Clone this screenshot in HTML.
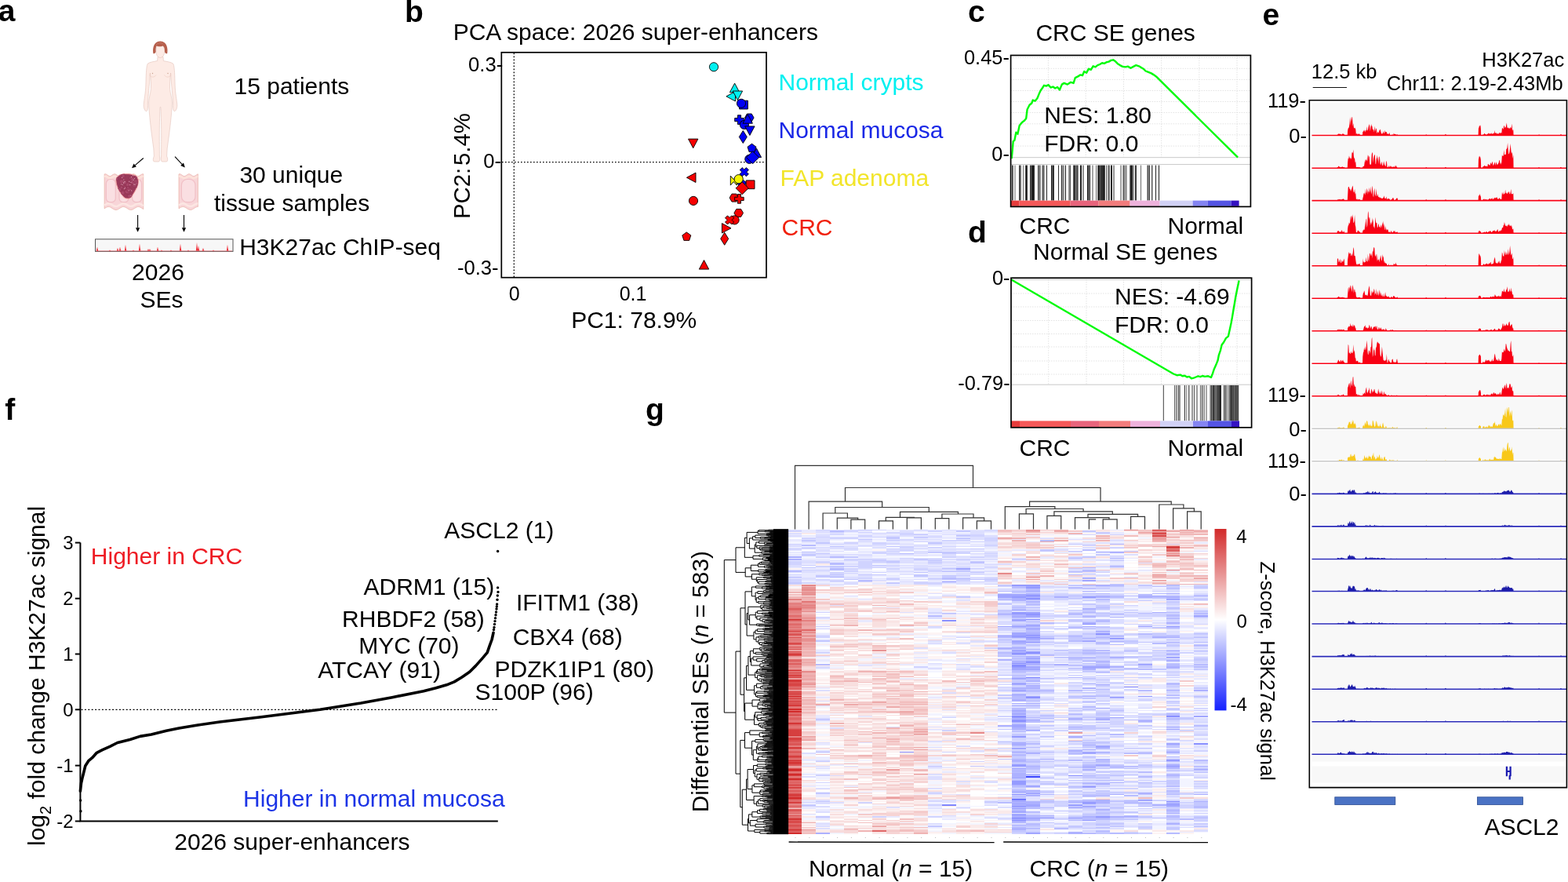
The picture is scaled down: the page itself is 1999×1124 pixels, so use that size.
<!DOCTYPE html>
<html><head><meta charset="utf-8"><title>Figure</title>
<style>html,body{margin:0;padding:0;background:#fff;overflow:hidden}svg{display:block}</style></head>
<body>
<svg width="1999" height="1124" viewBox="0 0 1999 1124" font-family="'Liberation Sans', Arial, Helvetica, sans-serif" font-size="30">
<text x="-2.3" y="27.2" font-size="39" font-weight="bold">a</text>
<path d="M201,72.5 L200.6,77.6 C196,78.6 190.5,79 188,81.5 C186.3,86 186.2,98 185.9,108 C185.6,119 183.6,127 183.2,133.5 C182.9,137.5 184.8,141.8 186.6,141.8 C188.3,141.5 188.8,137 188.4,133 C188.6,122 190.6,110 191.4,93 C192.2,100 192.8,108 192.4,113.5 C191.8,120 189.6,125 189.7,131 C190,146 192.5,165 195.8,189 L196.4,199 C195.2,201.5 194.6,205.2 196.4,206 L202.6,206 C204.2,205 203.8,201.5 203.4,199 C203.4,187 202.8,162 204.1,136.5 L204.9,136.5 C206.2,162 205.6,187 205.6,199 C205.2,201.5 204.8,205 206.4,206 L212.6,206 C214.4,205.2 213.8,201.5 212.6,199 L213.2,189 C216.5,165 219,146 219.3,131 C219.4,125 217.2,120 216.6,113.5 C216.2,108 216.8,100 217.6,93 C218.4,110 220.4,122 220.6,133 C220.2,137 220.7,141.5 222.4,141.8 C224.2,141.8 226.1,137.5 225.8,133.5 C225.4,127 223.4,119 223.1,108 C222.8,98 222.7,86 221,81.5 C218.5,79 213,78.6 208.4,77.6 L208,72.5 Z" fill="#fdebe5" stroke="#e3c3bb" stroke-width="0.6"/>
<ellipse cx="204.3" cy="65" rx="5.6" ry="8.6" fill="#fdebe5" stroke="#e3c3bb" stroke-width="0.6"/>
<path d="M195.4,68.2 C194.4,62 195.4,52.8 204.3,52.4 C213.2,52.8 214.2,62 213.2,68.2 C211.8,68.8 210.4,67.6 210,66 C210.2,61.5 209.2,59.4 207.6,58.4 C205.2,59.6 201.2,59.6 199.6,58.6 C198.6,60.2 198.4,63.2 198.6,66 C198,67.6 196.6,68.8 195.4,68.2 Z" fill="#b65f4c"/>
<path d="M199,57 C201,54.5 205,54 207.5,55.5" stroke="#c98270" stroke-width="0.8" fill="none"/>
<circle cx="194.5" cy="93.5" r="0.7" fill="#c9a08c"/><circle cx="214" cy="93.5" r="0.7" fill="#c9a08c"/>
<path d="M190.5,95.5 C192.5,99 197,99 199,95.5 M209.5,95.5 C211.5,99 216,99 218,95.5" fill="none" stroke="#ecc9be" stroke-width="0.6"/>
<line x1="182.8" y1="201.5" x2="172.2" y2="210.6" stroke="#000" stroke-width="1.1"/><polygon points="168,214.2 170.5,208.6 173.9,212.6" fill="#000"/>
<line x1="223" y1="199.6" x2="232.1" y2="209.4" stroke="#000" stroke-width="1.1"/><polygon points="235.8,213.4 230.2,211.1 234,207.6" fill="#000"/>
<polygon points="133.1,221.9 134.3,221.7 135.6,222.1 136.8,222.9 138.1,223.8 139.3,224.4 140.6,224.5 141.8,224 143,223.1 144.3,222.3 145.5,221.8 146.8,221.8 148,222.3 149.3,223.2 150.5,224 151.7,224.5 153,224.4 154.2,223.7 155.5,222.8 156.7,222.1 157.9,221.7 159.2,221.9 160.4,222.6 161.7,223.5 162.9,224.2 164.2,224.5 165.4,224.2 166.6,223.4 167.9,222.5 169.1,221.9 170.4,221.7 171.6,222.1 172.9,222.9 174.1,223.8 175.3,224.4 176.6,224.5 177.8,224 179.1,223.1 180.3,222.3 181.6,221.8 182.8,221.8 182.8,266.6 181.6,265.8 180.3,265 179.1,264.3 177.8,263.7 176.6,263.5 175.3,263.6 174.1,264 172.9,264.7 171.6,265.5 170.4,266.3 169.1,267 167.9,267.4 166.6,267.5 165.4,267.3 164.2,266.8 162.9,266 161.7,265.2 160.4,264.5 159.2,263.9 157.9,263.5 156.7,263.5 155.5,263.9 154.2,264.5 153,265.2 151.7,266.1 150.5,266.8 149.3,267.3 148,267.5 146.8,267.4 145.5,266.9 144.3,266.3 143,265.5 141.8,264.7 140.6,264 139.3,263.6 138.1,263.5 136.8,263.7 135.6,264.3 134.3,265 133.1,265.8" fill="#f8d5d8" stroke="#e6a898" stroke-width="0.6"/>
<polyline points="133.1,224.9 134.3,224.7 135.6,225 136.8,225.7 138.1,226.5 139.3,227 140.6,227.1 141.8,226.7 143,225.9 144.3,225.2 145.5,224.8 146.8,224.8 148,225.3 149.3,226 150.5,226.7 151.7,227.1 153,227 154.2,226.4 155.5,225.7 156.7,225 157.9,224.7 159.2,224.9 160.4,225.5 161.7,226.3 162.9,226.9 164.2,227.1 165.4,226.8 166.6,226.2 167.9,225.4 169.1,224.9 170.4,224.7 171.6,225.1 172.9,225.7 174.1,226.5 175.3,227 176.6,227.1 177.8,226.6 179.1,225.9 180.3,225.2 181.6,224.7 182.8,224.8" fill="none" stroke="#fde3da" stroke-width="2.4"/>
<polyline points="182.8,262.2 181.6,261.5 180.3,260.7 179.1,260.1 177.8,259.6 176.6,259.4 175.3,259.5 174.1,259.9 172.9,260.5 171.6,261.2 170.4,261.9 169.1,262.5 167.9,262.9 166.6,263 165.4,262.8 164.2,262.3 162.9,261.7 161.7,260.9 160.4,260.3 159.2,259.7 157.9,259.4 156.7,259.4 155.5,259.7 154.2,260.3 153,261 151.7,261.7 150.5,262.4 149.3,262.8 148,263 146.8,262.9 145.5,262.5 144.3,261.9 143,261.2 141.8,260.4 140.6,259.9 139.3,259.5 138.1,259.4 136.8,259.6 135.6,260.1 134.3,260.8 133.1,261.5" fill="none" stroke="#fce6e2" stroke-width="2.6"/>
<rect x="135.4" y="228.5" width="11.9" height="29.2" rx="5" fill="#fadfe2" stroke="#f1c0c6" stroke-width="1.2"/>
<rect x="152" y="228.5" width="11.9" height="29.2" rx="5" fill="#fadfe2" stroke="#f1c0c6" stroke-width="1.2"/>
<rect x="168.6" y="228.5" width="11.9" height="29.2" rx="5" fill="#fadfe2" stroke="#f1c0c6" stroke-width="1.2"/>
<clipPath id="tum"><path d="M148,232 C147.2,224.5 152,221.6 161,221.6 C170,221.6 176.6,224 176.4,231 C176.2,238 171,246 167,251.5 C164,254 159.5,253.4 157,250.5 C153,245.5 148.6,238 148,232 Z"/></clipPath>
<path d="M148,232 C147.2,224.5 152,221.6 161,221.6 C170,221.6 176.6,224 176.4,231 C176.2,238 171,246 167,251.5 C164,254 159.5,253.4 157,250.5 C153,245.5 148.6,238 148,232 Z" fill="#9a3a5a" stroke="#f4a0a0" stroke-width="1"/>
<g clip-path="url(#tum)"><circle cx="154.9" cy="238.9" r="1.9" fill="#a9486a" stroke="#8a2f4f" stroke-width="0.4"/><circle cx="165.5" cy="241.4" r="1.6" fill="#a9486a" stroke="#8a2f4f" stroke-width="0.4"/><circle cx="148.4" cy="248" r="1.8" fill="#a9486a" stroke="#8a2f4f" stroke-width="0.4"/><circle cx="154.8" cy="252.9" r="2" fill="#a9486a" stroke="#8a2f4f" stroke-width="0.4"/><circle cx="172.3" cy="236.8" r="2.2" fill="#a9486a" stroke="#8a2f4f" stroke-width="0.4"/><circle cx="152.4" cy="241.7" r="2.5" fill="#a9486a" stroke="#8a2f4f" stroke-width="0.4"/><circle cx="163.2" cy="245" r="2.2" fill="#a9486a" stroke="#8a2f4f" stroke-width="0.4"/><circle cx="149.9" cy="245.5" r="2.2" fill="#a9486a" stroke="#8a2f4f" stroke-width="0.4"/><circle cx="156.7" cy="223" r="2.5" fill="#a9486a" stroke="#8a2f4f" stroke-width="0.4"/><circle cx="161.7" cy="244.3" r="2.5" fill="#a9486a" stroke="#8a2f4f" stroke-width="0.4"/><circle cx="168.7" cy="250.6" r="1.9" fill="#a9486a" stroke="#8a2f4f" stroke-width="0.4"/><circle cx="171.2" cy="235.8" r="2.5" fill="#a9486a" stroke="#8a2f4f" stroke-width="0.4"/><circle cx="173.5" cy="225" r="1.6" fill="#a9486a" stroke="#8a2f4f" stroke-width="0.4"/><circle cx="154.3" cy="251.9" r="2" fill="#a9486a" stroke="#8a2f4f" stroke-width="0.4"/><circle cx="166.2" cy="231.3" r="2.1" fill="#a9486a" stroke="#8a2f4f" stroke-width="0.4"/><circle cx="159.2" cy="232.9" r="2.1" fill="#a9486a" stroke="#8a2f4f" stroke-width="0.4"/><circle cx="164.9" cy="250" r="2.3" fill="#a9486a" stroke="#8a2f4f" stroke-width="0.4"/><circle cx="174.9" cy="248.5" r="2.6" fill="#a9486a" stroke="#8a2f4f" stroke-width="0.4"/><circle cx="167.5" cy="227.1" r="2.4" fill="#a9486a" stroke="#8a2f4f" stroke-width="0.4"/><circle cx="176" cy="250" r="2.1" fill="#a9486a" stroke="#8a2f4f" stroke-width="0.4"/><circle cx="168.7" cy="228.5" r="2.4" fill="#a9486a" stroke="#8a2f4f" stroke-width="0.4"/><circle cx="164.6" cy="230.8" r="1.6" fill="#a9486a" stroke="#8a2f4f" stroke-width="0.4"/><circle cx="172.8" cy="252.7" r="1.6" fill="#a9486a" stroke="#8a2f4f" stroke-width="0.4"/><circle cx="171.2" cy="234.7" r="1.7" fill="#a9486a" stroke="#8a2f4f" stroke-width="0.4"/><circle cx="156.5" cy="245.8" r="2.5" fill="#a9486a" stroke="#8a2f4f" stroke-width="0.4"/><circle cx="149.3" cy="241.1" r="1.5" fill="#a9486a" stroke="#8a2f4f" stroke-width="0.4"/><circle cx="168.8" cy="232.3" r="2.5" fill="#a9486a" stroke="#8a2f4f" stroke-width="0.4"/><circle cx="176.4" cy="237.7" r="2.6" fill="#a9486a" stroke="#8a2f4f" stroke-width="0.4"/><circle cx="157" cy="224.4" r="2.2" fill="#a9486a" stroke="#8a2f4f" stroke-width="0.4"/><circle cx="148.9" cy="228.1" r="1.9" fill="#a9486a" stroke="#8a2f4f" stroke-width="0.4"/><circle cx="165.7" cy="226.8" r="1.5" fill="#a9486a" stroke="#8a2f4f" stroke-width="0.4"/><circle cx="173.2" cy="231.7" r="2.6" fill="#a9486a" stroke="#8a2f4f" stroke-width="0.4"/><circle cx="174" cy="233.7" r="2" fill="#a9486a" stroke="#8a2f4f" stroke-width="0.4"/><circle cx="163.1" cy="242" r="2.2" fill="#a9486a" stroke="#8a2f4f" stroke-width="0.4"/><circle cx="164.2" cy="241.2" r="2.5" fill="#a9486a" stroke="#8a2f4f" stroke-width="0.4"/><circle cx="162.7" cy="235.4" r="2.3" fill="#a9486a" stroke="#8a2f4f" stroke-width="0.4"/><circle cx="154.9" cy="231.3" r="2.6" fill="#a9486a" stroke="#8a2f4f" stroke-width="0.4"/><circle cx="163.1" cy="239" r="1.5" fill="#a9486a" stroke="#8a2f4f" stroke-width="0.4"/><circle cx="160" cy="240" r="1.5" fill="#a9486a" stroke="#8a2f4f" stroke-width="0.4"/><circle cx="165.9" cy="241.6" r="1.6" fill="#a9486a" stroke="#8a2f4f" stroke-width="0.4"/><circle cx="165.7" cy="235.6" r="0.6" fill="#e0a8bc"/><circle cx="167" cy="232.5" r="0.6" fill="#e0a8bc"/><circle cx="167.7" cy="242.9" r="0.6" fill="#e0a8bc"/><circle cx="150.6" cy="224.6" r="0.6" fill="#e0a8bc"/><circle cx="166.9" cy="249" r="0.6" fill="#e0a8bc"/><circle cx="156.3" cy="235.3" r="0.6" fill="#e0a8bc"/><circle cx="164.8" cy="231.6" r="0.6" fill="#e0a8bc"/><circle cx="159.1" cy="231.4" r="0.6" fill="#e0a8bc"/><circle cx="159.2" cy="239.1" r="0.6" fill="#e0a8bc"/><circle cx="157.5" cy="233.2" r="0.6" fill="#e0a8bc"/><circle cx="169.3" cy="223.7" r="0.6" fill="#e0a8bc"/><circle cx="164.2" cy="242.8" r="0.6" fill="#e0a8bc"/><circle cx="157.8" cy="229" r="0.6" fill="#e0a8bc"/><circle cx="170.1" cy="229.4" r="0.6" fill="#e0a8bc"/><circle cx="154.7" cy="234.8" r="0.6" fill="#e0a8bc"/><circle cx="167.5" cy="225.7" r="0.6" fill="#e0a8bc"/><circle cx="158" cy="232" r="0.6" fill="#e0a8bc"/><circle cx="170.8" cy="234.8" r="0.6" fill="#e0a8bc"/><circle cx="171.4" cy="227.6" r="0.6" fill="#e0a8bc"/><circle cx="158.4" cy="240.6" r="0.6" fill="#e0a8bc"/><circle cx="172.1" cy="235.2" r="0.6" fill="#e0a8bc"/><circle cx="155.6" cy="226.3" r="0.6" fill="#e0a8bc"/></g>
<polygon points="228,221.9 228.6,221.7 229.2,221.7 229.8,221.8 230.4,222.1 231.1,222.4 231.7,222.9 232.3,223.3 232.9,223.7 233.5,224.1 234.1,224.3 234.7,224.5 235.3,224.5 235.9,224.3 236.5,224.1 237.2,223.7 237.8,223.3 238.4,222.8 239,222.4 239.6,222.1 240.2,221.8 240.8,221.7 241.4,221.7 242,221.9 242.6,222.2 243.2,222.6 243.9,223 244.5,223.4 245.1,223.9 245.7,224.2 246.3,224.4 246.9,224.5 247.5,224.4 248.1,224.3 248.7,224 249.3,223.6 250,223.1 250.6,222.7 251.2,222.3 251.8,222 252.4,221.8 252.4,263.5 251.8,263.5 251.2,263.6 250.6,263.8 250,264 249.3,264.4 248.7,264.7 248.1,265.1 247.5,265.5 246.9,265.9 246.3,266.3 245.7,266.6 245.1,266.9 244.5,267.2 243.9,267.4 243.2,267.5 242.6,267.5 242,267.4 241.4,267.3 240.8,267.1 240.2,266.8 239.6,266.5 239,266.1 238.4,265.7 237.8,265.3 237.2,264.9 236.5,264.6 235.9,264.2 235.3,264 234.7,263.7 234.1,263.6 233.5,263.5 232.9,263.5 232.3,263.6 231.7,263.8 231.1,264 230.4,264.3 229.8,264.6 229.2,265 228.6,265.4 228,265.8" fill="#f8d5d8" stroke="#e6a898" stroke-width="0.6"/>
<polyline points="228,224.9 228.6,224.7 229.2,224.7 229.8,224.8 230.4,225 231.1,225.3 231.7,225.7 232.3,226.1 232.9,226.4 233.5,226.7 234.1,227 234.7,227.1 235.3,227.1 235.9,227 236.5,226.7 237.2,226.4 237.8,226.1 238.4,225.7 239,225.3 239.6,225 240.2,224.8 240.8,224.7 241.4,224.7 242,224.9 242.6,225.1 243.2,225.4 243.9,225.8 244.5,226.2 245.1,226.5 245.7,226.8 246.3,227 246.9,227.1 247.5,227.1 248.1,226.9 248.7,226.6 249.3,226.3 250,225.9 250.6,225.5 251.2,225.2 251.8,224.9 252.4,224.8" fill="none" stroke="#fde3da" stroke-width="2.4"/>
<polyline points="252.4,259.4 251.8,259.4 251.2,259.5 250.6,259.7 250,259.9 249.3,260.2 248.7,260.5 248.1,260.8 247.5,261.2 246.9,261.5 246.3,261.9 245.7,262.2 245.1,262.5 244.5,262.7 243.9,262.9 243.2,263 242.6,263 242,262.9 241.4,262.8 240.8,262.6 240.2,262.4 239.6,262.1 239,261.8 238.4,261.4 237.8,261.1 237.2,260.7 236.5,260.4 235.9,260.1 235.3,259.8 234.7,259.6 234.1,259.5 233.5,259.4 232.9,259.4 232.3,259.5 231.7,259.6 231.1,259.9 230.4,260.1 229.8,260.4 229.2,260.8 228.6,261.1 228,261.5" fill="none" stroke="#fce6e2" stroke-width="2.6"/>
<rect x="231.4" y="228.5" width="17.6" height="29.2" rx="7.3" fill="#fadfe2" stroke="#f1c0c6" stroke-width="1.2"/>
<line x1="175.6" y1="274" x2="175.6" y2="290.3" stroke="#000" stroke-width="1.1"/><polygon points="175.6,295.8 173,290.3 178.2,290.3" fill="#000"/>
<line x1="234.5" y1="274" x2="234.5" y2="290.3" stroke="#000" stroke-width="1.1"/><polygon points="234.5,295.8 231.9,290.3 237.1,290.3" fill="#000"/>
<rect x="121.5" y="304.8" width="175.5" height="15.6" fill="#f7f7f7" stroke="#555" stroke-width="1"/>
<polygon points="122.5,319.8 122.8,319.8 124,314.4 124.6,317.4 125.4,319.8 138.8,319.8 140,318.4 140.6,319.2 141.4,319.8 148.8,319.8 150,315.8 150.6,318 151.4,319.8 151.8,319.8 153,314.4 153.6,317.4 154.4,319.8 158.8,319.8 160,311.7 160.6,316.2 161.4,319.8 168.8,319.8 170,318.4 170.6,319.2 171.4,319.8 176.8,319.8 178,310.4 178.6,315.6 179.4,319.8 187.8,319.8 189,317.1 189.6,318.6 190.4,319.8 189.8,319.8 191,317.1 191.6,318.6 192.4,319.8 199.8,319.8 201,314.4 201.6,317.4 202.4,319.8 204.8,319.8 206,318.4 206.6,319.2 207.4,319.8 216.8,319.8 218,318.4 218.6,319.2 219.4,319.8 228.8,319.8 230,310.4 230.6,315.6 231.4,319.8 238.8,319.8 240,318.4 240.6,319.2 241.4,319.8 249.8,319.8 251,309 251.6,315 252.4,319.8 251.8,319.8 253,313.1 253.6,316.8 254.4,319.8 257.8,319.8 259,315.8 259.6,318 260.4,319.8 270.8,319.8 272,318.4 272.6,319.2 273.4,319.8 288.8,319.8 290,311.7 290.6,316.2 291.4,319.8 296,319.8" fill="#f0303a"/>
<line x1="122.5" y1="319.8" x2="296" y2="319.8" stroke="#f0606a" stroke-width="0.6"/>
<text x="298.5" y="119.6">15 patients</text>
<text x="305.4" y="233">30 unique</text>
<text x="272.9" y="268.5">tissue samples</text>
<text x="305.2" y="324.5">H3K27ac ChIP-seq</text>
<text x="168.1" y="356.9">2026</text>
<text x="178.6" y="392.4">SEs</text>
<text x="516.1" y="27.6" font-size="39" font-weight="bold">b</text>
<text x="577.7" y="51.3">PCA space: 2026 super-enhancers</text>
<rect x="639.3" y="66.8" width="337.7" height="286.9" fill="none" stroke="#000" stroke-width="1.7"/>
<line x1="655.3" y1="67.6" x2="655.3" y2="353" stroke="#000" stroke-width="1.3" stroke-dasharray="1.6,2.4"/>
<line x1="640" y1="206.6" x2="976.2" y2="206.6" stroke="#000" stroke-width="1.3" stroke-dasharray="1.6,2.4"/>
<text x="597.1" y="90.7" font-size="25.6">0.3-</text>
<text x="616.3" y="214.1" font-size="25.6">0-</text>
<text x="583" y="349.8" font-size="25.6">-0.3-</text>
<text x="648.7" y="382.5" font-size="25">0</text>
<text x="789.7" y="382.5" font-size="25">0.1</text>
<text x="728.2" y="418">PC1: 78.9%</text>
<text transform="translate(598.8,276.7) rotate(-90)" x="-2.4" font-size="29.4">PC2:<tspan dx="-5.5"> 5.4%</tspan></text>
<text x="992.5" y="115" fill="#00f0f0">Normal crypts</text>
<text x="992.5" y="175.6" fill="#1a28e6">Normal mucosa</text>
<text x="994.5" y="237.3" fill="#f2e52a">FAP adenoma</text>
<text x="996.5" y="299.6" fill="#f0200a">CRC</text>
<polygon points="883.7,188.7 889.9,177.1 877.5,177.1" fill="#f50000" stroke="#000" stroke-width="0.9" stroke-linejoin="miter"/>
<polygon points="875.4,226.3 887,220.1 887,232.5" fill="#f50000" stroke="#000" stroke-width="0.9" stroke-linejoin="miter"/>
<circle cx="884" cy="255.9" r="5.6" fill="#f50000" stroke="#000" stroke-width="0.9" stroke-linejoin="miter"/>
<polygon points="875.3,295.9 880.8,299.9 878.7,306.4 871.9,306.4 869.8,299.9" fill="#f50000" stroke="#000" stroke-width="0.9" stroke-linejoin="miter"/>
<polygon points="897.5,331.5 903.7,343.1 891.3,343.1" fill="#f50000" stroke="#000" stroke-width="0.9" stroke-linejoin="miter"/>
<circle cx="910" cy="85.3" r="5.6" fill="#00f0f0" stroke="#000" stroke-width="0.9" stroke-linejoin="miter"/>
<polygon points="936.6,106.1 942.8,117.7 930.4,117.7" fill="#00f0f0" stroke="#000" stroke-width="0.9" stroke-linejoin="miter"/>
<polygon points="925.9,122.8 937.5,116.6 937.5,129" fill="#00f0f0" stroke="#000" stroke-width="0.9" stroke-linejoin="miter"/>
<polygon points="940.4,127.6 946.6,116 934.2,116" fill="#00f0f0" stroke="#000" stroke-width="0.9" stroke-linejoin="miter"/>
<polygon points="942.6,128.2 953.4,128.2 953.4,139 942.6,139" fill="#0000f5" stroke="#000" stroke-width="0.9" stroke-linejoin="miter"/>
<circle cx="945" cy="131.8" r="5.6" fill="#0000f5" stroke="#000" stroke-width="0.9" stroke-linejoin="miter"/>
<polygon points="961.1,150 958.2,155 952.4,155 949.5,150 952.4,145 958.2,145" fill="#0000f5" stroke="#000" stroke-width="0.9" stroke-linejoin="miter"/>
<polygon points="940.4,146.8 944.6,146.8 944.6,150.5 948.3,150.5 948.3,154.7 944.6,154.7 944.6,158.4 940.4,158.4 940.4,154.7 936.7,154.7 936.7,150.5 940.4,150.5" fill="#0000f5" stroke="#000" stroke-width="0.9" stroke-linejoin="miter"/>
<circle cx="948.9" cy="159" r="5.6" fill="#0000f5" stroke="#000" stroke-width="0.9" stroke-linejoin="miter"/>
<polygon points="953.2,145.6 959.4,157.2 947,157.2" fill="#0000f5" stroke="#000" stroke-width="0.9" stroke-linejoin="miter"/>
<polygon points="955.9,172.5 962.1,160.9 949.7,160.9" fill="#0000f5" stroke="#000" stroke-width="0.9" stroke-linejoin="miter"/>
<polygon points="947.3,166.5 952.3,174.5 947.3,182.5 942.3,174.5" fill="#0000f5" stroke="#000" stroke-width="0.9" stroke-linejoin="miter"/>
<polygon points="958.5,183.2 964,187.2 961.9,193.7 955.1,193.7 953,187.2" fill="#0000f5" stroke="#000" stroke-width="0.9" stroke-linejoin="miter"/>
<polygon points="964.4,188.9 970.6,200.5 958.2,200.5" fill="#0000f5" stroke="#000" stroke-width="0.9" stroke-linejoin="miter"/>
<circle cx="955.3" cy="202.8" r="5.6" fill="#0000f5" stroke="#000" stroke-width="0.9" stroke-linejoin="miter"/>
<polygon points="959.6,192.7 967.6,200.7 959.6,208.7 951.6,200.7" fill="#0000f5" stroke="#000" stroke-width="0.9" stroke-linejoin="miter"/>
<polygon points="951.4,213.6 954.4,216.6 951.8,219.2 954.4,221.8 951.4,224.8 948.8,222.2 946.2,224.8 943.2,221.8 945.8,219.2 943.2,216.6 946.2,213.6 948.8,216.2" fill="#0000f5" stroke="#000" stroke-width="0.9" stroke-linejoin="miter"/>
<polygon points="945.6,228.2 951.1,232.2 949,238.7 942.2,238.7 940.1,232.2" fill="#0000f5" stroke="#000" stroke-width="0.9" stroke-linejoin="miter"/>
<polygon points="931.3,224.1 935.3,228.6 939.3,224.1 939.3,236.1 935.3,231.6 931.3,236.1" fill="#f5f500" stroke="#000" stroke-width="0.9" stroke-linejoin="miter"/>
<circle cx="941.7" cy="228.2" r="5.6" fill="#f5f500" stroke="#000" stroke-width="0.9" stroke-linejoin="miter"/>
<polygon points="951.2,229.9 962,229.9 962,240.7 951.2,240.7" fill="#f50000" stroke="#000" stroke-width="0.9" stroke-linejoin="miter"/>
<polygon points="946.2,231.8 954.2,239.8 946.2,247.8 938.2,239.8" fill="#f50000" stroke="#000" stroke-width="0.9" stroke-linejoin="miter"/>
<polygon points="941.7,252.1 938.8,257.1 933,257.1 930.1,252.1 933,247.1 938.8,247.1" fill="#f50000" stroke="#000" stroke-width="0.9" stroke-linejoin="miter"/>
<polygon points="940.3,247.6 944.5,247.6 944.5,251.3 948.2,251.3 948.2,255.5 944.5,255.5 944.5,259.2 940.3,259.2 940.3,255.5 936.6,255.5 936.6,251.3 940.3,251.3" fill="#f50000" stroke="#000" stroke-width="0.9" stroke-linejoin="miter"/>
<polygon points="947.5,271.4 944.6,276.4 938.8,276.4 935.9,271.4 938.8,266.4 944.6,266.4" fill="#f50000" stroke="#000" stroke-width="0.9" stroke-linejoin="miter"/>
<circle cx="936.6" cy="280.4" r="5.6" fill="#f50000" stroke="#000" stroke-width="0.9" stroke-linejoin="miter"/>
<polygon points="932.7,274.8 935.7,277.8 933.1,280.4 935.7,283 932.7,286 930.1,283.4 927.5,286 924.5,283 927.1,280.4 924.5,277.8 927.5,274.8 930.1,277.4" fill="#f50000" stroke="#000" stroke-width="0.9" stroke-linejoin="miter"/>
<polygon points="932,290.8 920.4,284.6 920.4,297" fill="#f50000" stroke="#000" stroke-width="0.9" stroke-linejoin="miter"/>
<polygon points="923.7,296.3 928.7,304.3 923.7,312.3 918.7,304.3" fill="#f50000" stroke="#000" stroke-width="0.9" stroke-linejoin="miter"/>
<text x="1234.1" y="27.6" font-size="39" font-weight="bold">c</text>
<text x="1320.4" y="52.1">CRC SE genes</text>
<line x1="1336.4" y1="70.5" x2="1336.4" y2="200" stroke="#dcdcdc" stroke-width="0.8" stroke-dasharray="1.5,1.5"/><line x1="1384.2" y1="70.5" x2="1384.2" y2="200" stroke="#dcdcdc" stroke-width="0.8" stroke-dasharray="1.5,1.5"/><line x1="1432.5" y1="70.5" x2="1432.5" y2="200" stroke="#dcdcdc" stroke-width="0.8" stroke-dasharray="1.5,1.5"/><line x1="1480.6" y1="70.5" x2="1480.6" y2="200" stroke="#dcdcdc" stroke-width="0.8" stroke-dasharray="1.5,1.5"/><line x1="1528.8" y1="70.5" x2="1528.8" y2="200" stroke="#dcdcdc" stroke-width="0.8" stroke-dasharray="1.5,1.5"/><line x1="1577" y1="70.5" x2="1577" y2="200" stroke="#dcdcdc" stroke-width="0.8" stroke-dasharray="1.5,1.5"/><line x1="1288.6" y1="73.3" x2="1594.4" y2="73.3" stroke="#dcdcdc" stroke-width="0.8" stroke-dasharray="1.5,1.5"/><line x1="1288.6" y1="87.3" x2="1594.4" y2="87.3" stroke="#dcdcdc" stroke-width="0.8" stroke-dasharray="1.5,1.5"/><line x1="1288.6" y1="101.4" x2="1594.4" y2="101.4" stroke="#dcdcdc" stroke-width="0.8" stroke-dasharray="1.5,1.5"/><line x1="1288.6" y1="115.5" x2="1594.4" y2="115.5" stroke="#dcdcdc" stroke-width="0.8" stroke-dasharray="1.5,1.5"/><line x1="1288.6" y1="129.5" x2="1594.4" y2="129.5" stroke="#dcdcdc" stroke-width="0.8" stroke-dasharray="1.5,1.5"/><line x1="1288.6" y1="143.5" x2="1594.4" y2="143.5" stroke="#dcdcdc" stroke-width="0.8" stroke-dasharray="1.5,1.5"/><line x1="1288.6" y1="157.8" x2="1594.4" y2="157.8" stroke="#dcdcdc" stroke-width="0.8" stroke-dasharray="1.5,1.5"/><line x1="1288.6" y1="171.8" x2="1594.4" y2="171.8" stroke="#dcdcdc" stroke-width="0.8" stroke-dasharray="1.5,1.5"/><line x1="1288.6" y1="186.1" x2="1594.4" y2="186.1" stroke="#dcdcdc" stroke-width="0.8" stroke-dasharray="1.5,1.5"/>
<line x1="1288.6" y1="200.7" x2="1594.4" y2="200.7" stroke="#c8c8c8" stroke-width="1"/>
<line x1="1288.6" y1="209.6" x2="1594.4" y2="209.6" stroke="#c8c8c8" stroke-width="1"/>
<line x1="1290.5" y1="210.6" x2="1290.5" y2="255.6" stroke="rgb(60,60,60)" stroke-width="0.9"/><line x1="1291.2" y1="210.6" x2="1291.2" y2="255.6" stroke="rgb(25,25,25)" stroke-width="0.9"/><line x1="1294" y1="210.6" x2="1294" y2="255.6" stroke="rgb(90,90,90)" stroke-width="0.9"/><line x1="1299.5" y1="210.6" x2="1299.5" y2="255.6" stroke="rgb(25,25,25)" stroke-width="0.9"/><line x1="1300.5" y1="210.6" x2="1300.5" y2="255.6" stroke="rgb(90,90,90)" stroke-width="0.9"/><line x1="1301.5" y1="210.6" x2="1301.5" y2="255.6" stroke="rgb(90,90,90)" stroke-width="0.9"/><line x1="1304.5" y1="210.6" x2="1304.5" y2="255.6" stroke="rgb(90,90,90)" stroke-width="0.9"/><line x1="1307.5" y1="210.6" x2="1307.5" y2="255.6" stroke="rgb(60,60,60)" stroke-width="0.9"/><line x1="1308.5" y1="210.6" x2="1308.5" y2="255.6" stroke="rgb(0,0,0)" stroke-width="0.9"/><line x1="1309.5" y1="210.6" x2="1309.5" y2="255.6" stroke="rgb(40,40,40)" stroke-width="0.9"/><line x1="1313.5" y1="210.6" x2="1313.5" y2="255.6" stroke="rgb(10,10,10)" stroke-width="0.9"/><line x1="1314.5" y1="210.6" x2="1314.5" y2="255.6" stroke="rgb(90,90,90)" stroke-width="0.9"/><line x1="1315.5" y1="210.6" x2="1315.5" y2="255.6" stroke="rgb(0,0,0)" stroke-width="0.9"/><line x1="1316.5" y1="210.6" x2="1316.5" y2="255.6" stroke="rgb(10,10,10)" stroke-width="0.9"/><line x1="1317.5" y1="210.6" x2="1317.5" y2="255.6" stroke="rgb(0,0,0)" stroke-width="0.9"/><line x1="1318.5" y1="210.6" x2="1318.5" y2="255.6" stroke="rgb(25,25,25)" stroke-width="0.9"/><line x1="1323.5" y1="210.6" x2="1323.5" y2="255.6" stroke="rgb(40,40,40)" stroke-width="0.9"/><line x1="1325" y1="210.6" x2="1325" y2="255.6" stroke="rgb(10,10,10)" stroke-width="0.9"/><line x1="1326" y1="210.6" x2="1326" y2="255.6" stroke="rgb(40,40,40)" stroke-width="0.9"/><line x1="1329" y1="210.6" x2="1329" y2="255.6" stroke="rgb(60,60,60)" stroke-width="0.9"/><line x1="1330" y1="210.6" x2="1330" y2="255.6" stroke="rgb(0,0,0)" stroke-width="0.9"/><line x1="1331" y1="210.6" x2="1331" y2="255.6" stroke="rgb(60,60,60)" stroke-width="0.9"/><line x1="1334.5" y1="210.6" x2="1334.5" y2="255.6" stroke="rgb(10,10,10)" stroke-width="0.9"/><line x1="1340.5" y1="210.6" x2="1340.5" y2="255.6" stroke="rgb(0,0,0)" stroke-width="0.9"/><line x1="1341.5" y1="210.6" x2="1341.5" y2="255.6" stroke="rgb(90,90,90)" stroke-width="0.9"/><line x1="1342.5" y1="210.6" x2="1342.5" y2="255.6" stroke="rgb(10,10,10)" stroke-width="0.9"/><line x1="1343.5" y1="210.6" x2="1343.5" y2="255.6" stroke="rgb(40,40,40)" stroke-width="0.9"/><line x1="1349.5" y1="210.6" x2="1349.5" y2="255.6" stroke="rgb(25,25,25)" stroke-width="0.9"/><line x1="1353.5" y1="210.6" x2="1353.5" y2="255.6" stroke="rgb(10,10,10)" stroke-width="0.9"/><line x1="1354" y1="210.6" x2="1354" y2="255.6" stroke="rgb(40,40,40)" stroke-width="0.9"/><line x1="1356" y1="210.6" x2="1356" y2="255.6" stroke="rgb(10,10,10)" stroke-width="0.9"/><line x1="1358.5" y1="210.6" x2="1358.5" y2="255.6" stroke="rgb(0,0,0)" stroke-width="0.9"/><line x1="1363" y1="210.6" x2="1363" y2="255.6" stroke="rgb(10,10,10)" stroke-width="0.9"/><line x1="1364.5" y1="210.6" x2="1364.5" y2="255.6" stroke="rgb(60,60,60)" stroke-width="0.9"/><line x1="1368.5" y1="210.6" x2="1368.5" y2="255.6" stroke="rgb(60,60,60)" stroke-width="0.9"/><line x1="1369.5" y1="210.6" x2="1369.5" y2="255.6" stroke="rgb(40,40,40)" stroke-width="0.9"/><line x1="1370.5" y1="210.6" x2="1370.5" y2="255.6" stroke="rgb(10,10,10)" stroke-width="0.9"/><line x1="1372" y1="210.6" x2="1372" y2="255.6" stroke="rgb(10,10,10)" stroke-width="0.9"/><line x1="1373" y1="210.6" x2="1373" y2="255.6" stroke="rgb(0,0,0)" stroke-width="0.9"/><line x1="1374" y1="210.6" x2="1374" y2="255.6" stroke="rgb(0,0,0)" stroke-width="0.9"/><line x1="1377.5" y1="210.6" x2="1377.5" y2="255.6" stroke="rgb(10,10,10)" stroke-width="0.9"/><line x1="1378.5" y1="210.6" x2="1378.5" y2="255.6" stroke="rgb(10,10,10)" stroke-width="0.9"/><line x1="1381" y1="210.6" x2="1381" y2="255.6" stroke="rgb(10,10,10)" stroke-width="0.9"/><line x1="1386.5" y1="210.6" x2="1386.5" y2="255.6" stroke="rgb(10,10,10)" stroke-width="0.9"/><line x1="1387.5" y1="210.6" x2="1387.5" y2="255.6" stroke="rgb(25,25,25)" stroke-width="0.9"/><line x1="1389" y1="210.6" x2="1389" y2="255.6" stroke="rgb(25,25,25)" stroke-width="0.9"/><line x1="1389.5" y1="210.6" x2="1389.5" y2="255.6" stroke="rgb(10,10,10)" stroke-width="0.9"/><line x1="1393" y1="210.6" x2="1393" y2="255.6" stroke="rgb(60,60,60)" stroke-width="0.9"/><line x1="1397.5" y1="210.6" x2="1397.5" y2="255.6" stroke="rgb(90,90,90)" stroke-width="0.9"/><line x1="1399.5" y1="210.6" x2="1399.5" y2="255.6" stroke="rgb(90,90,90)" stroke-width="0.9"/><line x1="1400.5" y1="210.6" x2="1400.5" y2="255.6" stroke="rgb(10,10,10)" stroke-width="0.9"/><line x1="1401.5" y1="210.6" x2="1401.5" y2="255.6" stroke="rgb(10,10,10)" stroke-width="0.9"/><line x1="1402.5" y1="210.6" x2="1402.5" y2="255.6" stroke="rgb(90,90,90)" stroke-width="0.9"/><line x1="1403.5" y1="210.6" x2="1403.5" y2="255.6" stroke="rgb(10,10,10)" stroke-width="0.9"/><line x1="1404.5" y1="210.6" x2="1404.5" y2="255.6" stroke="rgb(40,40,40)" stroke-width="0.9"/><line x1="1405.5" y1="210.6" x2="1405.5" y2="255.6" stroke="rgb(25,25,25)" stroke-width="0.9"/><line x1="1406.5" y1="210.6" x2="1406.5" y2="255.6" stroke="rgb(0,0,0)" stroke-width="0.9"/><line x1="1407.5" y1="210.6" x2="1407.5" y2="255.6" stroke="rgb(25,25,25)" stroke-width="0.9"/><line x1="1408.5" y1="210.6" x2="1408.5" y2="255.6" stroke="rgb(40,40,40)" stroke-width="0.9"/><line x1="1411" y1="210.6" x2="1411" y2="255.6" stroke="rgb(10,10,10)" stroke-width="0.9"/><line x1="1413.5" y1="210.6" x2="1413.5" y2="255.6" stroke="rgb(10,10,10)" stroke-width="0.9"/><line x1="1414" y1="210.6" x2="1414" y2="255.6" stroke="rgb(25,25,25)" stroke-width="0.9"/><line x1="1416.5" y1="210.6" x2="1416.5" y2="255.6" stroke="rgb(0,0,0)" stroke-width="0.9"/><line x1="1417.5" y1="210.6" x2="1417.5" y2="255.6" stroke="rgb(25,25,25)" stroke-width="0.9"/><line x1="1420" y1="210.6" x2="1420" y2="255.6" stroke="rgb(25,25,25)" stroke-width="0.9"/><line x1="1429" y1="210.6" x2="1429" y2="255.6" stroke="rgb(60,60,60)" stroke-width="0.9"/><line x1="1432" y1="210.6" x2="1432" y2="255.6" stroke="rgb(60,60,60)" stroke-width="0.9"/><line x1="1433" y1="210.6" x2="1433" y2="255.6" stroke="rgb(0,0,0)" stroke-width="0.9"/><line x1="1435" y1="210.6" x2="1435" y2="255.6" stroke="rgb(60,60,60)" stroke-width="0.9"/><line x1="1436" y1="210.6" x2="1436" y2="255.6" stroke="rgb(90,90,90)" stroke-width="0.9"/><line x1="1440.5" y1="210.6" x2="1440.5" y2="255.6" stroke="rgb(90,90,90)" stroke-width="0.9"/><line x1="1441.5" y1="210.6" x2="1441.5" y2="255.6" stroke="rgb(25,25,25)" stroke-width="0.9"/><line x1="1442.5" y1="210.6" x2="1442.5" y2="255.6" stroke="rgb(0,0,0)" stroke-width="0.9"/><line x1="1443.5" y1="210.6" x2="1443.5" y2="255.6" stroke="rgb(25,25,25)" stroke-width="0.9"/><line x1="1445" y1="210.6" x2="1445" y2="255.6" stroke="rgb(25,25,25)" stroke-width="0.9"/><line x1="1447.5" y1="210.6" x2="1447.5" y2="255.6" stroke="rgb(25,25,25)" stroke-width="0.9"/><line x1="1448.5" y1="210.6" x2="1448.5" y2="255.6" stroke="rgb(40,40,40)" stroke-width="0.9"/><line x1="1454.5" y1="210.6" x2="1454.5" y2="255.6" stroke="rgb(90,90,90)" stroke-width="0.9"/><line x1="1463" y1="210.6" x2="1463" y2="255.6" stroke="rgb(25,25,25)" stroke-width="0.9"/><line x1="1464" y1="210.6" x2="1464" y2="255.6" stroke="rgb(10,10,10)" stroke-width="0.9"/><line x1="1465.5" y1="210.6" x2="1465.5" y2="255.6" stroke="rgb(40,40,40)" stroke-width="0.9"/><line x1="1468.5" y1="210.6" x2="1468.5" y2="255.6" stroke="rgb(40,40,40)" stroke-width="0.9"/><line x1="1469" y1="210.6" x2="1469" y2="255.6" stroke="rgb(90,90,90)" stroke-width="0.9"/><line x1="1473.5" y1="210.6" x2="1473.5" y2="255.6" stroke="rgb(10,10,10)" stroke-width="0.9"/><line x1="1477.5" y1="210.6" x2="1477.5" y2="255.6" stroke="rgb(0,0,0)" stroke-width="0.9"/>
<rect x="1288.6" y="255.6" width="11" height="7.2" fill="#e63c3c"/><rect x="1299.6" y="255.6" width="65" height="7.2" fill="#f55858"/><rect x="1364.6" y="255.6" width="36" height="7.2" fill="#e8647c"/><rect x="1400.6" y="255.6" width="40" height="7.2" fill="#f27c7c"/><rect x="1440.6" y="255.6" width="38" height="7.2" fill="#eeb2dc"/><rect x="1478.6" y="255.6" width="42" height="7.2" fill="#d2d2f6"/><rect x="1520.6" y="255.6" width="19" height="7.2" fill="#8484f2"/><rect x="1539.6" y="255.6" width="30" height="7.2" fill="#5454e4"/><rect x="1569.6" y="255.6" width="10" height="7.2" fill="#3412c2"/>
<polyline points="1289.7,202.2 1290.5,193.6 1291.7,180 1293.4,178.8 1295.4,168.6 1297.4,170.8 1299.7,160 1301.9,157.2 1303.9,155.2 1305.9,153.8 1308.2,150.9 1309.6,139.5 1312.5,133.8 1315.3,131.5 1316.7,127.6 1319.6,128.7 1322.4,125.3 1324.7,119.6 1326.7,115.3 1328.7,112.5 1331,108.8 1333.8,109.6 1336.7,108.2 1339.5,111.6 1342.4,110.5 1345.2,112.5 1348.1,111 1350.9,114.5 1353.8,107.6 1356.6,105.9 1360.9,107.6 1365.1,104.8 1368.6,105.9 1370.8,99.1 1374.3,97.4 1377.1,95.4 1380,96.2 1382.2,91.1 1385.1,92.8 1387.9,87.7 1390.8,88.8 1393.6,84.3 1396.5,85.4 1399.3,83.1 1402.2,82 1405,80.3 1407.9,80.9 1410.7,79.2 1413.6,78.6 1416.4,76.9 1419.2,76.3 1422.1,78.3 1424.9,81.2 1427.8,83.1 1431.2,84.9 1434.9,85.4 1437.8,84.6 1441.5,86.8 1444.9,84.9 1448.3,83.1 1452,84.3 1454.8,86 1457.7,87.7 1460.5,90.5 1463.4,91.7 1467.7,93.4 1470.5,95.1 1473.9,97.4 1578.1,200.7" fill="none" stroke="#00fa0a" stroke-width="2.4" stroke-linejoin="round"/>
<rect x="1288.6" y="70.5" width="305.8" height="192.9" fill="none" stroke="#000" stroke-width="1.7"/>
<text x="1229" y="81.6" font-size="25.4">0.45-</text>
<text x="1264.3" y="205" font-size="25.4">0-</text>
<text x="1331.3" y="156.6">NES: 1.80</text>
<text x="1331.3" y="193">FDR: 0.0</text>
<text x="1299.5" y="297.5">CRC</text>
<text x="1488.5" y="297.5">Normal</text>
<text x="1234" y="308.6" font-size="39" font-weight="bold">d</text>
<text x="1317.1" y="330.7">Normal SE genes</text>
<line x1="1336.7" y1="356" x2="1336.7" y2="490" stroke="#dcdcdc" stroke-width="0.8" stroke-dasharray="1.5,1.5"/><line x1="1385" y1="356" x2="1385" y2="490" stroke="#dcdcdc" stroke-width="0.8" stroke-dasharray="1.5,1.5"/><line x1="1432.5" y1="356" x2="1432.5" y2="490" stroke="#dcdcdc" stroke-width="0.8" stroke-dasharray="1.5,1.5"/><line x1="1480.5" y1="356" x2="1480.5" y2="490" stroke="#dcdcdc" stroke-width="0.8" stroke-dasharray="1.5,1.5"/><line x1="1529" y1="356" x2="1529" y2="490" stroke="#dcdcdc" stroke-width="0.8" stroke-dasharray="1.5,1.5"/><line x1="1577" y1="356" x2="1577" y2="490" stroke="#dcdcdc" stroke-width="0.8" stroke-dasharray="1.5,1.5"/><line x1="1289" y1="374" x2="1595.6" y2="374" stroke="#dcdcdc" stroke-width="0.8" stroke-dasharray="1.5,1.5"/><line x1="1289" y1="391" x2="1595.6" y2="391" stroke="#dcdcdc" stroke-width="0.8" stroke-dasharray="1.5,1.5"/><line x1="1289" y1="408.5" x2="1595.6" y2="408.5" stroke="#dcdcdc" stroke-width="0.8" stroke-dasharray="1.5,1.5"/><line x1="1289" y1="425.5" x2="1595.6" y2="425.5" stroke="#dcdcdc" stroke-width="0.8" stroke-dasharray="1.5,1.5"/><line x1="1289" y1="442" x2="1595.6" y2="442" stroke="#dcdcdc" stroke-width="0.8" stroke-dasharray="1.5,1.5"/><line x1="1289" y1="460" x2="1595.6" y2="460" stroke="#dcdcdc" stroke-width="0.8" stroke-dasharray="1.5,1.5"/><line x1="1289" y1="477" x2="1595.6" y2="477" stroke="#dcdcdc" stroke-width="0.8" stroke-dasharray="1.5,1.5"/>
<line x1="1289" y1="356.3" x2="1595.6" y2="356.3" stroke="#c8c8c8" stroke-width="1"/>
<line x1="1289" y1="490.2" x2="1595.6" y2="490.2" stroke="#c8c8c8" stroke-width="1"/>
<line x1="1483.3" y1="491" x2="1483.3" y2="536.4" stroke="rgb(40,40,40)" stroke-width="0.9"/><line x1="1497.6" y1="491" x2="1497.6" y2="536.4" stroke="rgb(60,60,60)" stroke-width="0.9"/><line x1="1499.8" y1="491" x2="1499.8" y2="536.4" stroke="rgb(25,25,25)" stroke-width="0.9"/><line x1="1502.2" y1="491" x2="1502.2" y2="536.4" stroke="rgb(25,25,25)" stroke-width="0.9"/><line x1="1504" y1="491" x2="1504" y2="536.4" stroke="rgb(10,10,10)" stroke-width="0.9"/><line x1="1510.4" y1="491" x2="1510.4" y2="536.4" stroke="rgb(10,10,10)" stroke-width="0.9"/><line x1="1512.8" y1="491" x2="1512.8" y2="536.4" stroke="rgb(90,90,90)" stroke-width="0.9"/><line x1="1515.8" y1="491" x2="1515.8" y2="536.4" stroke="rgb(0,0,0)" stroke-width="0.9"/><line x1="1520" y1="491" x2="1520" y2="536.4" stroke="rgb(25,25,25)" stroke-width="0.9"/><line x1="1522.5" y1="491" x2="1522.5" y2="536.4" stroke="rgb(60,60,60)" stroke-width="0.9"/><line x1="1526" y1="491" x2="1526" y2="536.4" stroke="rgb(40,40,40)" stroke-width="0.9"/><line x1="1530.4" y1="491" x2="1530.4" y2="536.4" stroke="rgb(60,60,60)" stroke-width="0.9"/><line x1="1532.6" y1="491" x2="1532.6" y2="536.4" stroke="rgb(0,0,0)" stroke-width="0.9"/><line x1="1535" y1="491" x2="1535" y2="536.4" stroke="rgb(25,25,25)" stroke-width="0.9"/><line x1="1538" y1="491" x2="1538" y2="536.4" stroke="rgb(60,60,60)" stroke-width="0.9"/><line x1="1543" y1="491" x2="1543" y2="536.4" stroke="rgb(60,60,60)" stroke-width="0.9"/><line x1="1543.9" y1="491" x2="1543.9" y2="536.4" stroke="rgb(90,90,90)" stroke-width="0.9"/><line x1="1544.8" y1="491" x2="1544.8" y2="536.4" stroke="rgb(0,0,0)" stroke-width="0.9"/><line x1="1545.7" y1="491" x2="1545.7" y2="536.4" stroke="rgb(90,90,90)" stroke-width="0.9"/><line x1="1546.6" y1="491" x2="1546.6" y2="536.4" stroke="rgb(40,40,40)" stroke-width="0.9"/><line x1="1547.5" y1="491" x2="1547.5" y2="536.4" stroke="rgb(10,10,10)" stroke-width="0.9"/><line x1="1548.4" y1="491" x2="1548.4" y2="536.4" stroke="rgb(90,90,90)" stroke-width="0.9"/><line x1="1549.3" y1="491" x2="1549.3" y2="536.4" stroke="rgb(40,40,40)" stroke-width="0.9"/><line x1="1550.2" y1="491" x2="1550.2" y2="536.4" stroke="rgb(90,90,90)" stroke-width="0.9"/><line x1="1551.1" y1="491" x2="1551.1" y2="536.4" stroke="rgb(40,40,40)" stroke-width="0.9"/><line x1="1552" y1="491" x2="1552" y2="536.4" stroke="rgb(10,10,10)" stroke-width="0.9"/><line x1="1552.9" y1="491" x2="1552.9" y2="536.4" stroke="rgb(10,10,10)" stroke-width="0.9"/><line x1="1553.8" y1="491" x2="1553.8" y2="536.4" stroke="rgb(10,10,10)" stroke-width="0.9"/><line x1="1554.7" y1="491" x2="1554.7" y2="536.4" stroke="rgb(0,0,0)" stroke-width="0.9"/><line x1="1555.6" y1="491" x2="1555.6" y2="536.4" stroke="rgb(0,0,0)" stroke-width="0.9"/><line x1="1556.5" y1="491" x2="1556.5" y2="536.4" stroke="rgb(10,10,10)" stroke-width="0.9"/><line x1="1560" y1="491" x2="1560" y2="536.4" stroke="rgb(60,60,60)" stroke-width="0.9"/><line x1="1561.5" y1="491" x2="1561.5" y2="536.4" stroke="rgb(60,60,60)" stroke-width="0.9"/><line x1="1563" y1="491" x2="1563" y2="536.4" stroke="rgb(0,0,0)" stroke-width="0.9"/><line x1="1565" y1="491" x2="1565" y2="536.4" stroke="rgb(90,90,90)" stroke-width="0.9"/><line x1="1567" y1="491" x2="1567" y2="536.4" stroke="rgb(40,40,40)" stroke-width="0.9"/><line x1="1567.9" y1="491" x2="1567.9" y2="536.4" stroke="rgb(90,90,90)" stroke-width="0.9"/><line x1="1568.8" y1="491" x2="1568.8" y2="536.4" stroke="rgb(0,0,0)" stroke-width="0.9"/><line x1="1569.7" y1="491" x2="1569.7" y2="536.4" stroke="rgb(25,25,25)" stroke-width="0.9"/><line x1="1570.6" y1="491" x2="1570.6" y2="536.4" stroke="rgb(10,10,10)" stroke-width="0.9"/><line x1="1571.5" y1="491" x2="1571.5" y2="536.4" stroke="rgb(90,90,90)" stroke-width="0.9"/><line x1="1572.4" y1="491" x2="1572.4" y2="536.4" stroke="rgb(10,10,10)" stroke-width="0.9"/><line x1="1573.3" y1="491" x2="1573.3" y2="536.4" stroke="rgb(90,90,90)" stroke-width="0.9"/><line x1="1574.2" y1="491" x2="1574.2" y2="536.4" stroke="rgb(40,40,40)" stroke-width="0.9"/><line x1="1575.1" y1="491" x2="1575.1" y2="536.4" stroke="rgb(0,0,0)" stroke-width="0.9"/><line x1="1576" y1="491" x2="1576" y2="536.4" stroke="rgb(25,25,25)" stroke-width="0.9"/><line x1="1576.9" y1="491" x2="1576.9" y2="536.4" stroke="rgb(10,10,10)" stroke-width="0.9"/><line x1="1577.8" y1="491" x2="1577.8" y2="536.4" stroke="rgb(40,40,40)" stroke-width="0.9"/><line x1="1578.7" y1="491" x2="1578.7" y2="536.4" stroke="rgb(25,25,25)" stroke-width="0.9"/>
<rect x="1289" y="536.4" width="11" height="7.8" fill="#e63c3c"/><rect x="1300" y="536.4" width="65" height="7.8" fill="#f55858"/><rect x="1365" y="536.4" width="36" height="7.8" fill="#e8647c"/><rect x="1401" y="536.4" width="40" height="7.8" fill="#f27c7c"/><rect x="1441" y="536.4" width="38" height="7.8" fill="#eeb2dc"/><rect x="1479" y="536.4" width="42" height="7.8" fill="#d2d2f6"/><rect x="1521" y="536.4" width="19" height="7.8" fill="#8484f2"/><rect x="1540" y="536.4" width="30" height="7.8" fill="#5454e4"/><rect x="1570" y="536.4" width="10" height="7.8" fill="#3412c2"/>
<polyline points="1289.1,356.3 1496.1,476.5 1500.4,478.2 1504.7,477.6 1507.5,479.3 1510.4,478.7 1513.2,480.5 1516.1,479.9 1518.9,482.2 1521.8,481.6 1524.6,480.5 1527.4,479.3 1530.3,480.2 1533.1,479 1536,479.9 1540.3,479.3 1544,481 1546,475.9 1547.9,470.2 1550.2,465.1 1552.5,459.4 1553.9,452.3 1555.9,446.6 1557.6,439.5 1560.2,436 1563,430.9 1565.9,428.6 1567.9,419.5 1569.6,411.5 1571,403.9 1572.4,395.3 1573.9,386.8 1575.3,378.2 1577.3,368.3 1579.6,357.4" fill="none" stroke="#00fa0a" stroke-width="2.4" stroke-linejoin="round"/>
<rect x="1289" y="354.2" width="306.6" height="190.6" fill="none" stroke="#000" stroke-width="1.7"/>
<text x="1265" y="363.3" font-size="25.4">0-</text>
<text x="1221.3" y="496.5" font-size="25.4">-0.79-</text>
<text x="1421" y="388.2">NES: -4.69</text>
<text x="1421" y="423.8">FDR: 0.0</text>
<text x="1299.5" y="581">CRC</text>
<text x="1488.5" y="581">Normal</text>
<text x="1609.5" y="32.2" font-size="39" font-weight="bold">e</text>
<text x="1889.3" y="84.7" font-size="25.5">H3K27ac</text>
<text x="1767.8" y="114.6" font-size="25.5">Chr11: 2.19-2.43Mb</text>
<text x="1671.8" y="99.6" font-size="25.5">12.5 kb</text>
<line x1="1673.7" y1="111.5" x2="1717" y2="111.5" stroke="#111" stroke-width="1.1"/>
<rect x="1670" y="128.5" width="327" height="874.5" fill="#fff"/>
<rect x="1672.3" y="131.5" width="323.4" height="839" fill="#f8f8f8"/>
<rect x="1672.3" y="976.5" width="323.4" height="21" fill="#f8f8f8"/>
<line x1="1672.5" y1="172.5" x2="1997" y2="172.5" stroke="#ffffff" stroke-width="3.8"/><polygon points="1704.6,172.5 1704.9,171.6 1705.5,171.4 1706.1,170.6 1706.7,170.6 1707.3,170.5 1707.9,171.1 1708.5,170.5 1709.1,170.9 1709.7,171.6 1710.3,171.3 1710.9,171.6 1711.5,170.4 1712.1,169.8 1712.7,171.1 1713.3,171.4 1713.9,170.7 1714.2,172.5" fill="#f80014"/><polygon points="1717.8,172.5 1718.1,166.8 1718.7,163.4 1719.3,163.2 1719.9,161.8 1720.5,157.6 1721.1,148.7 1721.7,160.1 1722.3,149.6 1722.9,155 1723.5,149 1724.1,149.5 1724.7,161 1725.3,157.1 1725.9,162.5 1726.5,163.7 1727.1,162.5 1727.7,163.4 1728.3,164.7 1728.9,171.6 1729.5,170.3 1730.1,169.5 1730.7,171.4 1731.3,171.3 1731.9,170.8 1732.5,169.7 1733.1,171.6 1733.7,171.1 1734,172.5" fill="#f80014"/><polygon points="1737,172.5 1737.3,167.4 1737.9,168.1 1738.5,166.8 1739.1,165.2 1739.7,166.9 1740.3,168.6 1740.9,166.1 1741.5,165.5 1742.1,167.2 1742.7,161.1 1743.3,166.3 1743.9,166 1744.5,162.2 1745.1,160.1 1745.7,158.1 1746.3,161.9 1746.9,167.5 1747.5,161.4 1748.1,158 1748.7,160.8 1749.3,160.6 1749.9,164.4 1750.5,165.5 1751.1,164.6 1751.7,168.6 1752.3,164.9 1752.9,160.7 1753.5,168.3 1754.1,164 1754.7,163.4 1755.3,169 1755.9,169.9 1756.5,167.2 1757.1,169.1 1757.7,169.1 1758.3,166.8 1758.9,165.8 1759.5,164.6 1760.1,166.4 1760.7,168.8 1761.3,170.4 1761.9,170.4 1762.5,170.3 1763.1,168.9 1763.7,166.9 1764.3,169.9 1764.9,169.7 1765.5,165.8 1766.1,169 1766.7,167.7 1767.3,168.2 1767.9,168.2 1768.5,170.9 1769.1,170.8 1769.7,170.1 1770.3,171.8 1770.9,170 1771.5,168.9 1772.1,171.9 1772.7,172 1773.3,171.9 1773.9,172 1774.5,172 1775.1,170.9 1775.7,171.9 1776.3,172 1776.9,169.6 1777.5,171 1778.1,170.8 1778.7,171 1779.3,171.5 1779.9,171.3 1780.5,171.9 1781.1,171 1781.7,171.7 1782,172.5" fill="#f80014"/><polygon points="1817.4,172.5 1817.7,171.4 1818.3,171.4 1818.9,171.4 1819.2,172.5" fill="#f80014"/><polygon points="1842,172.5 1842.3,171.1 1842.9,171.2 1843.5,171 1843.8,172.5" fill="#f80014"/><polygon points="1884.6,172.5 1884.9,163.7 1885.5,162.2 1886.1,159.4 1886.7,161.1 1887.3,159.3 1887.9,163.8 1888.2,172.5" fill="#f80014"/><polygon points="1890,172.5 1890.3,171.6 1890.9,171.6 1891.5,171.5 1892.1,170.4 1892.7,169.8 1893.3,170.7 1893.9,171.3 1894.5,171.6 1895.1,171.5 1895.7,171.4 1896.3,170.7 1896.9,170.5 1897.5,169.7 1898.1,169.5 1898.7,170.7 1899.3,170.2 1899.9,170.6 1900.5,169.9 1901.1,171 1901.7,169 1902.3,171.1 1902.9,170.2 1903.5,170.6 1904.1,169.3 1904.7,170.4 1905.3,166.1 1905.9,170 1906.5,169.6 1907.1,169.1 1907.7,169.7 1908.3,170.6 1908.9,170.4 1909.5,170.1 1910.1,170.5 1910.7,170.7 1911.3,168.7 1911.9,169.2 1912.5,170.2 1913.1,169.2 1913.7,168.8 1914.3,170.3 1914.9,163.6 1915.5,162.7 1916.1,164.7 1916.7,164.1 1917.3,159.7 1917.9,160.7 1918.5,163.1 1919.1,162.5 1919.7,161.8 1920.3,159.3 1920.9,156.6 1921.5,162.8 1922.1,163.4 1922.7,162.1 1923.3,163.4 1923.9,163.4 1924.5,163.5 1925.1,163.7 1925.7,161.4 1926.3,163.7 1926.9,162 1927.5,157.6 1928.1,167 1928.7,165 1929.3,165.4 1929.6,172.5" fill="#f80014"/><polygon points="1961.4,172.5 1961.7,171.4 1962.3,171.1 1962.6,172.5" fill="#f80014"/><polygon points="1989,172.5 1989.3,171.2 1989.9,171.3 1990.5,171.1 1990.8,172.5" fill="#f80014"/><line x1="1672.5" y1="172.5" x2="1997" y2="172.5" stroke="#f80014" stroke-width="1.6"/>
<line x1="1672.5" y1="214.2" x2="1997" y2="214.2" stroke="#ffffff" stroke-width="3.8"/><polygon points="1704.6,214.2 1704.9,212.9 1705.5,213.2 1706.1,211.9 1706.7,211.6 1707.3,212.6 1707.9,212.4 1708.5,213.1 1709.1,213.2 1709.7,213.2 1710.3,212.6 1710.9,213.1 1711.5,211.9 1712.1,213.2 1712.7,213.3 1713.3,213.3 1713.9,212.5 1714.2,214.2" fill="#f80014"/><polygon points="1717.8,214.2 1718.1,207.2 1718.7,201.5 1719.3,202.6 1719.9,198.4 1720.5,200.4 1721.1,202.7 1721.7,200.8 1722.3,201.6 1722.9,203.2 1723.5,194.6 1724.1,194.3 1724.7,194.9 1725.3,190.4 1725.9,199.6 1726.5,201.8 1727.1,202.1 1727.7,207.4 1728.3,205.7 1728.9,213.5 1729.5,213 1730.1,212.7 1730.7,213 1731.3,213.5 1731.9,212.5 1732.5,213.5 1733.1,212.8 1733.7,213.4 1734,214.2" fill="#f80014"/><polygon points="1737,214.2 1737.3,212.6 1737.9,212.1 1738.5,211.9 1739.1,211.4 1739.7,206.7 1740.3,203 1740.9,206.9 1741.5,202.8 1742.1,204.5 1742.7,204.6 1743.3,196.8 1743.9,206 1744.5,197.5 1745.1,199.2 1745.7,199.7 1746.3,209.3 1746.9,209.8 1747.5,210 1748.1,208.4 1748.7,196.9 1749.3,194.3 1749.9,194.7 1750.5,208.1 1751.1,202.1 1751.7,198.7 1752.3,197.2 1752.9,197.5 1753.5,208.5 1754.1,209.6 1754.7,202.5 1755.3,201 1755.9,197.5 1756.5,205.4 1757.1,199.6 1757.7,209.3 1758.3,200.6 1758.9,199.1 1759.5,207.7 1760.1,210.8 1760.7,208.3 1761.3,205.7 1761.9,209 1762.5,211.3 1763.1,210.9 1763.7,205.8 1764.3,211.1 1764.9,205 1765.5,210.3 1766.1,211.4 1766.7,211.9 1767.3,206.1 1767.9,204.9 1768.5,212.9 1769.1,213.7 1769.7,212.5 1770.3,210.8 1770.9,213.7 1771.5,212.5 1772.1,211 1772.7,212.5 1773.3,212.4 1773.9,211.2 1774.5,213.2 1775.1,213.5 1775.7,212.3 1776.3,212.4 1776.9,212.5 1777.5,213.2 1778.1,210.8 1778.7,213 1779.3,212.1 1779.9,210.6 1780.5,212.6 1781.1,213.7 1781.7,213.7 1782,214.2" fill="#f80014"/><polygon points="1817.4,214.2 1817.7,213.2 1818.3,213.2 1818.9,213.2 1819.2,214.2" fill="#f80014"/><polygon points="1842,214.2 1842.3,213.1 1842.9,213.1 1843.5,213.1 1843.8,214.2" fill="#f80014"/><polygon points="1884.6,214.2 1884.9,203.5 1885.5,200.2 1886.1,198.4 1886.7,200.1 1887.3,200.6 1887.9,203.7 1888.2,214.2" fill="#f80014"/><polygon points="1890,214.2 1890.3,212.6 1890.9,211.9 1891.5,212.2 1892.1,211.2 1892.7,210.5 1893.3,212 1893.9,211.7 1894.5,211.5 1895.1,211.8 1895.7,212.3 1896.3,212.2 1896.9,209.1 1897.5,209.1 1898.1,210.6 1898.7,209.7 1899.3,211.2 1899.9,209.6 1900.5,207.2 1901.1,207.8 1901.7,209.8 1902.3,206.6 1902.9,206 1903.5,211.1 1904.1,210.5 1904.7,209.1 1905.3,207.8 1905.9,206.2 1906.5,210.9 1907.1,208.3 1907.7,206.1 1908.3,210.7 1908.9,208.3 1909.5,210.1 1910.1,208.3 1910.7,207.2 1911.3,203.7 1911.9,204.7 1912.5,208.9 1913.1,206.6 1913.7,210 1914.3,207.1 1914.9,197.6 1915.5,198.8 1916.1,198.8 1916.7,198.5 1917.3,190.9 1917.9,197.4 1918.5,197 1919.1,196.9 1919.7,196.8 1920.3,189.9 1920.9,189.7 1921.5,188 1922.1,181.9 1922.7,190.4 1923.3,196.2 1923.9,196.2 1924.5,193.2 1925.1,188.7 1925.7,182.9 1926.3,190.8 1926.9,196.3 1927.5,193.5 1928.1,196.5 1928.7,202.2 1929.3,196.9 1929.6,214.2" fill="#f80014"/><polygon points="1961.4,214.2 1961.7,212.8 1962.3,212.9 1962.6,214.2" fill="#f80014"/><polygon points="1989,214.2 1989.3,213 1989.9,213.1 1990.5,213.2 1990.8,214.2" fill="#f80014"/><line x1="1672.5" y1="214.2" x2="1997" y2="214.2" stroke="#f80014" stroke-width="1.6"/>
<line x1="1672.5" y1="255.6" x2="1997" y2="255.6" stroke="#ffffff" stroke-width="3.8"/><polygon points="1704.6,255.6 1704.9,254.7 1705.5,254.2 1706.1,254.6 1706.7,253.9 1707.3,253.9 1707.9,254.3 1708.5,254 1709.1,254 1709.7,254.7 1710.3,254.3 1710.9,254 1711.5,254.1 1712.1,253.3 1712.7,253.5 1713.3,254.3 1713.9,254.6 1714.2,255.6" fill="#f80014"/><polygon points="1717.8,255.6 1718.1,250.3 1718.7,239.1 1719.3,237.7 1719.9,238.4 1720.5,241 1721.1,240.4 1721.7,243.6 1722.3,240.6 1722.9,244.1 1723.5,239.4 1724.1,237.7 1724.7,236.6 1725.3,243.3 1725.9,245.5 1726.5,244.8 1727.1,240.4 1727.7,247.6 1728.3,245.9 1728.9,254.1 1729.5,254.3 1730.1,252.8 1730.7,254.6 1731.3,254.7 1731.9,254.1 1732.5,253.7 1733.1,254.2 1733.7,254 1734,255.6" fill="#f80014"/><polygon points="1737,255.6 1737.3,252.8 1737.9,250.8 1738.5,246.9 1739.1,245.5 1739.7,246.9 1740.3,248.7 1740.9,240.8 1741.5,246.8 1742.1,245.1 1742.7,239.8 1743.3,242.4 1743.9,247.8 1744.5,243.4 1745.1,244.8 1745.7,238.7 1746.3,243.3 1746.9,245.9 1747.5,237.6 1748.1,244.9 1748.7,248.1 1749.3,239.4 1749.9,236.6 1750.5,249.6 1751.1,251.6 1751.7,243.5 1752.3,239.6 1752.9,247.8 1753.5,250.5 1754.1,246.4 1754.7,240.3 1755.3,250.2 1755.9,249.6 1756.5,247 1757.1,251.2 1757.7,250.5 1758.3,252.2 1758.9,250.5 1759.5,251.9 1760.1,252.8 1760.7,251.7 1761.3,252.7 1761.9,253 1762.5,253.1 1763.1,252 1763.7,252.3 1764.3,249.3 1764.9,251.3 1765.5,252.8 1766.1,253.3 1766.7,253.1 1767.3,250.4 1767.9,253.1 1768.5,254.6 1769.1,253.2 1769.7,252.6 1770.3,254.1 1770.9,252.8 1771.5,253.4 1772.1,254.8 1772.7,255.1 1773.3,255.1 1773.9,253.6 1774.5,254.5 1775.1,253 1775.7,252 1776.3,252 1776.9,253.9 1777.5,255.1 1778.1,255.1 1778.7,255.1 1779.3,254.1 1779.9,253.5 1780.5,252.2 1781.1,253 1781.7,252 1782,255.6" fill="#f80014"/><polygon points="1817.4,255.6 1817.7,254.3 1818.3,254.4 1818.9,254.3 1819.2,255.6" fill="#f80014"/><polygon points="1842,255.6 1842.3,254.5 1842.9,254.3 1843.5,254.3 1843.8,255.6" fill="#f80014"/><polygon points="1884.6,255.6 1884.9,249.3 1885.5,249.5 1886.1,248.9 1886.7,247.1 1887.3,249.5 1887.9,250.6 1888.2,255.6" fill="#f80014"/><polygon points="1890,255.6 1890.3,254.4 1890.9,254.5 1891.5,253.7 1892.1,253.2 1892.7,254.4 1893.3,254.7 1893.9,253.6 1894.5,254.1 1895.1,254.5 1895.7,254.6 1896.3,254.7 1896.9,254.2 1897.5,254.4 1898.1,254 1898.7,252.8 1899.3,253.7 1899.9,252.4 1900.5,254.3 1901.1,253.3 1901.7,252.9 1902.3,251.9 1902.9,254.2 1903.5,253.7 1904.1,253.4 1904.7,252.6 1905.3,251.6 1905.9,252.9 1906.5,252.2 1907.1,251.6 1907.7,252.2 1908.3,251.1 1908.9,252.6 1909.5,253.9 1910.1,252.8 1910.7,253.9 1911.3,252.5 1911.9,252.3 1912.5,253.6 1913.1,253.8 1913.7,253.9 1914.3,253.8 1914.9,244.9 1915.5,248.1 1916.1,244.3 1916.7,248 1917.3,247.5 1917.9,246.5 1918.5,246.7 1919.1,241.6 1919.7,246.3 1920.3,245.6 1920.9,246.8 1921.5,247.2 1922.1,244.4 1922.7,245.9 1923.3,245.3 1923.9,243.5 1924.5,247.1 1925.1,247.6 1925.7,245 1926.3,240.7 1926.9,247.6 1927.5,246.9 1928.1,247.2 1928.7,247.3 1929.3,246.1 1929.6,255.6" fill="#f80014"/><polygon points="1961.4,255.6 1961.7,254.3 1962.3,254.1 1962.6,255.6" fill="#f80014"/><polygon points="1989,255.6 1989.3,254.5 1989.9,254.5 1990.5,254.3 1990.8,255.6" fill="#f80014"/><line x1="1672.5" y1="255.6" x2="1997" y2="255.6" stroke="#f80014" stroke-width="1.6"/>
<line x1="1672.5" y1="297.3" x2="1997" y2="297.3" stroke="#ffffff" stroke-width="3.8"/><polygon points="1704.6,297.3 1704.9,293.9 1705.5,294.8 1706.1,294.2 1706.7,293.9 1707.3,295.5 1707.9,295.8 1708.5,295 1709.1,295.7 1709.7,295.5 1710.3,293.7 1710.9,293.2 1711.5,295.6 1712.1,295.8 1712.7,295.7 1713.3,294.2 1713.9,295.8 1714.2,297.3" fill="#f80014"/><polygon points="1717.8,297.3 1718.1,291.3 1718.7,287.4 1719.3,287 1719.9,283.2 1720.5,285.4 1721.1,283.4 1721.7,276.9 1722.3,274.8 1722.9,280.6 1723.5,274.5 1724.1,277.8 1724.7,273 1725.3,283.5 1725.9,284 1726.5,281.6 1727.1,273.7 1727.7,286.6 1728.3,289.1 1728.9,296.2 1729.5,296.3 1730.1,296.4 1730.7,294.2 1731.3,293.8 1731.9,293.7 1732.5,295.2 1733.1,294.8 1733.7,296 1734,297.3" fill="#f80014"/><polygon points="1737,297.3 1737.3,293.2 1737.9,294.3 1738.5,292.4 1739.1,292.6 1739.7,293.1 1740.3,281.5 1740.9,291 1741.5,280.1 1742.1,278.5 1742.7,290.3 1743.3,286.9 1743.9,271.6 1744.5,269.1 1745.1,279.7 1745.7,276.4 1746.3,277.5 1746.9,287.5 1747.5,284.6 1748.1,282.7 1748.7,286.5 1749.3,277.3 1749.9,284.5 1750.5,278.6 1751.1,290.6 1751.7,287.9 1752.3,291.7 1752.9,285.2 1753.5,276.5 1754.1,283.3 1754.7,284.4 1755.3,283.7 1755.9,290.3 1756.5,289.7 1757.1,286.7 1757.7,284.7 1758.3,289.1 1758.9,288.7 1759.5,290.7 1760.1,288.4 1760.7,285.9 1761.3,290.7 1761.9,287 1762.5,282.9 1763.1,287.9 1763.7,281.2 1764.3,291 1764.9,284.4 1765.5,292.8 1766.1,292.7 1766.7,287.9 1767.3,294.2 1767.9,291.6 1768.5,293.2 1769.1,292.1 1769.7,293.6 1770.3,295.7 1770.9,296.1 1771.5,295 1772.1,296.6 1772.7,296.6 1773.3,294.1 1773.9,294.4 1774.5,296.4 1775.1,296 1775.7,296.3 1776.3,293.7 1776.9,296 1777.5,294.4 1778.1,293.8 1778.7,295.8 1779.3,296.4 1779.9,295.6 1780.5,295.9 1781.1,295.1 1781.7,296 1782,297.3" fill="#f80014"/><polygon points="1817.4,297.3 1817.7,296 1818.3,296.1 1818.9,296.2 1819.2,297.3" fill="#f80014"/><polygon points="1842,297.3 1842.3,296 1842.9,295.9 1843.5,296 1843.8,297.3" fill="#f80014"/><polygon points="1884.6,297.3 1884.9,295.2 1885.5,294.3 1886.1,293.7 1886.7,294.7 1887.3,294.8 1887.9,295.5 1888.2,297.3" fill="#f80014"/><polygon points="1890,297.3 1890.3,296.5 1890.9,296.5 1891.5,296.2 1892.1,295.8 1892.7,295.2 1893.3,296.2 1893.9,296.4 1894.5,295 1895.1,295 1895.7,295.5 1896.3,296.2 1896.9,296.3 1897.5,294.9 1898.1,295.4 1898.7,294.5 1899.3,294.4 1899.9,294.5 1900.5,294.3 1901.1,295.7 1901.7,295.9 1902.3,295.6 1902.9,294.6 1903.5,294.1 1904.1,294 1904.7,293.9 1905.3,293.1 1905.9,294.7 1906.5,294.7 1907.1,294.4 1907.7,294.7 1908.3,294 1908.9,292.5 1909.5,292.3 1910.1,295.3 1910.7,295.4 1911.3,294.5 1911.9,293.8 1912.5,295 1913.1,292.8 1913.7,294.2 1914.3,293.2 1914.9,290.6 1915.5,290.1 1916.1,290.3 1916.7,286.8 1917.3,287.2 1917.9,283 1918.5,285.2 1919.1,287.7 1919.7,287.8 1920.3,287.6 1920.9,288.4 1921.5,288.7 1922.1,286 1922.7,287.5 1923.3,287 1923.9,284.7 1924.5,287.7 1925.1,287.3 1925.7,288.1 1926.3,288.4 1926.9,286.4 1927.5,289.3 1928.1,291.9 1928.7,292.5 1929.3,291 1929.6,297.3" fill="#f80014"/><polygon points="1961.4,297.3 1961.7,296.2 1962.3,295.9 1962.6,297.3" fill="#f80014"/><polygon points="1989,297.3 1989.3,296.1 1989.9,296 1990.5,296.1 1990.8,297.3" fill="#f80014"/><line x1="1672.5" y1="297.3" x2="1997" y2="297.3" stroke="#f80014" stroke-width="1.6"/>
<line x1="1672.5" y1="338.7" x2="1997" y2="338.7" stroke="#ffffff" stroke-width="3.8"/><polygon points="1704.6,338.7 1704.9,330.6 1705.5,329 1706.1,330.1 1706.7,334.2 1707.3,334.3 1707.9,331.8 1708.5,330.1 1709.1,335 1709.7,335.1 1710.3,330.7 1710.9,334.7 1711.5,332.5 1712.1,334 1712.7,332.3 1713.3,329.6 1713.9,331.7 1714.2,338.7" fill="#f80014"/><polygon points="1717.8,338.7 1718.1,331.1 1718.7,326.9 1719.3,322.8 1719.9,320.9 1720.5,323.8 1721.1,323.3 1721.7,321.9 1722.3,325.4 1722.9,326.6 1723.5,322.5 1724.1,327 1724.7,322.6 1725.3,316.9 1725.9,315.1 1726.5,325.8 1727.1,326.1 1727.7,326.3 1728.3,331.3 1728.9,335.3 1729.5,337.5 1730.1,336.1 1730.7,337.8 1731.3,336.9 1731.9,336 1732.5,336.7 1733.1,336.6 1733.7,335.4 1734,338.7" fill="#f80014"/><polygon points="1737,338.7 1737.3,329.3 1737.9,334.9 1738.5,332.8 1739.1,335.3 1739.7,333.4 1740.3,334.1 1740.9,333.8 1741.5,327.6 1742.1,332.8 1742.7,333.1 1743.3,333.7 1743.9,323.8 1744.5,330.8 1745.1,333.3 1745.7,327.3 1746.3,322.5 1746.9,323.3 1747.5,325.4 1748.1,326.2 1748.7,322 1749.3,329.6 1749.9,320 1750.5,321.1 1751.1,316.6 1751.7,314.7 1752.3,316.2 1752.9,325.3 1753.5,327.2 1754.1,323.4 1754.7,326 1755.3,333.8 1755.9,323 1756.5,332.3 1757.1,330.6 1757.7,330.7 1758.3,334.3 1758.9,330.6 1759.5,329.2 1760.1,325 1760.7,327.9 1761.3,332.8 1761.9,331 1762.5,323.9 1763.1,328.2 1763.7,326 1764.3,335.2 1764.9,331.4 1765.5,334.8 1766.1,335.7 1766.7,335.1 1767.3,335.8 1767.9,336.3 1768.5,338.1 1769.1,338.1 1769.7,338 1770.3,336 1770.9,338.1 1771.5,338.1 1772.1,338.1 1772.7,337.5 1773.3,337.9 1773.9,337.2 1774.5,337.9 1775.1,338.1 1775.7,337.4 1776.3,338.1 1776.9,335.7 1777.5,336.4 1778.1,337.3 1778.7,336.9 1779.3,334.5 1779.9,336.5 1780.5,337.3 1781.1,337.9 1781.7,337.7 1782,338.7" fill="#f80014"/><polygon points="1817.4,338.7 1817.7,337.4 1818.3,337.5 1818.9,337.6 1819.2,338.7" fill="#f80014"/><polygon points="1842,338.7 1842.3,337.4 1842.9,337.6 1843.5,337.6 1843.8,338.7" fill="#f80014"/><polygon points="1884.6,338.7 1884.9,327.6 1885.5,323 1886.1,323.9 1886.7,325.8 1887.3,326.1 1887.9,328.8 1888.2,338.7" fill="#f80014"/><polygon points="1890,338.7 1890.3,337.6 1890.9,337.3 1891.5,335.8 1892.1,337.3 1892.7,337.3 1893.3,337.3 1893.9,335.9 1894.5,336.7 1895.1,335.8 1895.7,335.5 1896.3,337.1 1896.9,336.6 1897.5,337 1898.1,335.2 1898.7,335.8 1899.3,336.2 1899.9,334.5 1900.5,333.8 1901.1,336.5 1901.7,336.7 1902.3,336.4 1902.9,336.2 1903.5,335.8 1904.1,335.6 1904.7,331.1 1905.3,329.3 1905.9,327.5 1906.5,333.6 1907.1,335.7 1907.7,334.7 1908.3,336 1908.9,334.7 1909.5,335.9 1910.1,332.4 1910.7,335 1911.3,331.9 1911.9,335.2 1912.5,335.6 1913.1,335.6 1913.7,332.5 1914.3,331.2 1914.9,321.2 1915.5,322.9 1916.1,326.6 1916.7,326.3 1917.3,326.7 1917.9,318.7 1918.5,324.9 1919.1,320.1 1919.7,325.2 1920.3,324.4 1920.9,320.9 1921.5,324 1922.1,324.9 1922.7,316.9 1923.3,322.6 1923.9,325 1924.5,320.3 1925.1,313 1925.7,319.4 1926.3,325.4 1926.9,324.3 1927.5,322.2 1928.1,330.3 1928.7,329.8 1929.3,327.3 1929.6,338.7" fill="#f80014"/><polygon points="1961.4,338.7 1961.7,337.4 1962.3,337.3 1962.6,338.7" fill="#f80014"/><polygon points="1989,338.7 1989.3,337.2 1989.9,337.5 1990.5,337.2 1990.8,338.7" fill="#f80014"/><line x1="1672.5" y1="338.7" x2="1997" y2="338.7" stroke="#f80014" stroke-width="1.6"/>
<line x1="1672.5" y1="380.2" x2="1997" y2="380.2" stroke="#ffffff" stroke-width="3.8"/><polygon points="1704.6,380.2 1704.9,378.4 1705.5,378.9 1706.1,378.2 1706.7,377.6 1707.3,378.9 1707.9,378.3 1708.5,379 1709.1,379.2 1709.7,379.1 1710.3,378.4 1710.9,379.2 1711.5,378.6 1712.1,379 1712.7,379.2 1713.3,379 1713.9,379 1714.2,380.2" fill="#f80014"/><polygon points="1717.8,380.2 1718.1,375.8 1718.7,368 1719.3,365.4 1719.9,372.4 1720.5,365.3 1721.1,368.2 1721.7,363.6 1722.3,364.6 1722.9,369 1723.5,372.3 1724.1,365.8 1724.7,362.9 1725.3,367.8 1725.9,373.4 1726.5,369 1727.1,368.4 1727.7,372.4 1728.3,371.9 1728.9,378.1 1729.5,378.5 1730.1,379.3 1730.7,379.2 1731.3,379.2 1731.9,378.8 1732.5,378.9 1733.1,378.5 1733.7,379.1 1734,380.2" fill="#f80014"/><polygon points="1737,380.2 1737.3,377.1 1737.9,373.4 1738.5,373 1739.1,370.3 1739.7,371.7 1740.3,376.8 1740.9,375.5 1741.5,375.8 1742.1,375.9 1742.7,376.7 1743.3,376.9 1743.9,374.7 1744.5,369.6 1745.1,366.3 1745.7,364.1 1746.3,370 1746.9,376.6 1747.5,376.6 1748.1,377 1748.7,369.9 1749.3,374.5 1749.9,370.5 1750.5,373.1 1751.1,372.1 1751.7,367.7 1752.3,370 1752.9,376.5 1753.5,373.2 1754.1,375.1 1754.7,367.7 1755.3,375.2 1755.9,376.5 1756.5,370 1757.1,374.5 1757.7,377.3 1758.3,372.8 1758.9,369.3 1759.5,374 1760.1,377.2 1760.7,372.4 1761.3,376.1 1761.9,377.3 1762.5,378.2 1763.1,373.7 1763.7,377.2 1764.3,378.2 1764.9,377.6 1765.5,375.5 1766.1,372 1766.7,377.5 1767.3,376.4 1767.9,378 1768.5,377.7 1769.1,378.7 1769.7,378.1 1770.3,377.3 1770.9,378.4 1771.5,378.9 1772.1,379.7 1772.7,379.7 1773.3,378.6 1773.9,377.8 1774.5,378.4 1775.1,379.7 1775.7,378.4 1776.3,377.3 1776.9,377 1777.5,377.4 1778.1,377.9 1778.7,379.1 1779.3,379.3 1779.9,379.7 1780.5,378.7 1781.1,379.3 1781.7,377.8 1782,380.2" fill="#f80014"/><polygon points="1817.4,380.2 1817.7,379.1 1818.3,379.1 1818.9,379.2 1819.2,380.2" fill="#f80014"/><polygon points="1842,380.2 1842.3,379.1 1842.9,378.9 1843.5,378.8 1843.8,380.2" fill="#f80014"/><polygon points="1884.6,380.2 1884.9,377.3 1885.5,377.5 1886.1,376.8 1886.7,376.8 1887.3,377.4 1887.9,377.5 1888.2,380.2" fill="#f80014"/><polygon points="1890,380.2 1890.3,378.8 1890.9,379.3 1891.5,378.6 1892.1,379 1892.7,379.1 1893.3,379 1893.9,379 1894.5,379.4 1895.1,378.5 1895.7,379 1896.3,378.9 1896.9,379.2 1897.5,378.7 1898.1,379.2 1898.7,379.2 1899.3,379.2 1899.9,377.9 1900.5,377.9 1901.1,377.7 1901.7,379 1902.3,378.6 1902.9,377.8 1903.5,377.5 1904.1,378.2 1904.7,378.6 1905.3,377.3 1905.9,374.9 1906.5,376.4 1907.1,377.3 1907.7,378.2 1908.3,377.8 1908.9,377.7 1909.5,377.9 1910.1,376.6 1910.7,377.3 1911.3,378.6 1911.9,377.3 1912.5,376.9 1913.1,378.4 1913.7,377.8 1914.3,375.6 1914.9,371 1915.5,370.8 1916.1,371.8 1916.7,372.1 1917.3,367.6 1917.9,371.8 1918.5,371.4 1919.1,372.7 1919.7,371.2 1920.3,369.4 1920.9,368.5 1921.5,365.1 1922.1,370.9 1922.7,371.9 1923.3,371.6 1923.9,371.6 1924.5,367.3 1925.1,371.7 1925.7,371.2 1926.3,366.6 1926.9,370.9 1927.5,371.6 1928.1,375 1928.7,375.4 1929.3,375.5 1929.6,380.2" fill="#f80014"/><polygon points="1961.4,380.2 1961.7,378.9 1962.3,379.1 1962.6,380.2" fill="#f80014"/><polygon points="1989,380.2 1989.3,379.2 1989.9,379 1990.5,378.9 1990.8,380.2" fill="#f80014"/><line x1="1672.5" y1="380.2" x2="1997" y2="380.2" stroke="#f80014" stroke-width="1.6"/>
<line x1="1672.5" y1="421.8" x2="1997" y2="421.8" stroke="#ffffff" stroke-width="3.8"/><polygon points="1704.6,421.8 1704.9,420.3 1705.5,419.5 1706.1,420.9 1706.7,419.6 1707.3,419.5 1707.9,420.8 1708.5,419.9 1709.1,419.6 1709.7,420.7 1710.3,419.5 1710.9,420.4 1711.5,420.5 1712.1,420.1 1712.7,419.9 1713.3,419.8 1713.9,420.6 1714.2,421.8" fill="#f80014"/><polygon points="1717.8,421.8 1718.1,418.2 1718.7,417 1719.3,416.6 1719.9,415.2 1720.5,416.6 1721.1,415.8 1721.7,411.7 1722.3,415.6 1722.9,414.9 1723.5,416.5 1724.1,413.1 1724.7,416.3 1725.3,416.5 1725.9,413.4 1726.5,415 1727.1,414.7 1727.7,417.4 1728.3,418 1728.9,421.1 1729.5,421.4 1730.1,421.4 1730.7,421.4 1731.3,421.4 1731.9,421.3 1732.5,420.5 1733.1,421.3 1733.7,421.4 1734,421.8" fill="#f80014"/><polygon points="1737,421.8 1737.3,420.9 1737.9,420.8 1738.5,418.5 1739.1,416 1739.7,416.2 1740.3,414.1 1740.9,416.7 1741.5,417.7 1742.1,418.3 1742.7,416.5 1743.3,418.9 1743.9,417.7 1744.5,418.3 1745.1,416.4 1745.7,413.7 1746.3,415.3 1746.9,419.2 1747.5,417.4 1748.1,415.5 1748.7,416.8 1749.3,419.6 1749.9,419.8 1750.5,418.1 1751.1,415.9 1751.7,417.3 1752.3,415.7 1752.9,417 1753.5,414.9 1754.1,419 1754.7,415.8 1755.3,415.6 1755.9,419.6 1756.5,419.8 1757.1,419.7 1757.7,417 1758.3,417.3 1758.9,420.1 1759.5,417.9 1760.1,419.5 1760.7,416.8 1761.3,419.5 1761.9,420.4 1762.5,420.1 1763.1,419.6 1763.7,419.7 1764.3,419.3 1764.9,420.5 1765.5,420.5 1766.1,420.8 1766.7,418.1 1767.3,419.5 1767.9,420.4 1768.5,421.5 1769.1,421 1769.7,421.5 1770.3,421.5 1770.9,420.9 1771.5,421 1772.1,420.6 1772.7,420.1 1773.3,421.2 1773.9,420.5 1774.5,420.2 1775.1,420.1 1775.7,420.8 1776.3,420.4 1776.9,421.5 1777.5,421.5 1778.1,421.1 1778.7,420.9 1779.3,420.8 1779.9,421.1 1780.5,421.5 1781.1,421.5 1781.7,421.5 1782,421.8" fill="#f80014"/><polygon points="1817.4,421.8 1817.7,420.6 1818.3,420.7 1818.9,420.5 1819.2,421.8" fill="#f80014"/><polygon points="1842,421.8 1842.3,420.6 1842.9,420.7 1843.5,420.6 1843.8,421.8" fill="#f80014"/><polygon points="1884.6,421.8 1884.9,419 1885.5,418.9 1886.1,418.8 1886.7,418.2 1887.3,419 1887.9,419.1 1888.2,421.8" fill="#f80014"/><polygon points="1890,421.8 1890.3,420.9 1890.9,421 1891.5,420.5 1892.1,421.2 1892.7,420.5 1893.3,421 1893.9,420.5 1894.5,419.9 1895.1,419.9 1895.7,420.8 1896.3,419.9 1896.9,420.4 1897.5,420.8 1898.1,420.8 1898.7,421 1899.3,420.5 1899.9,420.6 1900.5,420.4 1901.1,419.6 1901.7,420.3 1902.3,420.9 1902.9,420.4 1903.5,420.8 1904.1,420.3 1904.7,419.8 1905.3,419 1905.9,418.7 1906.5,420.7 1907.1,420.5 1907.7,420.6 1908.3,420.6 1908.9,420.7 1909.5,420.6 1910.1,419.3 1910.7,418.2 1911.3,419.2 1911.9,418.9 1912.5,420.5 1913.1,420.3 1913.7,419.4 1914.3,418.3 1914.9,416.9 1915.5,413.3 1916.1,411.7 1916.7,416.2 1917.3,415.6 1917.9,412.4 1918.5,414.9 1919.1,415.7 1919.7,414.3 1920.3,413.4 1920.9,412.1 1921.5,415 1922.1,414.2 1922.7,415.3 1923.3,411.5 1923.9,410.3 1924.5,409.7 1925.1,415.2 1925.7,415.8 1926.3,413.2 1926.9,414.5 1927.5,412.6 1928.1,416.7 1928.7,418.4 1929.3,418.4 1929.6,421.8" fill="#f80014"/><polygon points="1961.4,421.8 1961.7,420.6 1962.3,420.7 1962.6,421.8" fill="#f80014"/><polygon points="1989,421.8 1989.3,420.7 1989.9,420.6 1990.5,420.7 1990.8,421.8" fill="#f80014"/><line x1="1672.5" y1="421.8" x2="1997" y2="421.8" stroke="#f80014" stroke-width="1.6"/>
<line x1="1672.5" y1="463.3" x2="1997" y2="463.3" stroke="#ffffff" stroke-width="3.8"/><polygon points="1704.6,463.3 1704.9,461.5 1705.5,460.6 1706.1,458.3 1706.7,459.3 1707.3,460.3 1707.9,461 1708.5,461.4 1709.1,458.7 1709.7,459 1710.3,461 1710.9,460.3 1711.5,459.6 1712.1,458.4 1712.7,460.8 1713.3,461.1 1713.9,461.4 1714.2,463.3" fill="#f80014"/><polygon points="1717.8,463.3 1718.1,454.4 1718.7,439 1719.3,440.1 1719.9,450.3 1720.5,449 1721.1,451.1 1721.7,450.8 1722.3,447.2 1722.9,450.1 1723.5,449.7 1724.1,449.9 1724.7,448.2 1725.3,439.1 1725.9,449.2 1726.5,445.9 1727.1,448.9 1727.7,456.1 1728.3,456.6 1728.9,460.8 1729.5,460 1730.1,460.3 1730.7,459.6 1731.3,460.2 1731.9,461.9 1732.5,462.2 1733.1,461.6 1733.7,461.2 1734,463.3" fill="#f80014"/><polygon points="1737,463.3 1737.3,454.5 1737.9,449.4 1738.5,448.2 1739.1,442.7 1739.7,446.1 1740.3,445.7 1740.9,440.5 1741.5,447.1 1742.1,438.8 1742.7,433.5 1743.3,445.2 1743.9,451.5 1744.5,452 1745.1,446.7 1745.7,446.4 1746.3,448.2 1746.9,451.1 1747.5,442.6 1748.1,441.7 1748.7,431.8 1749.3,430 1749.9,454.9 1750.5,452.6 1751.1,443.1 1751.7,446.8 1752.3,445.6 1752.9,453.6 1753.5,453.1 1754.1,441.3 1754.7,443.9 1755.3,438.1 1755.9,435.5 1756.5,435.8 1757.1,437.7 1757.7,437.1 1758.3,438 1758.9,438.4 1759.5,451.6 1760.1,454.2 1760.7,454.4 1761.3,448.6 1761.9,441.7 1762.5,448.2 1763.1,454.3 1763.7,458.9 1764.3,459.3 1764.9,459.7 1765.5,459.6 1766.1,460 1766.7,458.6 1767.3,458.8 1767.9,451.1 1768.5,462.1 1769.1,462.5 1769.7,459.2 1770.3,457.4 1770.9,460.2 1771.5,460.6 1772.1,461.7 1772.7,461.7 1773.3,462.1 1773.9,462.5 1774.5,458.5 1775.1,457.7 1775.7,457.5 1776.3,462.1 1776.9,460.6 1777.5,462.5 1778.1,460.4 1778.7,462.5 1779.3,461 1779.9,462.4 1780.5,458.3 1781.1,457.2 1781.7,460.7 1782,463.3" fill="#f80014"/><polygon points="1817.4,463.3 1817.7,461.9 1818.3,461.9 1818.9,462.2 1819.2,463.3" fill="#f80014"/><polygon points="1842,463.3 1842.3,462 1842.9,461.9 1843.5,462.2 1843.8,463.3" fill="#f80014"/><polygon points="1884.6,463.3 1884.9,454.1 1885.5,452.8 1886.1,452.3 1886.7,451.6 1887.3,453.3 1887.9,453.8 1888.2,463.3" fill="#f80014"/><polygon points="1890,463.3 1890.3,460.5 1890.9,461.6 1891.5,461.4 1892.1,461.8 1892.7,461.5 1893.3,460.7 1893.9,459.4 1894.5,458.1 1895.1,459.5 1895.7,460.5 1896.3,458.7 1896.9,459.6 1897.5,458.6 1898.1,460.4 1898.7,458.2 1899.3,460.7 1899.9,460.5 1900.5,460.8 1901.1,460.5 1901.7,459.4 1902.3,456.9 1902.9,460.7 1903.5,459.5 1904.1,460.4 1904.7,456.5 1905.3,452.3 1905.9,450.4 1906.5,455 1907.1,457 1907.7,459.7 1908.3,457.7 1908.9,458.7 1909.5,459.7 1910.1,460.3 1910.7,456.5 1911.3,458.3 1911.9,459.9 1912.5,459.9 1913.1,460 1913.7,460.1 1914.3,457.2 1914.9,448.1 1915.5,449.2 1916.1,448.9 1916.7,448.8 1917.3,446.2 1917.9,444.3 1918.5,448.3 1919.1,446.3 1919.7,438.1 1920.3,438.5 1920.9,442 1921.5,444.2 1922.1,445.4 1922.7,447 1923.3,446.4 1923.9,447.4 1924.5,448 1925.1,448 1925.7,437.8 1926.3,434.1 1926.9,447.9 1927.5,447.7 1928.1,454.5 1928.7,453.8 1929.3,451.8 1929.6,463.3" fill="#f80014"/><polygon points="1961.4,463.3 1961.7,462.2 1962.3,462.2 1962.6,463.3" fill="#f80014"/><polygon points="1989,463.3 1989.3,462.2 1989.9,462.2 1990.5,462.2 1990.8,463.3" fill="#f80014"/><line x1="1672.5" y1="463.3" x2="1997" y2="463.3" stroke="#f80014" stroke-width="1.6"/>
<line x1="1672.5" y1="504.8" x2="1997" y2="504.8" stroke="#ffffff" stroke-width="3.8"/><polygon points="1704.6,504.8 1704.9,503.9 1705.5,503 1706.1,502.4 1706.7,503.4 1707.3,503.7 1707.9,503.8 1708.5,503.9 1709.1,503.9 1709.7,503.9 1710.3,502.9 1710.9,503.7 1711.5,503.8 1712.1,502.7 1712.7,502.2 1713.3,503.8 1713.9,503.7 1714.2,504.8" fill="#f80014"/><polygon points="1717.8,504.8 1718.1,493.9 1718.7,492.8 1719.3,490.5 1719.9,488.4 1720.5,488.2 1721.1,495 1721.7,488.9 1722.3,484.5 1722.9,490.1 1723.5,492.6 1724.1,487.8 1724.7,480.5 1725.3,480.2 1725.9,493.6 1726.5,488.9 1727.1,492.1 1727.7,493 1728.3,492.7 1728.9,503.1 1729.5,502.1 1730.1,501.9 1730.7,503.9 1731.3,503.8 1731.9,502.2 1732.5,503.8 1733.1,503.7 1733.7,503.2 1734,504.8" fill="#f80014"/><polygon points="1737,504.8 1737.3,503.1 1737.9,500.9 1738.5,502.8 1739.1,501 1739.7,500.3 1740.3,502.6 1740.9,498 1741.5,495.3 1742.1,493.3 1742.7,500.7 1743.3,499.2 1743.9,501.5 1744.5,497.4 1745.1,497.3 1745.7,493.4 1746.3,501 1746.9,501.3 1747.5,502.1 1748.1,495.4 1748.7,496.5 1749.3,501.3 1749.9,497.2 1750.5,499.1 1751.1,499.9 1751.7,496.2 1752.3,495.8 1752.9,498.8 1753.5,500.9 1754.1,500.8 1754.7,500.8 1755.3,502 1755.9,502.3 1756.5,500.4 1757.1,495.2 1757.7,498.5 1758.3,500.7 1758.9,502.7 1759.5,498 1760.1,501.4 1760.7,502.1 1761.3,499.7 1761.9,497.5 1762.5,502.5 1763.1,503.1 1763.7,503 1764.3,498.6 1764.9,500.9 1765.5,503.1 1766.1,501.5 1766.7,501.9 1767.3,503.3 1767.9,503.6 1768.5,504.4 1769.1,503.1 1769.7,504 1770.3,502.8 1770.9,504 1771.5,504.3 1772.1,504.5 1772.7,504 1773.3,504.5 1773.9,503.2 1774.5,503.6 1775.1,504.5 1775.7,504 1776.3,504.1 1776.9,503.7 1777.5,503.8 1778.1,504.5 1778.7,504.2 1779.3,503.8 1779.9,504.5 1780.5,503.4 1781.1,503.4 1781.7,504.4 1782,504.8" fill="#f80014"/><polygon points="1817.4,504.8 1817.7,503.8 1818.3,503.7 1818.9,503.6 1819.2,504.8" fill="#f80014"/><polygon points="1842,504.8 1842.3,503.6 1842.9,503.7 1843.5,503.6 1843.8,504.8" fill="#f80014"/><polygon points="1884.6,504.8 1884.9,499.5 1885.5,498.7 1886.1,497.6 1886.7,497.1 1887.3,497.5 1887.9,500 1888.2,504.8" fill="#f80014"/><polygon points="1890,504.8 1890.3,504.1 1890.9,503.5 1891.5,502.5 1892.1,503.2 1892.7,502.6 1893.3,503.5 1893.9,503.8 1894.5,503.2 1895.1,503.6 1895.7,502.6 1896.3,502.5 1896.9,503.7 1897.5,503.6 1898.1,502.6 1898.7,503.6 1899.3,503.6 1899.9,503.7 1900.5,502.8 1901.1,501.4 1901.7,501.9 1902.3,501.2 1902.9,503.1 1903.5,501.9 1904.1,500.6 1904.7,500 1905.3,501.4 1905.9,502 1906.5,501.1 1907.1,501.4 1907.7,502.4 1908.3,502.9 1908.9,503.3 1909.5,501.8 1910.1,501.8 1910.7,503 1911.3,503.1 1911.9,500.5 1912.5,499.7 1913.1,502.9 1913.7,502.9 1914.3,500.8 1914.9,496.4 1915.5,493.3 1916.1,495.3 1916.7,496.1 1917.3,491.3 1917.9,495.4 1918.5,490.6 1919.1,490.8 1919.7,495.8 1920.3,490.6 1920.9,488.1 1921.5,495.4 1922.1,494 1922.7,493.9 1923.3,495.4 1923.9,492.4 1924.5,489.2 1925.1,489 1925.7,490.1 1926.3,494.3 1926.9,493.5 1927.5,491.5 1928.1,499 1928.7,497.6 1929.3,498.8 1929.6,504.8" fill="#f80014"/><polygon points="1961.4,504.8 1961.7,503.4 1962.3,503.6 1962.6,504.8" fill="#f80014"/><polygon points="1989,504.8 1989.3,503.6 1989.9,503.6 1990.5,503.7 1990.8,504.8" fill="#f80014"/><line x1="1672.5" y1="504.8" x2="1997" y2="504.8" stroke="#f80014" stroke-width="1.6"/>
<line x1="1672.5" y1="546.2" x2="1997" y2="546.2" stroke="#ffffff" stroke-width="3.8"/><polygon points="1704.6,546.2 1704.9,545.4 1705.5,545.3 1706.1,544.6 1706.7,545.2 1707.3,544.2 1707.9,545 1708.5,545.3 1709.1,545.1 1709.7,545.3 1710.3,545.4 1710.9,545.2 1711.5,545 1712.1,545.2 1712.7,544.2 1713.3,545 1713.9,544.5 1714.2,546.2" fill="#f8c81a"/><polygon points="1717.8,546.2 1718.1,542.6 1718.7,541.3 1719.3,540.1 1719.9,537.5 1720.5,538.3 1721.1,537 1721.7,540.2 1722.3,540.5 1722.9,540.6 1723.5,539 1724.1,534.8 1724.7,538.5 1725.3,535.4 1725.9,540.5 1726.5,540.8 1727.1,538.6 1727.7,540.6 1728.3,540.5 1728.9,545.7 1729.5,545.4 1730.1,545.7 1730.7,545.1 1731.3,545.2 1731.9,545.1 1732.5,544.8 1733.1,544.4 1733.7,545.3 1734,546.2" fill="#f8c81a"/><polygon points="1737,546.2 1737.3,541.7 1737.9,544 1738.5,540.9 1739.1,544.1 1739.7,541.3 1740.3,537.6 1740.9,539.9 1741.5,541.7 1742.1,537.2 1742.7,535.9 1743.3,537 1743.9,541.3 1744.5,540.7 1745.1,543.6 1745.7,541.5 1746.3,542.3 1746.9,539.4 1747.5,543.4 1748.1,542 1748.7,543.4 1749.3,542.6 1749.9,535.5 1750.5,536.3 1751.1,538 1751.7,541.4 1752.3,543.5 1752.9,543.9 1753.5,541.9 1754.1,535.9 1754.7,537.6 1755.3,542.8 1755.9,537.1 1756.5,542.8 1757.1,544.1 1757.7,542.6 1758.3,542.5 1758.9,544.2 1759.5,539.6 1760.1,543.1 1760.7,543.2 1761.3,544.4 1761.9,544.6 1762.5,540.6 1763.1,538.5 1763.7,541.2 1764.3,544.5 1764.9,544.7 1765.5,544.8 1766.1,544.9 1766.7,542.7 1767.3,543.6 1767.9,545 1768.5,545.8 1769.1,545.4 1769.7,545.1 1770.3,545 1770.9,545.8 1771.5,544.4 1772.1,545.8 1772.7,545.4 1773.3,544.5 1773.9,545.7 1774.5,545.8 1775.1,543.9 1775.7,544.1 1776.3,545.6 1776.9,544.8 1777.5,545.8 1778.1,544.3 1778.7,545.8 1779.3,545.8 1779.9,545.8 1780.5,545 1781.1,543.8 1781.7,545.4 1782,546.2" fill="#f8c81a"/><polygon points="1817.4,546.2 1817.7,544.9 1818.3,545 1818.9,545 1819.2,546.2" fill="#f8c81a"/><polygon points="1842,546.2 1842.3,545 1842.9,545.1 1843.5,545 1843.8,546.2" fill="#f8c81a"/><polygon points="1884.6,546.2 1884.9,543.4 1885.5,542.9 1886.1,542 1886.7,542 1887.3,542.9 1887.9,542.9 1888.2,546.2" fill="#f8c81a"/><polygon points="1890,546.2 1890.3,543.3 1890.9,544.1 1891.5,543.2 1892.1,543 1892.7,544.7 1893.3,544.8 1893.9,544.2 1894.5,544.1 1895.1,543.2 1895.7,544.4 1896.3,544.5 1896.9,544.1 1897.5,541.5 1898.1,544.3 1898.7,541.6 1899.3,542.4 1899.9,543.5 1900.5,544.2 1901.1,543.5 1901.7,543.3 1902.3,544.1 1902.9,543.5 1903.5,540.7 1904.1,539.2 1904.7,539.2 1905.3,539.5 1905.9,536.7 1906.5,543.6 1907.1,541.6 1907.7,540.8 1908.3,543.2 1908.9,542.9 1909.5,542.6 1910.1,540.2 1910.7,540.9 1911.3,542.7 1911.9,539.9 1912.5,541.3 1913.1,539.4 1913.7,541.8 1914.3,542.3 1914.9,534 1915.5,534.5 1916.1,529 1916.7,528 1917.3,530.6 1917.9,528.4 1918.5,526.2 1919.1,520 1919.7,530.8 1920.3,532 1920.9,523.8 1921.5,518.7 1922.1,522 1922.7,525.9 1923.3,519.1 1923.9,518.9 1924.5,530.9 1925.1,526.6 1925.7,523.3 1926.3,530.4 1926.9,525.4 1927.5,522.2 1928.1,535.1 1928.7,536.4 1929.3,535.5 1929.6,546.2" fill="#f8c81a"/><polygon points="1961.4,546.2 1961.7,544.9 1962.3,544.9 1962.6,546.2" fill="#f8c81a"/><polygon points="1989,546.2 1989.3,544.7 1989.9,545 1990.5,545.1 1990.8,546.2" fill="#f8c81a"/><line x1="1672.5" y1="546.2" x2="1997" y2="546.2" stroke="#c8c8c8" stroke-width="1.6"/>
<line x1="1672.5" y1="587.8" x2="1997" y2="587.8" stroke="#ffffff" stroke-width="3.8"/><polygon points="1704.6,587.8 1704.9,587 1705.5,586.8 1706.1,586.9 1706.7,586.8 1707.3,586.1 1707.9,585.9 1708.5,586.3 1709.1,585.9 1709.7,586.4 1710.3,585.6 1710.9,586 1711.5,586.8 1712.1,586.4 1712.7,586.4 1713.3,586.3 1713.9,586.8 1714.2,587.8" fill="#f8c81a"/><polygon points="1717.8,587.8 1718.1,583.6 1718.7,582.8 1719.3,582.6 1719.9,582.6 1720.5,582.4 1721.1,582.6 1721.7,579.1 1722.3,578.5 1722.9,582.5 1723.5,580.5 1724.1,582.6 1724.7,580.2 1725.3,581.2 1725.9,580.7 1726.5,578.9 1727.1,578.5 1727.7,582.9 1728.3,584.7 1728.9,587.4 1729.5,587.1 1730.1,587 1730.7,586.4 1731.3,586.3 1731.9,587.3 1732.5,587.2 1733.1,586.8 1733.7,587.1 1734,587.8" fill="#f8c81a"/><polygon points="1737,587.8 1737.3,584.1 1737.9,586.6 1738.5,585.8 1739.1,582.8 1739.7,579.9 1740.3,582.8 1740.9,584.7 1741.5,582.7 1742.1,584 1742.7,581.3 1743.3,583.7 1743.9,584.9 1744.5,582.7 1745.1,579.9 1745.7,582.2 1746.3,581.8 1746.9,581.9 1747.5,582.3 1748.1,585.4 1748.7,584.5 1749.3,579.5 1749.9,581.9 1750.5,579.5 1751.1,576.4 1751.7,584.9 1752.3,581.6 1752.9,582.8 1753.5,585.6 1754.1,585.4 1754.7,584.1 1755.3,583.9 1755.9,580.3 1756.5,584 1757.1,581.5 1757.7,584 1758.3,580.1 1758.9,579.2 1759.5,585.2 1760.1,582.3 1760.7,585.8 1761.3,585.6 1761.9,582.3 1762.5,584.5 1763.1,586.3 1763.7,586.5 1764.3,582.9 1764.9,582.2 1765.5,581.7 1766.1,585.3 1766.7,586 1767.3,584.8 1767.9,586.6 1768.5,586.9 1769.1,587.4 1769.7,587.5 1770.3,586.5 1770.9,587.3 1771.5,585.6 1772.1,586.1 1772.7,586.4 1773.3,586.4 1773.9,587.3 1774.5,585.7 1775.1,587.4 1775.7,586 1776.3,586.6 1776.9,586.5 1777.5,586.7 1778.1,587 1778.7,587.4 1779.3,587.3 1779.9,586.7 1780.5,587.2 1781.1,586.2 1781.7,586.2 1782,587.8" fill="#f8c81a"/><polygon points="1817.4,587.8 1817.7,586.7 1818.3,586.8 1818.9,586.5 1819.2,587.8" fill="#f8c81a"/><polygon points="1842,587.8 1842.3,586.6 1842.9,586.7 1843.5,586.7 1843.8,587.8" fill="#f8c81a"/><polygon points="1884.6,587.8 1884.9,584.9 1885.5,583.8 1886.1,583.6 1886.7,582.9 1887.3,584.5 1887.9,584.5 1888.2,587.8" fill="#f8c81a"/><polygon points="1890,587.8 1890.3,585.5 1890.9,586.2 1891.5,586.7 1892.1,586.7 1892.7,585.7 1893.3,585.4 1893.9,585.6 1894.5,586.4 1895.1,586.5 1895.7,586 1896.3,586.4 1896.9,586.2 1897.5,586.4 1898.1,586.2 1898.7,585.5 1899.3,584.2 1899.9,586.1 1900.5,585.9 1901.1,585.7 1901.7,585.9 1902.3,585.5 1902.9,586 1903.5,585.9 1904.1,585.7 1904.7,582.4 1905.3,582.8 1905.9,581.5 1906.5,583 1907.1,583.1 1907.7,584.4 1908.3,585 1908.9,584.3 1909.5,584.8 1910.1,585 1910.7,584.8 1911.3,585.4 1911.9,584 1912.5,584.3 1913.1,585.3 1913.7,584.8 1914.3,585.3 1914.9,576.9 1915.5,575.3 1916.1,569.2 1916.7,576.3 1917.3,573.9 1917.9,570.1 1918.5,574.9 1919.1,573.9 1919.7,572.1 1920.3,575.4 1920.9,573.8 1921.5,567.1 1922.1,564.6 1922.7,563.9 1923.3,575 1923.9,571.4 1924.5,569.1 1925.1,573.8 1925.7,575.3 1926.3,572 1926.9,574.7 1927.5,569.1 1928.1,579.7 1928.7,576.6 1929.3,577.1 1929.6,587.8" fill="#f8c81a"/><polygon points="1961.4,587.8 1961.7,586.6 1962.3,586.5 1962.6,587.8" fill="#f8c81a"/><polygon points="1989,587.8 1989.3,586.4 1989.9,586.5 1990.5,586.7 1990.8,587.8" fill="#f8c81a"/><line x1="1672.5" y1="587.8" x2="1997" y2="587.8" stroke="#c8c8c8" stroke-width="1.6"/>
<line x1="1672.5" y1="629.4" x2="1997" y2="629.4" stroke="#ffffff" stroke-width="3.8"/><polygon points="1704.6,629.4 1704.9,628.1 1705.5,628.2 1706.1,628.5 1706.7,628.4 1707.3,627.5 1707.9,628 1708.5,627.9 1709.1,628.4 1709.7,628.2 1710.3,628.2 1710.9,628.5 1711.5,628.4 1712.1,628.5 1712.7,627.5 1713.3,627.9 1713.9,627.9 1714.2,629.4" fill="#1c1ca8"/><polygon points="1717.8,629.4 1718.1,626.9 1718.7,625.2 1719.3,626.5 1719.9,624.4 1720.5,625.2 1721.1,623.2 1721.7,626 1722.3,626.2 1722.9,626.8 1723.5,624.8 1724.1,624.9 1724.7,624.1 1725.3,625.9 1725.9,624 1726.5,624.5 1727.1,624.4 1727.7,628 1728.3,627.1 1728.9,628.6 1729.5,628.8 1730.1,629 1730.7,629 1731.3,629.1 1731.6,629.4" fill="#1c1ca8"/><polygon points="1732.2,629.4 1732.5,628.8 1733.1,628.9 1733.7,628.7 1734,629.4" fill="#1c1ca8"/><polygon points="1737,629.4 1737.3,628.9 1737.9,628.8 1738.5,627.9 1739.1,628.7 1739.7,628.3 1740.3,628.1 1740.9,628.4 1741.5,627.1 1742.1,626.9 1742.7,627.8 1743.3,626.7 1743.9,625.4 1744.5,628.3 1745.1,625.9 1745.7,628 1746.3,627.9 1746.9,628.4 1747.5,628.6 1748.1,627.8 1748.7,628.5 1749.3,627.6 1749.9,625.9 1750.5,626 1751.1,628.2 1751.7,628.4 1752.3,626.8 1752.9,627.5 1753.5,625.8 1754.1,627.8 1754.7,627.6 1755.3,628.1 1755.9,628.6 1756.5,628.2 1757.1,628 1757.7,628.3 1758.3,626.6 1758.9,627.2 1759.5,628.5 1760.1,628.8 1760.7,628.8 1761.3,628.8 1761.9,628.9 1762.5,628.9 1763.1,628 1763.7,628.6 1764.3,628.7 1764.9,628.6 1765.5,628.6 1766.1,628.7 1766.7,628.6 1767.3,628.5 1767.9,628.8 1768.5,629 1768.8,629.4" fill="#1c1ca8"/><polygon points="1770.6,629.4 1770.9,629.1 1771.2,629.4" fill="#1c1ca8"/><polygon points="1771.8,629.4 1772.1,629 1772.7,628.7 1773.3,628.8 1773.6,629.4" fill="#1c1ca8"/><polygon points="1776,629.4 1776.3,628.7 1776.9,628.4 1777.5,629.1 1778.1,628.6 1778.7,628.3 1779.3,628.6 1779.9,628.8 1780.5,629.1 1781.1,628.8 1781.7,629.1 1782,629.4" fill="#1c1ca8"/><polygon points="1817.4,629.4 1817.7,628.3 1818.3,628.2 1818.9,628.3 1819.2,629.4" fill="#1c1ca8"/><polygon points="1842,629.4 1842.3,628 1842.9,628.3 1843.5,628.3 1843.8,629.4" fill="#1c1ca8"/><polygon points="1884.6,629.4 1884.9,628.9 1885.5,628.8 1886.1,628.8 1886.7,628.7 1887.3,628.9 1887.9,629 1888.2,629.4" fill="#1c1ca8"/><polygon points="1890,629.4 1890.3,629 1890.9,628.8 1891.5,629.1 1892.1,629.1 1892.7,629.1 1893.3,629.1 1893.9,629.1 1894.5,628.9 1895.1,628.9 1895.7,629 1896.3,629 1896.9,629 1897.5,629 1898.1,628.7 1898.7,629 1899.3,629 1899.9,628.9 1900.5,629 1901.1,628.9 1901.7,629 1902.3,628.7 1902.9,629 1903.5,629 1904.1,629 1904.7,628.9 1905.3,628.2 1905.9,628.6 1906.5,628.4 1907.1,628.6 1907.7,628.9 1908.3,628.8 1908.9,628.1 1909.5,628.1 1910.1,627.8 1910.7,628.7 1911.3,628.8 1911.9,628.9 1912.5,628.4 1913.1,627.9 1913.7,628.7 1914.3,628.8 1914.9,626.9 1915.5,627 1916.1,626.8 1916.7,626.6 1917.3,625 1917.9,626.5 1918.5,625.6 1919.1,626.5 1919.7,626 1920.3,626 1920.9,626.6 1921.5,624.8 1922.1,625.1 1922.7,625.5 1923.3,624.2 1923.9,625.1 1924.5,626.5 1925.1,626.4 1925.7,626.6 1926.3,624.8 1926.9,624.5 1927.5,625.3 1928.1,626.7 1928.7,627.3 1929.3,627.8 1929.6,629.4" fill="#1c1ca8"/><polygon points="1961.4,629.4 1961.7,628 1962.3,628 1962.6,629.4" fill="#1c1ca8"/><polygon points="1989,629.4 1989.3,627.9 1989.9,628 1990.5,628.2 1990.8,629.4" fill="#1c1ca8"/><line x1="1672.5" y1="629.4" x2="1997" y2="629.4" stroke="#2a2ab8" stroke-width="1.6"/>
<line x1="1672.5" y1="670.9" x2="1997" y2="670.9" stroke="#ffffff" stroke-width="3.8"/><polygon points="1704.6,670.9 1704.9,669.9 1705.5,669 1706.1,669.4 1706.7,669.5 1707.3,669.9 1707.9,669.3 1708.5,669.8 1709.1,668.6 1709.7,669.7 1710.3,668.5 1710.9,669.9 1711.5,669.7 1712.1,669.5 1712.7,668.4 1713.3,668.4 1713.9,669.6 1714.2,670.9" fill="#1c1ca8"/><polygon points="1717.8,670.9 1718.1,668.7 1718.7,665.7 1719.3,668 1719.9,666 1720.5,665.1 1721.1,663.7 1721.7,667.4 1722.3,665.9 1722.9,666.8 1723.5,664.3 1724.1,664.8 1724.7,668 1725.3,665.3 1725.9,665.1 1726.5,667.6 1727.1,665.3 1727.7,669.3 1728.3,668 1728.9,670.4 1729.2,670.9" fill="#1c1ca8"/><polygon points="1729.8,670.9 1730.1,670.3 1730.7,670.6 1731,670.9" fill="#1c1ca8"/><polygon points="1732.8,670.9 1733.1,670.6 1733.7,670.6 1734,670.9" fill="#1c1ca8"/><polygon points="1737,670.9 1737.3,670.3 1737.9,670.5 1738.5,670.6 1739.1,670.6 1739.7,670.1 1740.3,670.5 1740.9,669.3 1741.5,669.2 1742.1,669.6 1742.7,669.7 1743.3,670.2 1743.9,669.1 1744.5,670.1 1745.1,670.4 1745.7,669.9 1746.3,669.1 1746.9,668.6 1747.5,669.9 1748.1,670.2 1748.7,670 1749.3,670.4 1749.9,669.9 1750.5,670.3 1751.1,670.3 1751.7,669.5 1752.3,668.8 1752.9,669.5 1753.5,670.2 1754.1,669.2 1754.7,669.7 1755.3,669.9 1755.9,670.1 1756.5,669.5 1757.1,670.2 1757.7,670.5 1758.3,670.4 1758.9,670.4 1759.5,670.5 1760.1,670.6 1760.7,670.1 1761.3,670.4 1761.9,669.8 1762.5,670 1763.1,669.7 1763.7,670 1764.3,670.6 1764.9,670.1 1765.5,670.6 1766.1,670.5 1766.7,670.1 1767.3,670.3 1767.9,670 1768.5,670.5 1769.1,670.4 1769.7,670.6 1770,670.9" fill="#1c1ca8"/><polygon points="1770.6,670.9 1770.9,670.5 1771.5,670.6 1771.8,670.9" fill="#1c1ca8"/><polygon points="1772.4,670.9 1772.7,670.4 1773.3,670.6 1773.9,670.2 1774.5,670.5 1774.8,670.9" fill="#1c1ca8"/><polygon points="1775.4,670.9 1775.7,670.2 1776.3,670.5 1776.6,670.9" fill="#1c1ca8"/><polygon points="1777.2,670.9 1777.5,670.5 1778.1,670.6 1778.4,670.9" fill="#1c1ca8"/><polygon points="1780.2,670.9 1780.5,670.6 1781.1,670.6 1781.4,670.9" fill="#1c1ca8"/><polygon points="1817.4,670.9 1817.7,669.8 1818.3,669.6 1818.9,669.8 1819.2,670.9" fill="#1c1ca8"/><polygon points="1842,670.9 1842.3,669.8 1842.9,669.8 1843.5,669.6 1843.8,670.9" fill="#1c1ca8"/><polygon points="1884.6,670.9 1884.9,670.3 1885.5,670.2 1886.1,670.2 1886.7,670.2 1887.3,670.1 1887.9,670.4 1888.2,670.9" fill="#1c1ca8"/><polygon points="1893,670.9 1893.3,670.6 1893.6,670.9" fill="#1c1ca8"/><polygon points="1895.4,670.9 1895.7,670.6 1896,670.9" fill="#1c1ca8"/><polygon points="1897.8,670.9 1898.1,670.6 1898.4,670.9" fill="#1c1ca8"/><polygon points="1899,670.9 1899.3,670.6 1899.9,670.6 1900.5,670.4 1901.1,670.4 1901.7,670.5 1902,670.9" fill="#1c1ca8"/><polygon points="1903.2,670.9 1903.5,670.6 1904.1,670.6 1904.7,670.5 1905.3,670.5 1905.9,670.6 1906.5,670.6 1907.1,670.5 1907.4,670.9" fill="#1c1ca8"/><polygon points="1908,670.9 1908.3,670.5 1908.9,670.6 1909.5,670.6 1910.1,670.6 1910.7,670.5 1911,670.9" fill="#1c1ca8"/><polygon points="1911.6,670.9 1911.9,670.5 1912.5,670.3 1913.1,670.6 1913.7,670.3 1914.3,670.3 1914.9,669.4 1915.5,669.6 1916.1,669.6 1916.7,669.9 1917.3,669.8 1917.9,669 1918.5,668.8 1919.1,669.8 1919.7,669 1920.3,669.7 1920.9,669.6 1921.5,669.7 1922.1,669.8 1922.7,669.5 1923.3,669.1 1923.9,669.5 1924.5,669.2 1925.1,669.4 1925.7,669.8 1926.3,669.9 1926.9,669.4 1927.5,669.6 1928.1,669.8 1928.7,670.2 1929.3,670.3 1929.6,670.9" fill="#1c1ca8"/><polygon points="1961.4,670.9 1961.7,669.6 1962.3,669.6 1962.6,670.9" fill="#1c1ca8"/><polygon points="1989,670.9 1989.3,669.4 1989.9,669.7 1990.5,669.5 1990.8,670.9" fill="#1c1ca8"/><line x1="1672.5" y1="670.9" x2="1997" y2="670.9" stroke="#2a2ab8" stroke-width="1.6"/>
<line x1="1672.5" y1="712.5" x2="1997" y2="712.5" stroke="#ffffff" stroke-width="3.8"/><polygon points="1704.6,712.5 1704.9,710.5 1705.5,710.9 1706.1,710.9 1706.7,711.1 1707.3,711.5 1707.9,711.6 1708.5,711.4 1709.1,711.2 1709.7,710.6 1710.3,711.2 1710.9,710.1 1711.5,711.5 1712.1,710.9 1712.7,711.6 1713.3,711.6 1713.9,711.6 1714.2,712.5" fill="#1c1ca8"/><polygon points="1717.8,712.5 1718.1,710 1718.7,708.6 1719.3,709 1719.9,707.7 1720.5,706.6 1721.1,709.1 1721.7,707.5 1722.3,709.4 1722.9,708.3 1723.5,707.4 1724.1,709.2 1724.7,708.6 1725.3,708.1 1725.9,710.1 1726.5,708.8 1727.1,710.2 1727.7,711.2 1728.3,711.3 1728.6,712.5" fill="#1c1ca8"/><polygon points="1729.2,712.5 1729.5,711.9 1730.1,712.2 1730.7,711.9 1731,712.5" fill="#1c1ca8"/><polygon points="1732.8,712.5 1733.1,712.2 1733.7,711.9 1734,712.5" fill="#1c1ca8"/><polygon points="1737,712.5 1737.3,711.8 1737.9,711.5 1738.5,712 1739.1,712.1 1739.7,711.9 1740.3,710.4 1740.9,710.4 1741.5,709.4 1742.1,709.7 1742.7,711.3 1743.3,711.6 1743.9,710.9 1744.5,711.6 1745.1,711.2 1745.7,711 1746.3,711.5 1746.9,709.6 1747.5,711.6 1748.1,709.9 1748.7,711.7 1749.3,709.8 1749.9,711 1750.5,711.6 1751.1,710.9 1751.7,710.4 1752.3,711.2 1752.9,711.2 1753.5,710.7 1754.1,711.5 1754.7,711.6 1755.3,710.9 1755.9,711.2 1756.5,710.4 1757.1,711.2 1757.7,710.8 1758.3,711.1 1758.9,711.7 1759.5,711.7 1760.1,711.4 1760.7,711.5 1761.3,711.1 1761.9,711.1 1762.5,711.1 1763.1,711.8 1763.7,711 1764.3,710.6 1764.9,711.7 1765.5,711 1766.1,711.6 1766.7,712 1767.3,712.2 1767.9,711.7 1768.5,712.1 1769.1,712.1 1769.7,712.2 1770,712.5" fill="#1c1ca8"/><polygon points="1771.2,712.5 1771.5,712.2 1772.1,712.1 1772.7,711.8 1773.3,711.8 1773.9,712.1 1774.5,711.7 1774.8,712.5" fill="#1c1ca8"/><polygon points="1775.4,712.5 1775.7,711.9 1776.3,712.1 1776.9,712.2 1777.5,712.1 1777.8,712.5" fill="#1c1ca8"/><polygon points="1778.4,712.5 1778.7,712.2 1779.3,711.9 1779.9,712 1780.5,711.8 1781.1,712.1 1781.4,712.5" fill="#1c1ca8"/><polygon points="1817.4,712.5 1817.7,711.4 1818.3,711.2 1818.9,711.4 1819.2,712.5" fill="#1c1ca8"/><polygon points="1842,712.5 1842.3,711.3 1842.9,711.2 1843.5,711.4 1843.8,712.5" fill="#1c1ca8"/><polygon points="1884.6,712.5 1884.9,712.2 1885.5,712.1 1886.1,712.1 1886.7,712 1887.3,712.2 1887.9,712.2 1888.2,712.5" fill="#1c1ca8"/><polygon points="1890,712.5 1890.3,712.2 1890.9,712.1 1891.5,712 1892.1,712 1892.7,712 1893.3,712.1 1893.9,712 1894.5,712 1895.1,712.1 1895.7,712.2 1896,712.5" fill="#1c1ca8"/><polygon points="1896.6,712.5 1896.9,712.2 1897.5,712.1 1898.1,711.9 1898.7,712.2 1899.3,711.9 1899.9,711.9 1900.5,712.1 1901.1,712 1901.7,711.7 1902.3,711.7 1902.9,711.8 1903.5,712.1 1904.1,712.1 1904.7,712 1905.3,711.8 1905.9,711.8 1906.5,711.7 1907.1,711.7 1907.7,712 1908.3,711.9 1908.9,711.9 1909.5,712.1 1910.1,712.1 1910.7,712.1 1911.3,712.1 1911.9,711.8 1912.5,711.7 1913.1,711.9 1913.7,711.4 1914.3,711.8 1914.9,710.9 1915.5,710.7 1916.1,710.6 1916.7,710.8 1917.3,710.6 1917.9,710 1918.5,709.9 1919.1,710.6 1919.7,710 1920.3,709.9 1920.9,710.5 1921.5,710.4 1922.1,709.8 1922.7,709.3 1923.3,709.2 1923.9,710.2 1924.5,709.3 1925.1,709.9 1925.7,709.8 1926.3,710.4 1926.9,710.5 1927.5,710.7 1928.1,711.4 1928.7,711 1929.3,711.4 1929.6,712.5" fill="#1c1ca8"/><polygon points="1961.4,712.5 1961.7,711.3 1962.3,711.4 1962.6,712.5" fill="#1c1ca8"/><polygon points="1989,712.5 1989.3,711.4 1989.9,711.4 1990.5,711.2 1990.8,712.5" fill="#1c1ca8"/><line x1="1672.5" y1="712.5" x2="1997" y2="712.5" stroke="#2a2ab8" stroke-width="1.6"/>
<line x1="1672.5" y1="753.5" x2="1997" y2="753.5" stroke="#ffffff" stroke-width="3.8"/><polygon points="1704.6,753.5 1704.9,753.2 1705.5,752.8 1706.1,753.1 1706.7,752.7 1707.3,752.6 1707.9,753.1 1708.5,753 1709.1,753.1 1709.7,753.1 1710.3,752.9 1710.9,752.7 1711.5,753.1 1712.1,753 1712.7,752.9 1713.3,752.9 1713.9,753.2 1714.2,753.5" fill="#1c1ca8"/><polygon points="1717.8,753.5 1718.1,751.5 1718.7,749.5 1719.3,746.6 1719.9,746.2 1720.5,747.1 1721.1,749.3 1721.7,745.9 1722.3,749.2 1722.9,749.4 1723.5,749.9 1724.1,748.6 1724.7,746.8 1725.3,747.1 1725.9,746.4 1726.5,747.3 1727.1,748 1727.7,751.4 1728.3,749.9 1728.9,752.4 1729.5,752.6 1730.1,752.4 1730.7,752.4 1731.3,752.4 1731.9,752.6 1732.5,752.6 1733.1,752.7 1733.7,753.2 1734,753.5" fill="#1c1ca8"/><polygon points="1737,753.5 1737.3,752.4 1737.9,752.7 1738.5,752.2 1739.1,751.1 1739.7,751.8 1740.3,752.4 1740.9,751.7 1741.5,750 1742.1,749.5 1742.7,748.9 1743.3,748.9 1743.9,749.5 1744.5,751.1 1745.1,752.3 1745.7,749.9 1746.3,752.4 1746.9,749.9 1747.5,750.6 1748.1,752.1 1748.7,752.4 1749.3,751 1749.9,752.4 1750.5,752 1751.1,752.5 1751.7,752.5 1752.3,752.4 1752.9,751.4 1753.5,752.6 1754.1,750.8 1754.7,751.1 1755.3,752.2 1755.9,751.3 1756.5,752.6 1757.1,752.6 1757.7,752.1 1758.3,750.9 1758.9,751.2 1759.5,752.7 1760.1,751 1760.7,752.6 1761.3,752.8 1761.9,752.2 1762.5,752.9 1763.1,752.6 1763.7,752.8 1764.3,752.6 1764.9,752.7 1765.5,752.6 1766.1,752.8 1766.7,752.6 1767.3,752.3 1767.9,752.7 1768.5,752.9 1769.1,753.2 1769.7,753.1 1770,753.5" fill="#1c1ca8"/><polygon points="1770.6,753.5 1770.9,753.1 1771.5,753 1771.8,753.5" fill="#1c1ca8"/><polygon points="1772.4,753.5 1772.7,753.2 1773.3,752.9 1773.9,753 1774.5,752.7 1775.1,753.2 1775.7,752.5 1776.3,753.2 1776.9,752.3 1777.5,753 1778.1,753.2 1778.7,753.2 1779.3,752.3 1779.9,752.5 1780.5,752 1781.1,751.9 1781.7,752.8 1782,753.5" fill="#1c1ca8"/><polygon points="1817.4,753.5 1817.7,752.2 1818.3,752.4 1818.9,752.2 1819.2,753.5" fill="#1c1ca8"/><polygon points="1842,753.5 1842.3,752.4 1842.9,752.4 1843.5,752.3 1843.8,753.5" fill="#1c1ca8"/><polygon points="1884.6,753.5 1884.9,752.3 1885.5,752 1886.1,751.9 1886.7,751.9 1887.3,751.8 1887.9,752.4 1888.2,753.5" fill="#1c1ca8"/><polygon points="1890,753.5 1890.3,753.1 1890.9,752.9 1891.5,753.1 1892.1,753.1 1892.7,753 1893.3,753.1 1893.9,753 1894.5,752.3 1895.1,752.2 1895.7,753 1896.3,752.2 1896.9,752 1897.5,752 1898.1,752.8 1898.7,752.8 1899.3,752.9 1899.9,752.4 1900.5,752.2 1901.1,752.7 1901.7,751.8 1902.3,751.9 1902.9,752 1903.5,752.4 1904.1,751.8 1904.7,751.8 1905.3,750.4 1905.9,750.1 1906.5,752.6 1907.1,752.8 1907.7,752.7 1908.3,751.6 1908.9,752.3 1909.5,752.4 1910.1,752.1 1910.7,752.1 1911.3,752.2 1911.9,751.5 1912.5,752 1913.1,751.5 1913.7,752.4 1914.3,751.6 1914.9,749.2 1915.5,749 1916.1,749.7 1916.7,747.5 1917.3,749.3 1917.9,747.6 1918.5,748 1919.1,749.3 1919.7,746.4 1920.3,746.3 1920.9,748.8 1921.5,749 1922.1,746.1 1922.7,747.7 1923.3,747.5 1923.9,748.1 1924.5,749.1 1925.1,749.2 1925.7,749.1 1926.3,749.3 1926.9,749 1927.5,748.9 1928.1,749.8 1928.7,751 1929.3,750.2 1929.6,753.5" fill="#1c1ca8"/><polygon points="1961.4,753.5 1961.7,752.4 1962.3,752.3 1962.6,753.5" fill="#1c1ca8"/><polygon points="1989,753.5 1989.3,752.4 1989.9,752.5 1990.5,752.3 1990.8,753.5" fill="#1c1ca8"/><line x1="1672.5" y1="753.5" x2="1997" y2="753.5" stroke="#2a2ab8" stroke-width="1.6"/>
<line x1="1672.5" y1="795" x2="1997" y2="795" stroke="#ffffff" stroke-width="3.8"/><polygon points="1704.6,795 1704.9,794.4 1705.5,794.3 1706.1,793.6 1706.7,794 1707.3,794.3 1707.9,793.9 1708.5,794.2 1709.1,794 1709.7,794.3 1710.3,793.8 1710.9,794.4 1711.5,794.3 1712.1,793.6 1712.7,794.3 1713.3,794.2 1713.9,794.4 1714.2,795" fill="#1c1ca8"/><polygon points="1717.8,795 1718.1,794 1718.7,792.8 1719.3,791.4 1719.9,790.8 1720.5,792.7 1721.1,791.8 1721.7,792.5 1722.3,793.2 1722.9,793.1 1723.5,793 1724.1,792.9 1724.7,791 1725.3,791.3 1725.9,793.2 1726.5,792.7 1727.1,793.2 1727.7,794.1 1728.3,793.4 1728.6,795" fill="#1c1ca8"/><polygon points="1729.2,795 1729.5,794.7 1730.1,794.5 1730.4,795" fill="#1c1ca8"/><polygon points="1731.6,795 1731.9,794.7 1732.2,795" fill="#1c1ca8"/><polygon points="1737,795 1737.3,794.2 1737.9,794 1738.5,793.8 1739.1,794.4 1739.7,794.5 1740.3,793.4 1740.9,794.2 1741.5,794.3 1742.1,794.4 1742.7,793.3 1743.3,793.7 1743.9,794.3 1744.5,794.4 1745.1,794.1 1745.7,794.4 1746.3,794.4 1746.9,794.1 1747.5,793.7 1748.1,793.6 1748.7,792.5 1749.3,794.3 1749.9,794.4 1750.5,794.4 1751.1,793.8 1751.7,793.4 1752.3,794.2 1752.9,793.8 1753.5,794.4 1754.1,794.5 1754.7,794.4 1755.3,794.5 1755.9,794.4 1756.5,794.4 1757.1,794.2 1757.7,793.3 1758.3,793.3 1758.9,793.2 1759.5,794.4 1760.1,793.7 1760.7,794.2 1761.3,793.4 1761.9,793.8 1762.5,793.8 1763.1,794 1763.7,794.6 1764.3,794.6 1764.9,794.6 1765.5,794.6 1766.1,794.1 1766.7,794.4 1767.3,794.7 1767.9,794.2 1768.5,794.7 1768.8,795" fill="#1c1ca8"/><polygon points="1770.6,795 1770.9,794.6 1771.5,794.5 1772.1,794.3 1772.7,794.5 1773.3,794.6 1773.6,795" fill="#1c1ca8"/><polygon points="1774.2,795 1774.5,794.5 1775.1,794.3 1775.7,794.1 1776.3,794.3 1776.9,794.1 1777.2,795" fill="#1c1ca8"/><polygon points="1779,795 1779.3,794.5 1779.9,794.2 1780.5,794.4 1780.8,795" fill="#1c1ca8"/><polygon points="1781.4,795 1781.7,794.6 1782,795" fill="#1c1ca8"/><polygon points="1817.4,795 1817.7,793.9 1818.3,793.8 1818.9,794 1819.2,795" fill="#1c1ca8"/><polygon points="1842,795 1842.3,793.7 1842.9,793.6 1843.5,793.9 1843.8,795" fill="#1c1ca8"/><polygon points="1884.6,795 1884.9,794.4 1885.5,794.3 1886.1,794.3 1886.7,794.2 1887.3,794.3 1887.9,794.5 1888.2,795" fill="#1c1ca8"/><polygon points="1891.2,795 1891.5,794.7 1891.8,795" fill="#1c1ca8"/><polygon points="1897.8,795 1898.1,794.7 1898.4,795" fill="#1c1ca8"/><polygon points="1900.2,795 1900.5,794.7 1900.8,795" fill="#1c1ca8"/><polygon points="1902,795 1902.3,794.7 1902.9,794.6 1903.5,794.7 1904.1,794.7 1904.7,794.7 1905.3,794.7 1905.9,794.5 1906.2,795" fill="#1c1ca8"/><polygon points="1906.8,795 1907.1,794.5 1907.7,794.7 1908.3,794.7 1908.6,795" fill="#1c1ca8"/><polygon points="1909.2,795 1909.5,794.7 1910.1,794.7 1910.7,794.5 1911.3,794.3 1911.9,794.7 1912.5,794.5 1913.1,794.7 1913.7,794.7 1914.3,794.4 1914.9,793.9 1915.5,794 1916.1,793.9 1916.7,793.9 1917.3,793.9 1917.9,793.8 1918.5,793.6 1919.1,793.5 1919.7,793.9 1920.3,793.9 1920.9,793.8 1921.5,793.8 1922.1,793.7 1922.7,793.6 1923.3,792.9 1923.9,793 1924.5,792.9 1925.1,793.7 1925.7,793.8 1926.3,793.4 1926.9,793.9 1927.5,793.4 1928.1,794.1 1928.7,794.3 1929.3,794 1929.6,795" fill="#1c1ca8"/><polygon points="1961.4,795 1961.7,793.6 1962.3,793.7 1962.6,795" fill="#1c1ca8"/><polygon points="1989,795 1989.3,793.6 1989.9,793.8 1990.5,793.9 1990.8,795" fill="#1c1ca8"/><line x1="1672.5" y1="795" x2="1997" y2="795" stroke="#2a2ab8" stroke-width="1.6"/>
<line x1="1672.5" y1="836.6" x2="1997" y2="836.6" stroke="#ffffff" stroke-width="3.8"/><polygon points="1704.6,836.6 1704.9,835.7 1705.5,835.3 1706.1,835 1706.7,835.5 1707.3,835.6 1707.9,834.8 1708.5,834.9 1709.1,835.6 1709.7,835.2 1710.3,834.8 1710.9,834.7 1711.5,834.3 1712.1,833.9 1712.7,834.5 1713.3,833.8 1713.9,834.9 1714.2,836.6" fill="#1c1ca8"/><polygon points="1717.8,836.6 1718.1,835.6 1718.7,833.4 1719.3,834.7 1719.9,834.9 1720.5,835 1721.1,834.3 1721.7,832.8 1722.3,834.2 1722.9,832.6 1723.5,832.4 1724.1,834.4 1724.7,834.2 1725.3,834 1725.9,833.8 1726.5,833.7 1727.1,835 1727.7,835.2 1728.3,835.7 1728.6,836.6" fill="#1c1ca8"/><polygon points="1730.4,836.6 1730.7,836.3 1731.3,836.3 1731.6,836.6" fill="#1c1ca8"/><polygon points="1732.2,836.6 1732.5,836.3 1732.8,836.6" fill="#1c1ca8"/><polygon points="1733.4,836.6 1733.7,836.2 1734,836.6" fill="#1c1ca8"/><polygon points="1737.6,836.6 1737.9,836.3 1738.5,836.3 1738.8,836.6" fill="#1c1ca8"/><polygon points="1740,836.6 1740.3,835.9 1740.9,835.9 1741.5,836 1742.1,835.8 1742.7,836.3 1743.3,836.1 1743.9,835.7 1744.5,836.2 1745.1,836.2 1745.7,835.5 1746.3,835.5 1746.9,836.1 1747.5,835.6 1748.1,836.3 1748.7,836.1 1749.3,835.7 1749.9,835.8 1750.5,835.9 1751.1,836.2 1751.7,835.6 1752.3,836 1752.9,835.6 1753.5,835.5 1754.1,835.8 1754.7,836.1 1755.3,836 1755.9,836.3 1756.5,836.3 1757.1,835.8 1757.7,836.3 1758,836.6" fill="#1c1ca8"/><polygon points="1758.6,836.6 1758.9,836 1759.5,836.2 1760.1,836.3 1760.7,836 1761.3,836 1761.9,836.2 1762.5,836.3 1762.8,836.6" fill="#1c1ca8"/><polygon points="1763.4,836.6 1763.7,836.3 1764.3,836.2 1764.9,836.2 1765.2,836.6" fill="#1c1ca8"/><polygon points="1765.8,836.6 1766.1,836.1 1766.4,836.6" fill="#1c1ca8"/><polygon points="1767,836.6 1767.3,836.2 1767.9,836.2 1768.2,836.6" fill="#1c1ca8"/><polygon points="1769.4,836.6 1769.7,836.2 1770.3,836.3 1770.6,836.6" fill="#1c1ca8"/><polygon points="1771.2,836.6 1771.5,836.3 1771.8,836.6" fill="#1c1ca8"/><polygon points="1772.4,836.6 1772.7,836.3 1773,836.6" fill="#1c1ca8"/><polygon points="1774.2,836.6 1774.5,836.3 1774.8,836.6" fill="#1c1ca8"/><polygon points="1775.4,836.6 1775.7,836.2 1776,836.6" fill="#1c1ca8"/><polygon points="1779,836.6 1779.3,836.3 1779.6,836.6" fill="#1c1ca8"/><polygon points="1817.4,836.6 1817.7,835.6 1818.3,835.6 1818.9,835.5 1819.2,836.6" fill="#1c1ca8"/><polygon points="1842,836.6 1842.3,835.5 1842.9,835.5 1843.5,835.4 1843.8,836.6" fill="#1c1ca8"/><polygon points="1884.6,836.6 1884.9,836.3 1885.5,836.2 1886.1,836.2 1886.7,836.2 1887.3,836.2 1887.9,836.3 1888.2,836.6" fill="#1c1ca8"/><polygon points="1896.6,836.6 1896.9,836.3 1897.2,836.6" fill="#1c1ca8"/><polygon points="1903.8,836.6 1904.1,836.3 1904.7,836.3 1905.3,836.3 1905.9,836.3 1906.2,836.6" fill="#1c1ca8"/><polygon points="1908,836.6 1908.3,836.3 1908.9,836.3 1909.2,836.6" fill="#1c1ca8"/><polygon points="1911.6,836.6 1911.9,836.2 1912.5,836.3 1912.8,836.6" fill="#1c1ca8"/><polygon points="1914,836.6 1914.3,836.3 1914.9,835.9 1915.5,835.5 1916.1,835.5 1916.7,835.6 1917.3,835.8 1917.9,835.3 1918.5,835.6 1919.1,835.5 1919.7,835.2 1920.3,835 1920.9,835.6 1921.5,835.1 1922.1,835.7 1922.7,835.8 1923.3,835.5 1923.9,835.4 1924.5,835.1 1925.1,835.7 1925.7,835.7 1926.3,835.8 1926.9,835.8 1927.5,835.9 1928.1,836.1 1928.7,835.8 1929.3,835.7 1929.6,836.6" fill="#1c1ca8"/><polygon points="1961.4,836.6 1961.7,835.5 1962.3,835.5 1962.6,836.6" fill="#1c1ca8"/><polygon points="1989,836.6 1989.3,835.5 1989.9,835.5 1990.5,835.3 1990.8,836.6" fill="#1c1ca8"/><line x1="1672.5" y1="836.6" x2="1997" y2="836.6" stroke="#2a2ab8" stroke-width="1.6"/>
<line x1="1672.5" y1="878.2" x2="1997" y2="878.2" stroke="#ffffff" stroke-width="3.8"/><polygon points="1704.6,878.2 1704.9,877.1 1705.5,876.8 1706.1,877.2 1706.7,876.4 1707.3,877.1 1707.9,876.5 1708.5,876.9 1709.1,876.5 1709.7,876.1 1710.3,877.3 1710.9,876 1711.5,877.2 1712.1,876.1 1712.7,877.2 1713.3,876.2 1713.9,876.5 1714.2,878.2" fill="#1c1ca8"/><polygon points="1717.8,878.2 1718.1,875.9 1718.7,874 1719.3,871.9 1719.9,874.3 1720.5,872.1 1721.1,875.2 1721.7,875.2 1722.3,874 1722.9,873.6 1723.5,872.3 1724.1,872.4 1724.7,874.7 1725.3,875 1725.9,874.9 1726.5,875.4 1727.1,873.4 1727.7,874.9 1728.3,876 1728.9,877.8 1729.2,878.2" fill="#1c1ca8"/><polygon points="1729.8,878.2 1730.1,877.6 1730.7,877.8 1731,878.2" fill="#1c1ca8"/><polygon points="1731.6,878.2 1731.9,877.6 1732.5,877.7 1732.8,878.2" fill="#1c1ca8"/><polygon points="1733.4,878.2 1733.7,877.9 1734,878.2" fill="#1c1ca8"/><polygon points="1737,878.2 1737.3,877.9 1737.9,877.9 1738.5,877.8 1739.1,877.3 1739.7,876.4 1740.3,877.4 1740.9,877.2 1741.5,876.3 1742.1,877.2 1742.7,875.6 1743.3,876.4 1743.9,876.1 1744.5,877.4 1745.1,876.9 1745.7,877.3 1746.3,877.4 1746.9,876.9 1747.5,875.8 1748.1,877.3 1748.7,876.5 1749.3,876.6 1749.9,876.4 1750.5,877.2 1751.1,876.6 1751.7,877.5 1752.3,877.4 1752.9,877.4 1753.5,876.6 1754.1,876.4 1754.7,875.9 1755.3,877.1 1755.9,875.7 1756.5,877.3 1757.1,877.3 1757.7,876.2 1758.3,877.3 1758.9,876.4 1759.5,877.4 1760.1,877.7 1760.7,877.2 1761.3,876.5 1761.9,876.7 1762.5,877.1 1763.1,876.3 1763.7,877.3 1764.3,876.4 1764.9,876.6 1765.5,877.5 1766.1,877.8 1766.7,877 1767.3,876.8 1767.9,877.4 1768.5,877.7 1769.1,877.9 1769.7,877.5 1770.3,877.8 1770.9,877.9 1771.5,877.9 1772.1,877.6 1772.7,877.6 1773,878.2" fill="#1c1ca8"/><polygon points="1774.2,878.2 1774.5,877.8 1774.8,878.2" fill="#1c1ca8"/><polygon points="1775.4,878.2 1775.7,877.6 1776.3,877.9 1776.6,878.2" fill="#1c1ca8"/><polygon points="1777.8,878.2 1778.1,877.4 1778.7,877.6 1779,878.2" fill="#1c1ca8"/><polygon points="1779.6,878.2 1779.9,877.9 1780.5,877.8 1780.8,878.2" fill="#1c1ca8"/><polygon points="1781.4,878.2 1781.7,877.9 1782,878.2" fill="#1c1ca8"/><polygon points="1817.4,878.2 1817.7,877 1818.3,877.1 1818.9,877.1 1819.2,878.2" fill="#1c1ca8"/><polygon points="1842,878.2 1842.3,876.8 1842.9,876.9 1843.5,877 1843.8,878.2" fill="#1c1ca8"/><polygon points="1884.6,878.2 1884.9,877.6 1885.5,877.5 1886.1,877.4 1886.7,877.3 1887.3,877.3 1887.9,877.7 1888.2,878.2" fill="#1c1ca8"/><polygon points="1890,878.2 1890.3,877.9 1890.6,878.2" fill="#1c1ca8"/><polygon points="1891.8,878.2 1892.1,877.8 1892.7,877.8 1893.3,877.9 1893.9,877.8 1894.2,878.2" fill="#1c1ca8"/><polygon points="1894.8,878.2 1895.1,877.9 1895.7,877.8 1896.3,877.9 1896.9,877.9 1897.5,877.8 1898.1,877.7 1898.7,877.9 1899.3,877.9 1899.9,877.9 1900.5,877.7 1900.8,878.2" fill="#1c1ca8"/><polygon points="1902,878.2 1902.3,877.8 1902.9,877.9 1903.5,877.9 1904.1,877.6 1904.7,877.7 1905.3,876.8 1905.9,877.5 1906.5,877.6 1907.1,877.7 1907.7,877.4 1908.3,877.7 1908.9,877.3 1909.5,877.9 1910.1,877.8 1910.7,877.9 1911.3,877.7 1911.9,877.8 1912.5,877.9 1913.1,877.4 1913.7,877.7 1914.3,877.8 1914.9,876.9 1915.5,876 1916.1,876.7 1916.7,876.8 1917.3,876.4 1917.9,875.4 1918.5,875.4 1919.1,876 1919.7,876.6 1920.3,876.5 1920.9,875.7 1921.5,875.9 1922.1,876.5 1922.7,875.8 1923.3,875.4 1923.9,875.7 1924.5,876 1925.1,876.4 1925.7,876.1 1926.3,876.5 1926.9,876.6 1927.5,876.6 1928.1,877.3 1928.7,876.8 1929.3,876.4 1929.6,878.2" fill="#1c1ca8"/><polygon points="1961.4,878.2 1961.7,877 1962.3,876.8 1962.6,878.2" fill="#1c1ca8"/><polygon points="1989,878.2 1989.3,877.1 1989.9,877.2 1990.5,876.9 1990.8,878.2" fill="#1c1ca8"/><line x1="1672.5" y1="878.2" x2="1997" y2="878.2" stroke="#2a2ab8" stroke-width="1.6"/>
<line x1="1672.5" y1="919.7" x2="1997" y2="919.7" stroke="#ffffff" stroke-width="3.8"/><polygon points="1704.6,919.7 1704.9,918.3 1705.5,918.6 1706.1,918 1706.7,918.2 1707.3,918.4 1707.9,918.8 1708.5,918.6 1709.1,918.2 1709.7,918.7 1710.3,918.6 1710.9,918.7 1711.5,918 1712.1,917.7 1712.7,917.4 1713.3,917.1 1713.9,917.6 1714.2,919.7" fill="#1c1ca8"/><polygon points="1717.8,919.7 1718.1,918.2 1718.7,918.5 1719.3,918.4 1719.9,918.4 1720.5,918.4 1721.1,918.2 1721.7,917.9 1722.3,917 1722.9,918 1723.5,918.1 1724.1,917 1724.7,918.4 1725.3,918.5 1725.9,918.5 1726.5,917.8 1727.1,917.5 1727.7,918.6 1728.3,919 1728.6,919.7" fill="#1c1ca8"/><polygon points="1729.8,919.7 1730.1,919.4 1730.7,919.3 1731.3,919.3 1731.6,919.7" fill="#1c1ca8"/><polygon points="1733.4,919.7 1733.7,919.4 1734,919.7" fill="#1c1ca8"/><polygon points="1737,919.7 1737.3,919.4 1737.6,919.7" fill="#1c1ca8"/><polygon points="1739.4,919.7 1739.7,919.3 1740.3,919.4 1740.9,919.2 1741.5,919.2 1742.1,919.1 1742.7,918.6 1743.3,919.4 1743.9,919.4 1744.5,919.2 1744.8,919.7" fill="#1c1ca8"/><polygon points="1745.4,919.7 1745.7,918.9 1746.3,919.4 1746.9,918.7 1747.5,918.8 1748.1,918.7 1748.7,919.4 1749,919.7" fill="#1c1ca8"/><polygon points="1749.6,919.7 1749.9,918.8 1750.5,919.2 1751.1,918.7 1751.7,919.4 1752.3,919.3 1752.9,919.1 1753.5,919 1754.1,919.3 1754.7,919.4 1755.3,918.9 1755.9,918.7 1756.5,919.4 1757.1,919.4 1757.4,919.7" fill="#1c1ca8"/><polygon points="1758.6,919.7 1758.9,919.4 1759.5,919.2 1760.1,919.2 1760.7,919.4 1761,919.7" fill="#1c1ca8"/><polygon points="1761.6,919.7 1761.9,919.3 1762.5,919.3 1763.1,919.1 1763.7,919.2 1764.3,919.2 1764.9,919.4 1765.2,919.7" fill="#1c1ca8"/><polygon points="1765.8,919.7 1766.1,919.4 1766.7,919.4 1767,919.7" fill="#1c1ca8"/><polygon points="1770.6,919.7 1770.9,919.4 1771.2,919.7" fill="#1c1ca8"/><polygon points="1776.6,919.7 1776.9,919.4 1777.2,919.7" fill="#1c1ca8"/><polygon points="1780.8,919.7 1781.1,919.4 1781.4,919.7" fill="#1c1ca8"/><polygon points="1817.4,919.7 1817.7,918.7 1818.3,918.7 1818.9,918.4 1819.2,919.7" fill="#1c1ca8"/><polygon points="1842,919.7 1842.3,918.5 1842.9,918.4 1843.5,918.4 1843.8,919.7" fill="#1c1ca8"/><polygon points="1885.8,919.7 1886.1,919.4 1886.7,919.4 1887.3,919.4 1887.6,919.7" fill="#1c1ca8"/><polygon points="1897.8,919.7 1898.1,919.4 1898.4,919.7" fill="#1c1ca8"/><polygon points="1899.6,919.7 1899.9,919.4 1900.2,919.7" fill="#1c1ca8"/><polygon points="1901.4,919.7 1901.7,919.4 1902.3,919.4 1902.6,919.7" fill="#1c1ca8"/><polygon points="1905,919.7 1905.3,919.4 1905.6,919.7" fill="#1c1ca8"/><polygon points="1906.8,919.7 1907.1,919.4 1907.7,919.3 1908,919.7" fill="#1c1ca8"/><polygon points="1909.8,919.7 1910.1,919.4 1910.4,919.7" fill="#1c1ca8"/><polygon points="1911.6,919.7 1911.9,919.4 1912.2,919.7" fill="#1c1ca8"/><polygon points="1913.4,919.7 1913.7,919.4 1914.3,919.4 1914.9,918.8 1915.5,919.1 1916.1,918.9 1916.7,918.6 1917.3,919 1917.9,918.9 1918.5,919.1 1919.1,918.9 1919.7,919 1920.3,919 1920.9,918.9 1921.5,918.8 1922.1,918.6 1922.7,919 1923.3,918.9 1923.9,918.8 1924.5,919 1925.1,918.7 1925.7,918.8 1926.3,918.9 1926.9,919.1 1927.5,918.9 1928.1,919.3 1928.7,919.1 1929.3,919 1929.6,919.7" fill="#1c1ca8"/><polygon points="1961.4,919.7 1961.7,918.2 1962.3,918.3 1962.6,919.7" fill="#1c1ca8"/><polygon points="1989,919.7 1989.3,918.4 1989.9,918.6 1990.5,918.4 1990.8,919.7" fill="#1c1ca8"/><line x1="1672.5" y1="919.7" x2="1997" y2="919.7" stroke="#2a2ab8" stroke-width="1.6"/>
<line x1="1672.5" y1="961.3" x2="1997" y2="961.3" stroke="#ffffff" stroke-width="3.8"/><polygon points="1704.6,961.3 1704.9,960.4 1705.5,959.1 1706.1,960 1706.7,959.3 1707.3,960.1 1707.9,960.1 1708.5,959.2 1709.1,958.7 1709.7,958.7 1710.3,959.8 1710.9,960.3 1711.5,959.9 1712.1,960.4 1712.7,960.4 1713.3,960.4 1713.9,959.8 1714.2,961.3" fill="#1c1ca8"/><polygon points="1717.8,961.3 1718.1,959.4 1718.7,958.6 1719.3,958.2 1719.9,958.6 1720.5,956.8 1721.1,958 1721.7,958 1722.3,958.8 1722.9,958.6 1723.5,957.3 1724.1,958 1724.7,958.8 1725.3,959.1 1725.9,957.1 1726.5,958.4 1727.1,959 1727.7,959.8 1728.3,959.5 1728.9,961 1729.2,961.3" fill="#1c1ca8"/><polygon points="1731,961.3 1731.3,961 1731.9,961 1732.5,960.8 1732.8,961.3" fill="#1c1ca8"/><polygon points="1737,961.3 1737.3,960.4 1737.9,960.1 1738.5,960.7 1739.1,960.4 1739.7,960.7 1740.3,959.9 1740.9,960 1741.5,960.5 1742.1,958.5 1742.7,958.9 1743.3,957.8 1743.9,959.9 1744.5,958.4 1745.1,959.1 1745.7,960.2 1746.3,959.7 1746.9,959.4 1747.5,960.5 1748.1,959.2 1748.7,959.9 1749.3,958.3 1749.9,958.3 1750.5,957.8 1751.1,958.7 1751.7,960.1 1752.3,958.5 1752.9,960 1753.5,959.4 1754.1,959.6 1754.7,959 1755.3,959.8 1755.9,960.6 1756.5,960.3 1757.1,960.5 1757.7,959.3 1758.3,960.3 1758.9,960.6 1759.5,960.8 1760.1,960.7 1760.7,959.7 1761.3,960.4 1761.9,959.9 1762.5,960.6 1763.1,960.4 1763.7,960.1 1764.3,959.7 1764.9,960.7 1765.5,960.6 1766.1,960.5 1766.7,960.6 1767.3,960.7 1767.9,960.1 1768.5,960.3 1768.8,961.3" fill="#1c1ca8"/><polygon points="1770,961.3 1770.3,960.6 1770.9,960.4 1771.5,960.6 1771.8,961.3" fill="#1c1ca8"/><polygon points="1772.4,961.3 1772.7,960.9 1773.3,960.7 1773.6,961.3" fill="#1c1ca8"/><polygon points="1774.8,961.3 1775.1,960.8 1775.7,960.9 1776,961.3" fill="#1c1ca8"/><polygon points="1776.6,961.3 1776.9,960.8 1777.2,961.3" fill="#1c1ca8"/><polygon points="1777.8,961.3 1778.1,960.8 1778.7,960.9 1779,961.3" fill="#1c1ca8"/><polygon points="1780.8,961.3 1781.1,960.9 1781.7,960.8 1782,961.3" fill="#1c1ca8"/><polygon points="1817.4,961.3 1817.7,960.2 1818.3,959.9 1818.9,960.1 1819.2,961.3" fill="#1c1ca8"/><polygon points="1842,961.3 1842.3,960 1842.9,960.1 1843.5,960.1 1843.8,961.3" fill="#1c1ca8"/><polygon points="1884.6,961.3 1884.9,960.8 1885.5,960.7 1886.1,960.7 1886.7,960.7 1887.3,960.8 1887.9,960.9 1888.2,961.3" fill="#1c1ca8"/><polygon points="1891.2,961.3 1891.5,961 1892.1,960.8 1892.4,961.3" fill="#1c1ca8"/><polygon points="1893.6,961.3 1893.9,961 1894.2,961.3" fill="#1c1ca8"/><polygon points="1894.8,961.3 1895.1,960.9 1895.4,961.3" fill="#1c1ca8"/><polygon points="1897.2,961.3 1897.5,960.9 1898.1,960.9 1898.7,961 1899.3,960.8 1899.9,960.8 1900.5,960.9 1901.1,960.6 1901.7,960.7 1902.3,960.6 1902.9,961 1903.5,960.7 1904.1,960.9 1904.7,960.8 1905.3,960.5 1905.9,960.2 1906.5,960.6 1907.1,960.9 1907.7,960.4 1908.3,960.8 1908.9,960.6 1909.5,960.3 1910.1,960.5 1910.7,960.9 1911.3,960.9 1911.9,960.6 1912.5,960.8 1913.1,960.6 1913.7,960.5 1914.3,960.1 1914.9,958.8 1915.5,959.3 1916.1,959.2 1916.7,959.2 1917.3,958.3 1917.9,959.3 1918.5,958.8 1919.1,959.2 1919.7,958.8 1920.3,958.1 1920.9,957.9 1921.5,958 1922.1,958 1922.7,958.7 1923.3,959.1 1923.9,958.1 1924.5,959 1925.1,959.4 1925.7,959.3 1926.3,959.2 1926.9,959.5 1927.5,958.7 1928.1,959.9 1928.7,960 1929.3,960.1 1929.6,961.3" fill="#1c1ca8"/><polygon points="1961.4,961.3 1961.7,960.2 1962.3,960.1 1962.6,961.3" fill="#1c1ca8"/><polygon points="1989,961.3 1989.3,960.2 1989.9,960.2 1990.5,960.2 1990.8,961.3" fill="#1c1ca8"/><line x1="1672.5" y1="961.3" x2="1997" y2="961.3" stroke="#2a2ab8" stroke-width="1.6"/>
<path d="M1920.9,976.7 v12.5 M1925.6,976.7 v12.5 M1924.7,988 v5.5 M1921,983 h4.5" stroke="#1a1ab0" stroke-width="2.2" fill="none"/>
<path d="M1997.4,127.8 H1669.3 V1003.6 H1997.4 Z" fill="none" stroke="#000" stroke-width="1.6"/>
<text x="1615.9" y="137" font-size="25.5">119-</text>
<text x="1643.3" y="182.2" font-size="25.5">0-</text>
<text x="1615.9" y="512.2" font-size="25.5">119-</text>
<text x="1643.3" y="555.6" font-size="25.5">0-</text>
<text x="1615.9" y="596" font-size="25.5">119-</text>
<text x="1643.3" y="638.4" font-size="25.5">0-</text>
<rect x="1701.8" y="1015.8" width="77" height="9.6" fill="#4a72c4" stroke="#2a4a90" stroke-width="0.8"/>
<rect x="1883.4" y="1015.8" width="58" height="9.6" fill="#4a72c4" stroke="#2a4a90" stroke-width="0.8"/>
<text x="1892.4" y="1063.6">ASCL2</text>
<text x="6.2" y="535.3" font-size="39" font-weight="bold">f</text>
<path d="M102.4,691.4 V1046.5 H634.8" fill="none" stroke="#000" stroke-width="2"/>
<line x1="95.8" y1="691.6" x2="102.4" y2="691.6" stroke="#000" stroke-width="2"/>
<text x="93.6" y="700" font-size="24" text-anchor="end">3</text>
<line x1="95.8" y1="762.7" x2="102.4" y2="762.7" stroke="#000" stroke-width="2"/>
<text x="93.6" y="771.1" font-size="24" text-anchor="end">2</text>
<line x1="95.8" y1="833.5" x2="102.4" y2="833.5" stroke="#000" stroke-width="2"/>
<text x="93.6" y="841.9" font-size="24" text-anchor="end">1</text>
<line x1="95.8" y1="904.3" x2="102.4" y2="904.3" stroke="#000" stroke-width="2"/>
<text x="93.6" y="912.7" font-size="24" text-anchor="end">0</text>
<line x1="95.8" y1="975.6" x2="102.4" y2="975.6" stroke="#000" stroke-width="2"/>
<text x="93.6" y="984" font-size="24" text-anchor="end">-1</text>
<line x1="95.8" y1="1046.5" x2="102.4" y2="1046.5" stroke="#000" stroke-width="2"/>
<text x="93.6" y="1054.9" font-size="24" text-anchor="end">-2</text>
<line x1="103.5" y1="904.3" x2="634.8" y2="904.3" stroke="#000" stroke-width="1.3" stroke-dasharray="2,2.4"/>
<polyline points="102.4,1008 103.5,998 104.8,992 106.4,985.7 108.8,976 112.8,969.7 117.6,965.7 123.3,959.3 130.5,955.6 140.1,951.3 149.7,946.5 165.7,942.5 178.5,938.4 192.9,936 212.1,931.2 228.1,928 252.2,924 280,920 333,913.7 408,904.2 460,896 500,888.7 540,880.7 555.7,876.7 569.4,872.8 579.2,868.9 588.9,863 598.7,856.2 606.6,848.4 614.4,839.6 621.2,831.7 624.2,822.9 627.1,815 629,806.3" fill="none" stroke="#000" stroke-width="3.6" stroke-linejoin="round" stroke-linecap="round"/>
<circle cx="629.5" cy="802.5" r="1.7"/><circle cx="630" cy="799.4" r="1.7"/><circle cx="630.5" cy="795.5" r="1.7"/><circle cx="631" cy="791.6" r="1.7"/><circle cx="631.5" cy="787.7" r="1.7"/><circle cx="632" cy="783.8" r="1.7"/><circle cx="632.5" cy="780" r="1.7"/><circle cx="633" cy="776" r="1.7"/><circle cx="633.3" cy="773" r="1.7"/><circle cx="633.6" cy="770" r="1.7"/><circle cx="634" cy="764.2" r="1.7"/><circle cx="634.3" cy="759" r="1.7"/><circle cx="635" cy="754.4" r="1.7"/><circle cx="634.6" cy="748.9" r="1.7"/><circle cx="634.6" cy="702.5" r="1.7"/><circle cx="102.9" cy="1033.7" r="1.7"/><circle cx="102.6" cy="1020" r="1.7"/>
<text transform="translate(57.4,1078) rotate(-90)">log<tspan font-size="20" dy="7.5">2</tspan><tspan dy="-7.5"> fold change H3K27ac signal</tspan></text>
<text x="222.3" y="1083">2026 super-enhancers</text>
<text x="115.8" y="719.3" fill="#ee1c24">Higher in CRC</text>
<text x="310.1" y="1027.5" fill="#1c34e6">Higher in normal mucosa</text>
<text x="566.3" y="686">ASCL2 (1)</text>
<text x="463.5" y="758.2">ADRM1 (15)</text>
<text x="657.9" y="777.6">IFITM1 (38)</text>
<text x="436.1" y="798.7">RHBDF2 (58)</text>
<text x="653.7" y="822">CBX4 (68)</text>
<text x="457.2" y="833">MYC (70)</text>
<text x="630.5" y="862.6">PDZK1IP1 (80)</text>
<text x="405.2" y="863.7">ATCAY (91)</text>
<text x="605.5" y="892">S100P (96)</text>
<text x="822.9" y="534.5" font-size="39" font-weight="bold">g</text>
<g transform="translate(1004.6,674.5) scale(17.8533,1.50581)" shape-rendering="crispEdges"><path fill="#dcdeff" d="M0 0h1v1h-1zM4 0h1v1h-1zM11 0h1v1h-1zM2 1h1v1h-1zM8 1h1v1h-1zM13 1h2v1h-2zM2 2h1v1h-1zM8 2h1v1h-1zM13 2h1v1h-1zM0 3h1v1h-1zM3 3h1v1h-1zM6 3h2v1h-2zM13 3h1v1h-1zM2 4h1v1h-1zM11 4h1v1h-1zM0 5h1v1h-1zM2 5h1v1h-1zM7 5h2v1h-2zM10 5h1v1h-1zM14 5h1v1h-1zM3 6h3v1h-3zM13 6h2v1h-2zM2 7h1v1h-1zM9 7h1v1h-1zM13 7h1v1h-1zM18 7h1v1h-1zM1 8h2v1h-2zM7 8h1v1h-1zM9 8h2v1h-2zM12 8h2v1h-2zM20 8h2v1h-2zM2 9h1v1h-1zM5 9h1v1h-1zM8 9h1v1h-1zM23 9h1v1h-1zM1 10h2v1h-2zM5 10h1v1h-1zM10 10h1v1h-1zM14 10h1v1h-1zM7 11h1v1h-1zM11 11h2v1h-2zM14 11h1v1h-1zM22 11h1v1h-1zM2 12h1v1h-1zM4 12h1v1h-1zM8 12h1v1h-1zM14 12h1v1h-1zM21 12h1v1h-1zM27 12h1v1h-1zM0 13h1v1h-1zM5 13h2v1h-2zM9 13h1v1h-1zM0 14h1v1h-1zM4 14h2v1h-2zM9 14h1v1h-1zM12 14h3v1h-3zM2 15h3v1h-3zM6 15h1v1h-1zM21 15h1v1h-1zM3 16h1v1h-1zM8 16h1v1h-1zM11 16h1v1h-1zM19 16h2v1h-2zM0 17h1v1h-1zM2 17h1v1h-1zM4 17h1v1h-1zM7 17h1v1h-1zM10 17h2v1h-2zM19 17h1v1h-1zM2 18h2v1h-2zM8 18h3v1h-3zM12 18h1v1h-1zM22 18h1v1h-1zM29 18h1v1h-1zM7 19h1v1h-1zM9 19h1v1h-1zM14 19h1v1h-1zM1 20h1v1h-1zM9 20h1v1h-1zM13 20h1v1h-1zM2 21h4v1h-4zM7 21h2v1h-2zM11 21h1v1h-1zM14 21h1v1h-1zM24 21h1v1h-1zM3 22h1v1h-1zM5 22h1v1h-1zM9 22h1v1h-1zM11 22h1v1h-1zM12 23h1v1h-1zM14 23h1v1h-1zM23 23h1v1h-1zM9 24h2v1h-2zM16 24h1v1h-1zM8 25h1v1h-1zM11 25h1v1h-1zM13 25h2v1h-2zM20 25h1v1h-1zM23 25h1v1h-1zM1 26h1v1h-1zM3 26h1v1h-1zM5 26h1v1h-1zM8 26h2v1h-2zM12 26h1v1h-1zM17 26h1v1h-1zM22 26h1v1h-1zM1 27h1v1h-1zM8 27h1v1h-1zM11 27h1v1h-1zM1 28h1v1h-1zM6 28h1v1h-1zM8 28h2v1h-2zM11 28h2v1h-2zM25 28h1v1h-1zM4 29h1v1h-1zM10 29h1v1h-1zM12 29h1v1h-1zM14 29h2v1h-2zM21 29h1v1h-1zM0 30h1v1h-1zM8 30h2v1h-2zM11 30h1v1h-1zM0 31h1v1h-1zM6 31h2v1h-2zM9 31h2v1h-2zM12 31h1v1h-1zM14 31h1v1h-1zM22 31h1v1h-1zM8 32h2v1h-2zM11 32h1v1h-1zM23 32h1v1h-1zM5 33h1v1h-1zM10 33h1v1h-1zM21 33h1v1h-1zM0 34h1v1h-1zM4 34h1v1h-1zM25 34h1v1h-1zM1 35h2v1h-2zM7 35h2v1h-2zM13 35h2v1h-2zM22 35h1v1h-1zM0 36h2v1h-2zM4 37h1v1h-1zM12 37h2v1h-2zM21 37h1v1h-1zM2 38h1v1h-1zM8 38h1v1h-1zM12 38h3v1h-3zM22 38h1v1h-1zM5 39h1v1h-1zM10 39h1v1h-1zM22 39h1v1h-1zM4 40h2v1h-2zM9 40h1v1h-1zM13 40h2v1h-2zM20 40h2v1h-2zM24 40h1v1h-1zM0 41h2v1h-2zM4 41h1v1h-1zM13 41h1v1h-1zM1 42h1v1h-1zM9 42h1v1h-1zM20 42h1v1h-1zM2 43h1v1h-1zM6 43h1v1h-1zM22 43h1v1h-1zM4 44h1v1h-1zM8 44h1v1h-1zM12 44h1v1h-1zM14 44h1v1h-1zM29 44h1v1h-1zM4 45h1v1h-1zM11 45h2v1h-2zM2 46h2v1h-2zM12 46h1v1h-1zM19 48h1v1h-1zM21 48h1v1h-1zM25 48h1v1h-1zM18 49h2v1h-2zM23 49h1v1h-1zM25 49h1v1h-1zM16 50h1v1h-1zM23 50h2v1h-2zM29 50h1v1h-1zM15 51h1v1h-1zM19 51h1v1h-1zM23 51h1v1h-1zM27 51h1v1h-1zM18 52h1v1h-1zM10 54h1v1h-1zM16 54h1v1h-1zM23 54h2v1h-2zM29 54h1v1h-1zM18 55h1v1h-1zM27 55h1v1h-1zM4 56h1v1h-1zM9 56h1v1h-1zM12 56h1v1h-1zM29 57h1v1h-1zM10 58h1v1h-1zM22 58h1v1h-1zM24 58h1v1h-1zM28 58h1v1h-1zM20 59h2v1h-2zM24 59h1v1h-1zM12 60h1v1h-1zM15 60h1v1h-1zM17 60h1v1h-1zM29 60h1v1h-1zM20 61h1v1h-1zM22 63h1v1h-1zM3 64h1v1h-1zM21 64h1v1h-1zM27 64h1v1h-1zM17 65h1v1h-1zM21 65h1v1h-1zM23 65h1v1h-1zM27 65h1v1h-1zM20 66h2v1h-2zM23 66h1v1h-1zM17 67h1v1h-1zM18 68h1v1h-1zM22 68h1v1h-1zM29 68h1v1h-1zM16 69h1v1h-1zM20 69h1v1h-1zM23 69h1v1h-1zM27 69h1v1h-1zM8 70h1v1h-1zM25 70h1v1h-1zM10 71h1v1h-1zM18 71h1v1h-1zM24 71h1v1h-1zM13 72h1v1h-1zM18 72h1v1h-1zM25 72h1v1h-1zM20 73h1v1h-1zM10 74h1v1h-1zM18 74h1v1h-1zM24 74h1v1h-1zM2 75h1v1h-1zM10 75h1v1h-1zM15 75h1v1h-1zM17 75h2v1h-2zM25 75h1v1h-1zM29 75h1v1h-1zM23 76h1v1h-1zM23 77h1v1h-1zM16 78h1v1h-1zM23 78h1v1h-1zM15 79h1v1h-1zM22 79h2v1h-2zM26 79h1v1h-1zM18 80h1v1h-1zM25 80h1v1h-1zM20 81h1v1h-1zM26 81h2v1h-2zM18 82h2v1h-2zM28 82h1v1h-1zM10 83h1v1h-1zM18 83h1v1h-1zM25 83h1v1h-1zM16 84h1v1h-1zM18 84h1v1h-1zM22 84h1v1h-1zM18 86h1v1h-1zM20 86h2v1h-2zM23 86h1v1h-1zM27 86h1v1h-1zM15 87h1v1h-1zM20 87h1v1h-1zM26 87h2v1h-2zM18 88h1v1h-1zM20 88h1v1h-1zM27 88h2v1h-2zM2 89h1v1h-1zM18 89h1v1h-1zM28 89h2v1h-2zM28 90h1v1h-1zM24 92h4v1h-4zM29 92h1v1h-1zM2 93h1v1h-1zM16 93h1v1h-1zM21 93h2v1h-2zM24 93h1v1h-1zM29 93h1v1h-1zM10 94h1v1h-1zM13 94h2v1h-2zM18 94h1v1h-1zM22 94h1v1h-1zM26 94h2v1h-2zM29 94h1v1h-1zM13 95h1v1h-1zM20 95h2v1h-2zM26 95h1v1h-1zM28 95h1v1h-1zM10 96h1v1h-1zM12 96h1v1h-1zM15 96h1v1h-1zM18 96h1v1h-1zM20 96h2v1h-2zM28 96h1v1h-1zM15 97h1v1h-1zM15 98h1v1h-1zM19 98h1v1h-1zM27 99h1v1h-1zM9 100h1v1h-1zM17 100h1v1h-1zM21 100h2v1h-2zM24 100h1v1h-1zM26 100h2v1h-2zM18 101h1v1h-1zM24 101h2v1h-2zM15 102h1v1h-1zM18 102h1v1h-1zM18 103h1v1h-1zM22 103h1v1h-1zM26 103h1v1h-1zM11 104h1v1h-1zM18 104h1v1h-1zM23 105h4v1h-4zM17 106h1v1h-1zM2 107h1v1h-1zM20 107h1v1h-1zM27 107h1v1h-1zM26 108h1v1h-1zM12 109h1v1h-1zM25 109h1v1h-1zM19 110h1v1h-1zM23 110h1v1h-1zM25 111h1v1h-1zM28 111h1v1h-1zM18 112h2v1h-2zM23 112h1v1h-1zM10 113h1v1h-1zM15 113h1v1h-1zM29 113h1v1h-1zM12 114h1v1h-1zM15 114h1v1h-1zM5 115h1v1h-1zM13 115h1v1h-1zM18 115h1v1h-1zM24 115h1v1h-1zM2 116h1v1h-1zM13 116h1v1h-1zM15 116h1v1h-1zM19 116h1v1h-1zM28 116h1v1h-1zM23 117h1v1h-1zM25 117h1v1h-1zM29 117h1v1h-1zM12 118h1v1h-1zM15 118h1v1h-1zM19 118h1v1h-1zM27 118h1v1h-1zM15 119h1v1h-1zM20 119h1v1h-1zM26 120h1v1h-1zM28 120h1v1h-1zM15 121h1v1h-1zM23 121h2v1h-2zM24 122h1v1h-1zM27 122h1v1h-1zM26 123h1v1h-1zM21 124h1v1h-1zM22 125h1v1h-1zM19 126h1v1h-1zM22 126h1v1h-1zM21 127h1v1h-1zM24 127h1v1h-1zM27 127h1v1h-1zM21 128h2v1h-2zM15 129h1v1h-1zM20 130h1v1h-1zM22 130h1v1h-1zM18 131h1v1h-1zM25 131h1v1h-1zM18 132h1v1h-1zM25 132h1v1h-1zM29 132h1v1h-1zM12 133h1v1h-1zM20 133h1v1h-1zM22 133h1v1h-1zM29 133h1v1h-1zM15 134h1v1h-1zM20 134h1v1h-1zM22 134h2v1h-2zM25 134h1v1h-1zM27 134h1v1h-1zM11 135h1v1h-1zM15 135h1v1h-1zM29 135h1v1h-1zM2 136h1v1h-1zM24 136h1v1h-1zM20 137h1v1h-1zM23 137h1v1h-1zM27 137h1v1h-1zM11 138h1v1h-1zM16 138h1v1h-1zM22 139h1v1h-1zM17 140h1v1h-1zM20 140h1v1h-1zM29 140h1v1h-1zM28 141h1v1h-1zM18 142h1v1h-1zM22 142h1v1h-1zM26 142h1v1h-1zM19 143h2v1h-2zM22 143h1v1h-1zM25 143h1v1h-1zM22 144h2v1h-2zM2 145h1v1h-1zM15 145h1v1h-1zM19 145h1v1h-1zM24 145h2v1h-2zM29 145h1v1h-1zM17 146h1v1h-1zM20 146h1v1h-1zM18 147h2v1h-2zM29 147h1v1h-1zM16 148h1v1h-1zM22 148h1v1h-1zM2 149h1v1h-1zM12 149h1v1h-1zM15 149h1v1h-1zM18 149h2v1h-2zM21 149h1v1h-1zM29 149h1v1h-1zM16 150h1v1h-1zM15 151h1v1h-1zM21 151h1v1h-1zM23 151h1v1h-1zM20 152h1v1h-1zM17 153h1v1h-1zM22 153h1v1h-1zM26 153h3v1h-3zM20 154h1v1h-1zM24 155h1v1h-1zM29 155h1v1h-1zM17 156h2v1h-2zM21 156h1v1h-1zM28 156h2v1h-2zM19 157h1v1h-1zM21 157h1v1h-1zM24 157h1v1h-1zM19 158h2v1h-2zM24 158h1v1h-1zM24 159h1v1h-1zM15 160h1v1h-1zM21 160h1v1h-1zM25 160h1v1h-1zM29 160h1v1h-1zM14 161h1v1h-1zM23 161h1v1h-1zM28 161h2v1h-2zM20 162h1v1h-1zM29 162h1v1h-1zM20 163h2v1h-2zM27 163h1v1h-1zM17 165h1v1h-1zM22 165h1v1h-1zM24 165h1v1h-1zM27 165h1v1h-1zM29 165h1v1h-1zM17 166h1v1h-1zM22 166h3v1h-3zM27 166h1v1h-1zM7 167h1v1h-1zM10 167h1v1h-1zM15 167h1v1h-1zM22 167h1v1h-1zM29 167h1v1h-1zM3 168h1v1h-1zM18 168h2v1h-2zM24 168h2v1h-2zM29 168h1v1h-1zM10 169h1v1h-1zM18 169h1v1h-1zM22 169h1v1h-1zM24 169h1v1h-1zM26 169h1v1h-1zM21 170h2v1h-2zM24 170h1v1h-1zM27 170h1v1h-1zM14 171h1v1h-1zM18 171h1v1h-1zM27 171h1v1h-1zM29 171h1v1h-1zM16 172h1v1h-1zM18 172h1v1h-1zM22 172h1v1h-1zM29 172h1v1h-1zM15 174h1v1h-1zM20 174h1v1h-1zM25 174h1v1h-1zM27 174h1v1h-1zM15 175h1v1h-1zM17 177h1v1h-1zM21 177h2v1h-2zM25 177h1v1h-1zM29 177h1v1h-1zM11 178h1v1h-1zM16 178h1v1h-1zM25 178h1v1h-1zM10 179h1v1h-1zM23 179h1v1h-1zM2 180h1v1h-1zM5 180h1v1h-1zM27 180h1v1h-1zM15 181h1v1h-1zM23 181h2v1h-2zM17 182h1v1h-1zM19 182h1v1h-1zM22 182h1v1h-1zM12 183h1v1h-1zM17 183h1v1h-1zM29 183h1v1h-1zM10 184h1v1h-1zM29 184h1v1h-1zM15 185h1v1h-1zM17 185h1v1h-1zM21 185h1v1h-1zM10 186h1v1h-1zM16 186h2v1h-2zM2 187h1v1h-1zM13 187h1v1h-1zM15 187h1v1h-1zM18 187h1v1h-1zM21 187h1v1h-1zM24 187h1v1h-1zM1 189h1v1h-1zM18 189h1v1h-1zM23 189h1v1h-1zM17 190h2v1h-2zM17 191h1v1h-1zM18 192h1v1h-1zM20 192h1v1h-1zM29 192h1v1h-1zM18 193h1v1h-1zM20 193h1v1h-1zM27 193h1v1h-1zM20 194h1v1h-1zM23 194h1v1h-1zM28 194h1v1h-1zM2 195h1v1h-1zM18 195h1v1h-1zM24 195h1v1h-1zM19 196h1v1h-1zM21 196h1v1h-1zM23 196h2v1h-2zM26 196h1v1h-1zM28 196h1v1h-1zM18 197h1v1h-1zM20 197h1v1h-1zM25 197h1v1h-1zM27 197h1v1h-1zM17 198h2v1h-2zM29 198h1v1h-1zM18 199h1v1h-1zM20 199h1v1h-1zM1 200h2v1h-2zM4 200h1v1h-1zM15 200h1v1h-1zM10 201h1v1h-1zM15 201h1v1h-1zM26 201h1v1h-1zM2 202h1v1h-1zM23 202h1v1h-1zM28 202h1v1h-1zM20 203h1v1h-1zM28 203h1v1h-1zM17 204h1v1h-1zM20 204h1v1h-1zM22 204h1v1h-1zM24 204h1v1h-1zM18 205h1v1h-1zM18 206h1v1h-1zM23 206h1v1h-1zM27 206h1v1h-1zM2 207h1v1h-1zM10 207h1v1h-1zM28 207h1v1h-1zM3 208h1v1h-1zM19 208h1v1h-1zM24 208h1v1h-1zM26 208h1v1h-1zM29 208h1v1h-1zM1 209h1v1h-1zM10 209h1v1h-1zM18 209h1v1h-1zM20 209h1v1h-1zM23 209h1v1h-1zM29 209h1v1h-1zM10 210h1v1h-1zM13 210h1v1h-1zM25 210h1v1h-1zM10 211h1v1h-1zM19 211h1v1h-1zM21 211h3v1h-3zM27 211h1v1h-1zM12 213h1v1h-1zM14 213h1v1h-1zM21 213h2v1h-2zM14 214h1v1h-1zM24 214h1v1h-1zM17 215h1v1h-1zM20 215h1v1h-1zM26 215h1v1h-1zM15 216h1v1h-1zM18 216h1v1h-1zM24 216h2v1h-2zM23 217h2v1h-2zM26 217h1v1h-1zM19 218h1v1h-1zM29 218h1v1h-1zM2 219h1v1h-1zM10 219h1v1h-1zM20 219h3v1h-3zM29 219h1v1h-1zM17 220h1v1h-1zM21 220h1v1h-1zM27 220h1v1h-1zM10 222h1v1h-1zM20 222h1v1h-1zM25 222h2v1h-2zM18 223h1v1h-1zM20 223h1v1h-1zM29 223h1v1h-1zM12 224h1v1h-1zM19 224h1v1h-1zM27 225h1v1h-1zM20 226h1v1h-1zM22 226h2v1h-2zM25 226h1v1h-1zM17 227h1v1h-1zM20 227h1v1h-1zM29 228h1v1h-1zM2 229h1v1h-1zM10 229h2v1h-2zM15 229h1v1h-1zM17 229h1v1h-1zM11 230h1v1h-1zM15 230h1v1h-1zM1 231h3v1h-3zM23 231h1v1h-1zM2 232h1v1h-1zM26 232h1v1h-1zM14 233h1v1h-1zM18 233h1v1h-1zM23 234h1v1h-1zM26 234h1v1h-1zM7 235h1v1h-1zM12 235h1v1h-1zM15 235h1v1h-1zM22 235h1v1h-1zM10 236h1v1h-1zM29 236h1v1h-1zM18 237h1v1h-1zM23 237h1v1h-1zM21 238h1v1h-1zM23 238h1v1h-1zM25 238h1v1h-1zM2 239h1v1h-1zM20 239h2v1h-2zM17 240h1v1h-1zM24 240h1v1h-1zM23 241h1v1h-1zM27 241h1v1h-1zM11 242h1v1h-1zM23 242h1v1h-1zM25 242h1v1h-1zM29 242h1v1h-1zM28 243h1v1h-1zM2 244h1v1h-1zM24 244h1v1h-1zM15 245h1v1h-1zM18 245h1v1h-1zM23 246h1v1h-1zM27 246h1v1h-1zM17 247h1v1h-1zM27 247h1v1h-1zM29 247h1v1h-1zM17 248h1v1h-1zM2 249h1v1h-1zM10 249h1v1h-1zM16 249h1v1h-1zM18 250h1v1h-1zM23 250h1v1h-1zM27 250h1v1h-1zM2 251h1v1h-1zM18 251h1v1h-1zM21 251h2v1h-2zM24 251h1v1h-1zM27 251h1v1h-1zM18 252h1v1h-1zM28 252h2v1h-2zM2 253h1v1h-1zM20 253h1v1h-1zM23 253h1v1h-1zM17 254h1v1h-1zM29 254h1v1h-1zM29 255h1v1h-1zM18 257h1v1h-1z"/><path fill="#e8e9ff" d="M1 0h1v1h-1zM3 0h1v1h-1zM7 0h2v1h-2zM10 0h1v1h-1zM12 0h2v1h-2zM23 0h1v1h-1zM1 1h1v1h-1zM5 1h1v1h-1zM9 1h1v1h-1zM11 1h1v1h-1zM1 2h1v1h-1zM4 2h1v1h-1zM11 2h1v1h-1zM14 2h1v1h-1zM21 2h1v1h-1zM23 2h1v1h-1zM2 3h1v1h-1zM5 3h1v1h-1zM9 3h4v1h-4zM23 3h1v1h-1zM0 4h1v1h-1zM4 4h3v1h-3zM20 4h1v1h-1zM1 5h1v1h-1zM6 5h1v1h-1zM9 5h1v1h-1zM0 6h1v1h-1zM11 6h1v1h-1zM5 7h1v1h-1zM10 7h2v1h-2zM0 8h1v1h-1zM3 8h1v1h-1zM6 8h1v1h-1zM16 8h1v1h-1zM23 8h1v1h-1zM0 9h1v1h-1zM9 9h2v1h-2zM4 10h1v1h-1zM11 10h1v1h-1zM17 10h1v1h-1zM1 11h1v1h-1zM3 11h1v1h-1zM5 11h1v1h-1zM8 11h1v1h-1zM20 11h2v1h-2zM23 11h1v1h-1zM29 11h1v1h-1zM11 12h1v1h-1zM13 12h1v1h-1zM2 13h3v1h-3zM8 13h1v1h-1zM10 13h2v1h-2zM13 13h1v1h-1zM6 14h1v1h-1zM22 14h1v1h-1zM0 15h1v1h-1zM9 15h1v1h-1zM11 15h1v1h-1zM14 15h1v1h-1zM2 16h1v1h-1zM5 16h1v1h-1zM14 16h1v1h-1zM12 17h2v1h-2zM16 17h2v1h-2zM1 18h1v1h-1zM5 18h2v1h-2zM11 18h1v1h-1zM14 18h2v1h-2zM23 18h1v1h-1zM0 19h1v1h-1zM2 19h1v1h-1zM5 19h1v1h-1zM19 19h2v1h-2zM16 20h1v1h-1zM21 20h1v1h-1zM0 21h1v1h-1zM9 21h2v1h-2zM13 21h1v1h-1zM0 22h1v1h-1zM2 22h1v1h-1zM6 22h1v1h-1zM10 22h1v1h-1zM12 22h1v1h-1zM21 22h1v1h-1zM5 23h1v1h-1zM18 23h1v1h-1zM0 24h1v1h-1zM3 24h1v1h-1zM5 24h3v1h-3zM12 24h3v1h-3zM18 24h1v1h-1zM24 24h1v1h-1zM1 25h2v1h-2zM7 25h1v1h-1zM21 25h2v1h-2zM29 25h1v1h-1zM0 26h1v1h-1zM2 26h1v1h-1zM20 26h2v1h-2zM3 27h2v1h-2zM9 27h1v1h-1zM12 27h1v1h-1zM14 27h1v1h-1zM23 27h1v1h-1zM4 28h1v1h-1zM23 28h1v1h-1zM1 29h1v1h-1zM7 29h1v1h-1zM9 29h1v1h-1zM11 29h1v1h-1zM13 29h1v1h-1zM22 29h2v1h-2zM4 30h1v1h-1zM10 30h1v1h-1zM12 30h3v1h-3zM8 31h1v1h-1zM11 31h1v1h-1zM13 31h1v1h-1zM20 31h1v1h-1zM0 32h1v1h-1zM2 32h1v1h-1zM7 32h1v1h-1zM10 32h1v1h-1zM16 32h1v1h-1zM22 32h1v1h-1zM25 32h1v1h-1zM1 33h2v1h-2zM8 33h1v1h-1zM14 33h1v1h-1zM17 33h1v1h-1zM7 34h1v1h-1zM5 35h1v1h-1zM9 35h1v1h-1zM16 35h1v1h-1zM27 35h1v1h-1zM2 36h1v1h-1zM4 36h2v1h-2zM7 36h2v1h-2zM10 36h3v1h-3zM17 36h1v1h-1zM24 36h1v1h-1zM1 37h2v1h-2zM5 37h1v1h-1zM8 37h1v1h-1zM10 37h2v1h-2zM14 37h1v1h-1zM1 38h1v1h-1zM11 38h1v1h-1zM17 38h1v1h-1zM23 38h1v1h-1zM0 39h2v1h-2zM4 39h1v1h-1zM6 39h2v1h-2zM1 40h1v1h-1zM8 40h1v1h-1zM6 41h1v1h-1zM3 42h1v1h-1zM5 42h2v1h-2zM8 42h1v1h-1zM16 42h1v1h-1zM1 43h1v1h-1zM7 43h2v1h-2zM10 43h2v1h-2zM16 43h1v1h-1zM18 43h1v1h-1zM24 43h1v1h-1zM10 44h1v1h-1zM23 44h2v1h-2zM2 45h1v1h-1zM6 45h1v1h-1zM8 45h1v1h-1zM13 45h2v1h-2zM19 45h1v1h-1zM6 46h3v1h-3zM13 46h1v1h-1zM3 47h1v1h-1zM7 47h1v1h-1zM10 47h1v1h-1zM18 47h2v1h-2zM24 47h1v1h-1zM26 47h1v1h-1zM20 48h1v1h-1zM24 48h1v1h-1zM28 48h1v1h-1zM24 49h1v1h-1zM25 50h2v1h-2zM20 51h1v1h-1zM22 51h1v1h-1zM24 51h1v1h-1zM26 51h1v1h-1zM19 52h2v1h-2zM25 52h1v1h-1zM29 52h1v1h-1zM19 53h1v1h-1zM21 53h1v1h-1zM27 53h1v1h-1zM29 53h1v1h-1zM18 54h1v1h-1zM20 54h1v1h-1zM11 55h1v1h-1zM14 55h1v1h-1zM8 56h1v1h-1zM14 56h1v1h-1zM10 57h1v1h-1zM13 57h1v1h-1zM8 58h1v1h-1zM5 59h1v1h-1zM12 59h1v1h-1zM23 59h1v1h-1zM25 59h2v1h-2zM18 60h2v1h-2zM23 60h2v1h-2zM26 60h2v1h-2zM19 61h1v1h-1zM20 62h1v1h-1zM22 62h2v1h-2zM16 63h1v1h-1zM26 63h1v1h-1zM19 64h1v1h-1zM15 65h1v1h-1zM24 65h1v1h-1zM7 66h1v1h-1zM15 66h1v1h-1zM26 66h1v1h-1zM10 67h1v1h-1zM15 67h1v1h-1zM19 67h1v1h-1zM23 67h1v1h-1zM29 67h1v1h-1zM10 68h1v1h-1zM26 68h2v1h-2zM10 69h1v1h-1zM12 69h1v1h-1zM18 69h1v1h-1zM24 69h2v1h-2zM19 70h1v1h-1zM23 70h1v1h-1zM12 71h2v1h-2zM21 72h1v1h-1zM11 73h1v1h-1zM23 73h1v1h-1zM28 73h1v1h-1zM13 74h1v1h-1zM22 74h1v1h-1zM25 74h2v1h-2zM21 75h1v1h-1zM15 76h1v1h-1zM19 76h1v1h-1zM29 76h1v1h-1zM5 77h1v1h-1zM15 77h1v1h-1zM24 77h1v1h-1zM26 77h1v1h-1zM29 77h1v1h-1zM5 78h1v1h-1zM24 78h2v1h-2zM29 78h1v1h-1zM28 79h2v1h-2zM2 80h1v1h-1zM20 80h1v1h-1zM28 81h1v1h-1zM8 82h1v1h-1zM12 82h2v1h-2zM28 83h2v1h-2zM12 84h1v1h-1zM20 84h1v1h-1zM24 84h2v1h-2zM29 84h1v1h-1zM21 85h1v1h-1zM23 85h1v1h-1zM27 85h1v1h-1zM15 86h1v1h-1zM25 86h1v1h-1zM23 87h1v1h-1zM2 88h1v1h-1zM8 88h1v1h-1zM19 88h1v1h-1zM23 88h1v1h-1zM14 89h1v1h-1zM11 90h2v1h-2zM7 91h1v1h-1zM9 91h1v1h-1zM13 91h1v1h-1zM19 91h1v1h-1zM11 92h1v1h-1zM12 93h1v1h-1zM28 93h1v1h-1zM25 94h1v1h-1zM28 94h1v1h-1zM3 95h1v1h-1zM10 95h1v1h-1zM12 95h1v1h-1zM14 95h1v1h-1zM29 96h1v1h-1zM21 97h1v1h-1zM25 97h1v1h-1zM13 98h1v1h-1zM18 98h1v1h-1zM21 98h2v1h-2zM15 99h1v1h-1zM17 99h1v1h-1zM19 99h1v1h-1zM21 99h2v1h-2zM25 99h2v1h-2zM29 99h1v1h-1zM23 100h1v1h-1zM19 101h1v1h-1zM2 102h1v1h-1zM23 102h1v1h-1zM28 102h1v1h-1zM2 103h1v1h-1zM11 103h1v1h-1zM19 103h1v1h-1zM9 104h1v1h-1zM24 104h1v1h-1zM29 104h1v1h-1zM6 105h1v1h-1zM23 106h1v1h-1zM13 107h1v1h-1zM21 107h1v1h-1zM29 107h1v1h-1zM6 108h1v1h-1zM9 108h1v1h-1zM18 108h1v1h-1zM13 109h1v1h-1zM15 109h1v1h-1zM27 109h1v1h-1zM2 110h1v1h-1zM10 110h1v1h-1zM28 110h1v1h-1zM2 111h1v1h-1zM11 111h2v1h-2zM15 111h1v1h-1zM19 111h2v1h-2zM24 111h1v1h-1zM15 112h1v1h-1zM21 112h1v1h-1zM25 112h1v1h-1zM27 112h1v1h-1zM18 113h1v1h-1zM20 113h1v1h-1zM24 113h1v1h-1zM28 113h1v1h-1zM5 114h2v1h-2zM8 114h1v1h-1zM10 114h1v1h-1zM28 114h1v1h-1zM15 115h1v1h-1zM26 115h1v1h-1zM12 116h1v1h-1zM20 116h1v1h-1zM26 116h1v1h-1zM3 117h1v1h-1zM9 117h1v1h-1zM12 117h1v1h-1zM14 117h1v1h-1zM26 117h1v1h-1zM10 118h1v1h-1zM18 118h1v1h-1zM22 118h1v1h-1zM28 118h1v1h-1zM22 119h1v1h-1zM27 119h1v1h-1zM29 119h1v1h-1zM15 120h1v1h-1zM17 121h3v1h-3zM28 121h1v1h-1zM15 122h1v1h-1zM19 122h1v1h-1zM21 122h1v1h-1zM29 122h1v1h-1zM13 123h1v1h-1zM18 123h1v1h-1zM25 123h1v1h-1zM17 124h2v1h-2zM22 124h2v1h-2zM27 124h3v1h-3zM18 125h1v1h-1zM26 125h1v1h-1zM28 125h1v1h-1zM8 126h1v1h-1zM20 126h1v1h-1zM23 126h1v1h-1zM25 126h1v1h-1zM29 126h1v1h-1zM20 127h1v1h-1zM18 128h1v1h-1zM24 128h1v1h-1zM27 128h1v1h-1zM17 129h1v1h-1zM29 129h1v1h-1zM19 131h2v1h-2zM26 131h1v1h-1zM19 132h1v1h-1zM21 132h1v1h-1zM23 132h1v1h-1zM26 132h1v1h-1zM18 133h1v1h-1zM26 133h1v1h-1zM2 134h1v1h-1zM18 134h1v1h-1zM26 134h1v1h-1zM20 135h2v1h-2zM15 137h1v1h-1zM25 137h1v1h-1zM29 137h1v1h-1zM19 138h1v1h-1zM25 138h1v1h-1zM28 138h2v1h-2zM18 139h2v1h-2zM27 139h1v1h-1zM23 140h1v1h-1zM28 140h1v1h-1zM18 141h2v1h-2zM24 141h1v1h-1zM2 142h1v1h-1zM10 142h1v1h-1zM13 142h1v1h-1zM24 142h2v1h-2zM23 143h2v1h-2zM26 143h1v1h-1zM19 144h1v1h-1zM26 144h1v1h-1zM29 144h1v1h-1zM20 145h1v1h-1zM15 146h1v1h-1zM18 146h1v1h-1zM29 146h1v1h-1zM15 147h1v1h-1zM20 147h1v1h-1zM21 148h1v1h-1zM25 148h1v1h-1zM27 148h1v1h-1zM10 149h1v1h-1zM14 149h1v1h-1zM20 149h1v1h-1zM25 149h1v1h-1zM28 149h1v1h-1zM15 150h1v1h-1zM23 150h1v1h-1zM25 150h1v1h-1zM10 151h2v1h-2zM18 151h1v1h-1zM15 152h1v1h-1zM22 152h1v1h-1zM29 152h1v1h-1zM11 153h1v1h-1zM19 153h1v1h-1zM25 153h1v1h-1zM15 154h1v1h-1zM18 154h1v1h-1zM23 155h1v1h-1zM14 156h1v1h-1zM23 156h1v1h-1zM2 157h1v1h-1zM25 157h1v1h-1zM28 157h1v1h-1zM2 158h1v1h-1zM5 158h1v1h-1zM11 158h1v1h-1zM28 158h1v1h-1zM2 159h1v1h-1zM14 159h1v1h-1zM26 159h1v1h-1zM10 160h1v1h-1zM14 160h1v1h-1zM15 161h1v1h-1zM26 161h1v1h-1zM2 162h1v1h-1zM15 162h1v1h-1zM22 162h1v1h-1zM28 162h1v1h-1zM10 163h1v1h-1zM28 163h1v1h-1zM21 164h2v1h-2zM29 164h1v1h-1zM2 165h1v1h-1zM18 165h2v1h-2zM19 166h1v1h-1zM14 167h1v1h-1zM11 168h1v1h-1zM25 169h1v1h-1zM29 170h1v1h-1zM24 171h1v1h-1zM15 172h1v1h-1zM27 172h1v1h-1zM15 173h1v1h-1zM18 173h1v1h-1zM21 173h1v1h-1zM24 173h1v1h-1zM17 174h3v1h-3zM23 174h1v1h-1zM28 174h1v1h-1zM17 175h1v1h-1zM21 175h2v1h-2zM24 175h1v1h-1zM27 175h1v1h-1zM21 176h1v1h-1zM29 176h1v1h-1zM18 177h1v1h-1zM17 178h1v1h-1zM24 178h1v1h-1zM28 179h1v1h-1zM19 180h2v1h-2zM23 180h1v1h-1zM2 181h1v1h-1zM28 181h1v1h-1zM2 182h1v1h-1zM18 182h1v1h-1zM20 182h1v1h-1zM25 182h1v1h-1zM29 182h1v1h-1zM24 183h1v1h-1zM26 183h1v1h-1zM18 184h1v1h-1zM23 184h3v1h-3zM14 185h1v1h-1zM20 185h1v1h-1zM23 185h1v1h-1zM27 185h3v1h-3zM19 186h1v1h-1zM22 186h1v1h-1zM29 186h1v1h-1zM19 187h1v1h-1zM22 187h2v1h-2zM25 187h1v1h-1zM28 187h1v1h-1zM13 188h1v1h-1zM24 188h1v1h-1zM19 189h1v1h-1zM28 189h1v1h-1zM14 190h1v1h-1zM22 190h2v1h-2zM25 190h1v1h-1zM27 190h1v1h-1zM18 191h1v1h-1zM21 191h1v1h-1zM23 191h1v1h-1zM17 192h1v1h-1zM19 192h1v1h-1zM2 193h1v1h-1zM10 193h1v1h-1zM17 193h1v1h-1zM25 193h1v1h-1zM1 194h1v1h-1zM10 194h1v1h-1zM21 194h1v1h-1zM1 195h1v1h-1zM11 195h1v1h-1zM23 195h1v1h-1zM25 195h2v1h-2zM10 196h1v1h-1zM25 196h1v1h-1zM19 197h1v1h-1zM23 197h1v1h-1zM28 197h1v1h-1zM10 198h1v1h-1zM14 198h1v1h-1zM19 198h1v1h-1zM24 198h2v1h-2zM3 199h1v1h-1zM10 199h1v1h-1zM26 199h1v1h-1zM28 199h2v1h-2zM14 200h1v1h-1zM2 201h1v1h-1zM11 201h1v1h-1zM14 201h1v1h-1zM10 202h1v1h-1zM18 202h3v1h-3zM25 202h1v1h-1zM19 203h1v1h-1zM25 203h1v1h-1zM29 204h1v1h-1zM11 205h1v1h-1zM19 205h1v1h-1zM21 205h1v1h-1zM27 205h1v1h-1zM20 206h1v1h-1zM25 206h1v1h-1zM28 206h1v1h-1zM1 207h1v1h-1zM25 207h1v1h-1zM29 207h1v1h-1zM13 208h1v1h-1zM18 208h1v1h-1zM26 209h1v1h-1zM2 210h1v1h-1zM14 210h2v1h-2zM23 210h1v1h-1zM17 211h2v1h-2zM25 211h1v1h-1zM20 213h1v1h-1zM23 213h1v1h-1zM25 213h1v1h-1zM19 214h1v1h-1zM29 214h1v1h-1zM12 215h1v1h-1zM23 215h1v1h-1zM2 216h1v1h-1zM29 216h1v1h-1zM1 217h1v1h-1zM4 217h1v1h-1zM18 218h1v1h-1zM22 218h1v1h-1zM26 218h2v1h-2zM15 219h1v1h-1zM25 220h1v1h-1zM21 221h1v1h-1zM23 221h1v1h-1zM25 221h1v1h-1zM2 222h1v1h-1zM5 222h1v1h-1zM19 222h1v1h-1zM2 224h1v1h-1zM10 224h2v1h-2zM15 224h1v1h-1zM2 225h1v1h-1zM18 225h1v1h-1zM20 225h1v1h-1zM25 225h1v1h-1zM2 226h1v1h-1zM15 226h1v1h-1zM17 226h2v1h-2zM28 226h1v1h-1zM23 227h1v1h-1zM27 227h1v1h-1zM17 228h1v1h-1zM21 228h1v1h-1zM27 228h1v1h-1zM1 229h1v1h-1zM12 229h1v1h-1zM14 229h1v1h-1zM19 229h1v1h-1zM28 229h1v1h-1zM1 230h1v1h-1zM28 230h1v1h-1zM11 231h1v1h-1zM10 232h1v1h-1zM18 232h1v1h-1zM28 232h1v1h-1zM10 234h1v1h-1zM18 234h1v1h-1zM1 235h2v1h-2zM10 235h1v1h-1zM1 236h1v1h-1zM11 236h2v1h-2zM14 236h1v1h-1zM26 236h1v1h-1zM28 236h1v1h-1zM2 237h1v1h-1zM20 237h1v1h-1zM24 237h2v1h-2zM29 237h1v1h-1zM2 238h1v1h-1zM10 238h1v1h-1zM17 238h1v1h-1zM28 238h1v1h-1zM16 240h1v1h-1zM18 240h2v1h-2zM1 241h1v1h-1zM15 241h1v1h-1zM18 241h1v1h-1zM20 241h1v1h-1zM13 242h1v1h-1zM19 242h1v1h-1zM26 242h1v1h-1zM28 242h1v1h-1zM7 243h1v1h-1zM11 243h1v1h-1zM14 243h1v1h-1zM19 243h1v1h-1zM26 243h1v1h-1zM12 244h1v1h-1zM28 244h1v1h-1zM2 245h1v1h-1zM11 245h1v1h-1zM25 245h1v1h-1zM18 246h1v1h-1zM24 246h1v1h-1zM20 247h2v1h-2zM23 247h2v1h-2zM2 248h1v1h-1zM14 248h1v1h-1zM19 248h2v1h-2zM15 249h1v1h-1zM18 249h1v1h-1zM20 249h1v1h-1zM24 249h1v1h-1zM26 249h1v1h-1zM28 249h1v1h-1zM2 250h1v1h-1zM14 250h1v1h-1zM20 250h1v1h-1zM24 250h3v1h-3zM29 250h1v1h-1zM19 251h1v1h-1zM10 252h1v1h-1zM15 252h1v1h-1zM23 252h2v1h-2zM18 256h2v1h-2zM21 256h1v1h-1zM28 256h1v1h-1z"/><path fill="#d0d3ff" d="M2 0h1v1h-1zM6 0h1v1h-1zM9 0h1v1h-1zM14 0h1v1h-1zM0 1h1v1h-1zM4 1h1v1h-1zM10 1h1v1h-1zM3 2h1v1h-1zM5 2h1v1h-1zM7 2h1v1h-1zM8 3h1v1h-1zM22 3h1v1h-1zM3 4h1v1h-1zM8 4h1v1h-1zM12 4h2v1h-2zM21 4h1v1h-1zM23 4h1v1h-1zM5 5h1v1h-1zM13 5h1v1h-1zM2 6h1v1h-1zM6 6h1v1h-1zM10 6h1v1h-1zM1 7h1v1h-1zM3 7h2v1h-2zM14 7h1v1h-1zM8 8h1v1h-1zM14 8h1v1h-1zM7 9h1v1h-1zM11 9h2v1h-2zM14 9h1v1h-1zM9 10h1v1h-1zM13 10h1v1h-1zM4 11h1v1h-1zM6 11h1v1h-1zM0 12h1v1h-1zM3 12h1v1h-1zM6 12h2v1h-2zM10 12h1v1h-1zM14 13h1v1h-1zM21 13h1v1h-1zM8 14h1v1h-1zM11 14h1v1h-1zM1 15h1v1h-1zM8 15h1v1h-1zM10 15h1v1h-1zM23 15h1v1h-1zM1 16h1v1h-1zM4 16h1v1h-1zM7 16h1v1h-1zM9 16h1v1h-1zM12 16h1v1h-1zM8 17h1v1h-1zM7 18h1v1h-1zM13 18h1v1h-1zM1 19h1v1h-1zM6 19h1v1h-1zM12 19h1v1h-1zM6 20h2v1h-2zM12 20h1v1h-1zM14 20h1v1h-1zM1 22h1v1h-1zM14 22h1v1h-1zM23 22h1v1h-1zM2 23h1v1h-1zM11 23h1v1h-1zM13 23h1v1h-1zM20 23h1v1h-1zM8 24h1v1h-1zM4 25h3v1h-3zM10 25h1v1h-1zM12 25h1v1h-1zM16 25h1v1h-1zM4 26h1v1h-1zM7 26h1v1h-1zM0 27h1v1h-1zM2 27h1v1h-1zM5 27h2v1h-2zM10 27h1v1h-1zM0 28h1v1h-1zM2 28h1v1h-1zM5 28h1v1h-1zM7 28h1v1h-1zM0 29h1v1h-1zM5 29h1v1h-1zM1 30h1v1h-1zM5 30h1v1h-1zM7 30h1v1h-1zM23 30h1v1h-1zM2 31h1v1h-1zM4 31h2v1h-2zM3 32h1v1h-1zM5 32h2v1h-2zM12 32h1v1h-1zM14 32h1v1h-1zM4 33h1v1h-1zM7 33h1v1h-1zM9 33h1v1h-1zM13 33h1v1h-1zM20 33h1v1h-1zM1 34h2v1h-2zM9 34h2v1h-2zM12 34h1v1h-1zM4 35h1v1h-1zM10 35h1v1h-1zM3 36h1v1h-1zM6 36h1v1h-1zM22 36h1v1h-1zM3 37h1v1h-1zM0 38h1v1h-1zM21 38h1v1h-1zM3 39h1v1h-1zM12 39h1v1h-1zM11 40h1v1h-1zM5 41h1v1h-1zM7 41h1v1h-1zM10 41h1v1h-1zM14 41h1v1h-1zM0 42h1v1h-1zM2 42h1v1h-1zM10 42h1v1h-1zM0 43h1v1h-1zM3 43h1v1h-1zM12 43h1v1h-1zM14 43h1v1h-1zM20 43h1v1h-1zM0 44h1v1h-1zM3 44h1v1h-1zM5 44h1v1h-1zM9 44h1v1h-1zM13 44h1v1h-1zM1 45h1v1h-1zM9 45h2v1h-2zM0 46h1v1h-1zM4 46h1v1h-1zM9 46h2v1h-2zM14 46h1v1h-1zM29 47h1v1h-1zM15 48h1v1h-1zM18 48h1v1h-1zM27 48h1v1h-1zM21 49h2v1h-2zM15 50h1v1h-1zM20 50h1v1h-1zM16 51h1v1h-1zM23 52h1v1h-1zM26 52h2v1h-2zM15 54h1v1h-1zM19 54h1v1h-1zM19 55h5v1h-5zM29 55h1v1h-1zM11 56h1v1h-1zM28 56h1v1h-1zM18 57h1v1h-1zM20 57h1v1h-1zM28 57h1v1h-1zM18 58h2v1h-2zM23 58h1v1h-1zM25 58h1v1h-1zM29 58h1v1h-1zM18 59h2v1h-2zM28 59h1v1h-1zM22 60h1v1h-1zM16 61h1v1h-1zM22 61h1v1h-1zM15 62h3v1h-3zM26 62h2v1h-2zM20 63h1v1h-1zM23 63h1v1h-1zM27 63h1v1h-1zM16 64h1v1h-1zM24 64h1v1h-1zM17 69h1v1h-1zM2 70h1v1h-1zM10 70h1v1h-1zM15 70h1v1h-1zM20 70h1v1h-1zM22 70h1v1h-1zM29 70h1v1h-1zM21 71h1v1h-1zM26 71h2v1h-2zM14 72h1v1h-1zM19 72h1v1h-1zM22 72h1v1h-1zM24 72h1v1h-1zM26 72h1v1h-1zM29 72h1v1h-1zM15 73h1v1h-1zM18 73h2v1h-2zM24 73h3v1h-3zM2 74h1v1h-1zM15 74h1v1h-1zM19 74h1v1h-1zM27 74h1v1h-1zM21 76h1v1h-1zM27 76h1v1h-1zM17 77h1v1h-1zM21 77h1v1h-1zM27 77h1v1h-1zM15 78h1v1h-1zM20 78h1v1h-1zM27 78h1v1h-1zM16 79h2v1h-2zM19 79h1v1h-1zM15 80h2v1h-2zM22 80h1v1h-1zM24 80h1v1h-1zM27 80h1v1h-1zM29 80h1v1h-1zM25 81h1v1h-1zM2 82h1v1h-1zM10 82h1v1h-1zM15 83h1v1h-1zM21 83h1v1h-1zM23 83h1v1h-1zM2 84h1v1h-1zM23 84h1v1h-1zM27 84h1v1h-1zM15 85h2v1h-2zM22 85h1v1h-1zM16 86h1v1h-1zM12 87h1v1h-1zM21 87h2v1h-2zM29 87h1v1h-1zM24 88h1v1h-1zM19 89h1v1h-1zM21 89h1v1h-1zM24 89h3v1h-3zM2 90h1v1h-1zM19 90h1v1h-1zM21 90h1v1h-1zM25 90h1v1h-1zM29 90h1v1h-1zM2 91h1v1h-1zM12 91h1v1h-1zM23 91h1v1h-1zM25 91h1v1h-1zM28 91h1v1h-1zM15 92h2v1h-2zM19 92h1v1h-1zM28 92h1v1h-1zM15 94h1v1h-1zM19 95h1v1h-1zM23 95h1v1h-1zM17 96h1v1h-1zM19 96h1v1h-1zM24 96h1v1h-1zM27 96h1v1h-1zM18 97h1v1h-1zM22 97h1v1h-1zM27 97h1v1h-1zM16 98h1v1h-1zM14 100h1v1h-1zM29 100h1v1h-1zM20 101h2v1h-2zM17 102h1v1h-1zM20 102h1v1h-1zM26 102h1v1h-1zM29 102h1v1h-1zM15 103h1v1h-1zM20 103h1v1h-1zM23 103h1v1h-1zM2 104h1v1h-1zM19 104h1v1h-1zM23 104h1v1h-1zM25 104h4v1h-4zM18 105h3v1h-3zM29 105h1v1h-1zM19 106h4v1h-4zM26 106h1v1h-1zM23 107h1v1h-1zM26 107h1v1h-1zM25 108h1v1h-1zM29 108h1v1h-1zM22 109h2v1h-2zM21 110h2v1h-2zM25 110h2v1h-2zM29 111h1v1h-1zM20 112h1v1h-1zM24 112h1v1h-1zM29 112h1v1h-1zM22 113h1v1h-1zM25 113h1v1h-1zM20 114h2v1h-2zM24 114h1v1h-1zM17 115h1v1h-1zM19 115h1v1h-1zM23 115h1v1h-1zM25 115h1v1h-1zM29 115h1v1h-1zM9 116h1v1h-1zM18 116h1v1h-1zM2 117h1v1h-1zM10 117h1v1h-1zM20 118h1v1h-1zM18 119h1v1h-1zM21 119h1v1h-1zM23 119h1v1h-1zM27 120h1v1h-1zM20 121h1v1h-1zM27 121h1v1h-1zM16 122h1v1h-1zM25 122h1v1h-1zM17 123h1v1h-1zM22 123h2v1h-2zM19 125h1v1h-1zM21 125h1v1h-1zM23 125h2v1h-2zM27 125h1v1h-1zM15 126h1v1h-1zM16 127h1v1h-1zM16 129h1v1h-1zM18 129h1v1h-1zM20 129h1v1h-1zM22 129h2v1h-2zM23 130h1v1h-1zM15 131h1v1h-1zM17 131h1v1h-1zM21 131h1v1h-1zM16 132h1v1h-1zM20 132h1v1h-1zM27 132h1v1h-1zM15 133h2v1h-2zM23 133h1v1h-1zM18 135h1v1h-1zM24 135h1v1h-1zM27 135h1v1h-1zM15 136h1v1h-1zM21 136h2v1h-2zM22 137h1v1h-1zM17 138h2v1h-2zM20 138h1v1h-1zM22 138h2v1h-2zM27 138h1v1h-1zM17 139h1v1h-1zM23 139h1v1h-1zM21 140h1v1h-1zM12 141h1v1h-1zM23 141h1v1h-1zM15 142h1v1h-1zM21 142h1v1h-1zM29 142h1v1h-1zM18 143h1v1h-1zM27 143h1v1h-1zM18 144h1v1h-1zM25 144h1v1h-1zM27 146h1v1h-1zM27 147h1v1h-1zM17 148h1v1h-1zM23 149h1v1h-1zM17 150h1v1h-1zM25 151h1v1h-1zM27 151h1v1h-1zM23 152h1v1h-1zM15 153h1v1h-1zM18 153h1v1h-1zM21 153h1v1h-1zM29 153h1v1h-1zM17 154h1v1h-1zM22 154h2v1h-2zM17 155h1v1h-1zM27 155h1v1h-1zM25 156h2v1h-2zM17 157h1v1h-1zM20 157h1v1h-1zM26 157h1v1h-1zM15 158h1v1h-1zM17 158h1v1h-1zM21 158h2v1h-2zM25 158h1v1h-1zM11 159h1v1h-1zM18 159h2v1h-2zM25 159h1v1h-1zM27 159h1v1h-1zM2 160h1v1h-1zM17 160h1v1h-1zM23 160h1v1h-1zM23 162h1v1h-1zM27 162h1v1h-1zM18 163h1v1h-1zM23 163h1v1h-1zM29 163h1v1h-1zM23 164h1v1h-1zM27 164h1v1h-1zM20 165h1v1h-1zM23 165h1v1h-1zM20 166h1v1h-1zM23 167h2v1h-2zM26 167h1v1h-1zM17 168h1v1h-1zM27 168h1v1h-1zM23 169h1v1h-1zM29 169h1v1h-1zM11 170h1v1h-1zM19 170h1v1h-1zM23 170h1v1h-1zM28 170h1v1h-1zM17 173h1v1h-1zM22 173h1v1h-1zM29 173h1v1h-1zM29 174h1v1h-1zM23 175h1v1h-1zM25 175h1v1h-1zM16 176h2v1h-2zM22 176h1v1h-1zM16 177h1v1h-1zM27 178h2v1h-2zM15 179h3v1h-3zM21 179h2v1h-2zM15 180h1v1h-1zM17 180h1v1h-1zM20 181h1v1h-1zM22 181h1v1h-1zM25 181h1v1h-1zM23 182h1v1h-1zM18 183h1v1h-1zM23 183h1v1h-1zM16 184h1v1h-1zM20 184h1v1h-1zM24 185h2v1h-2zM23 186h1v1h-1zM17 187h1v1h-1zM29 187h1v1h-1zM11 188h1v1h-1zM19 188h1v1h-1zM23 188h1v1h-1zM16 192h1v1h-1zM22 192h1v1h-1zM21 193h1v1h-1zM19 195h1v1h-1zM21 195h1v1h-1zM13 196h1v1h-1zM29 196h1v1h-1zM24 197h1v1h-1zM29 197h1v1h-1zM21 198h2v1h-2zM19 199h1v1h-1zM18 200h1v1h-1zM20 200h1v1h-1zM26 200h1v1h-1zM16 201h1v1h-1zM18 201h1v1h-1zM22 201h1v1h-1zM24 201h2v1h-2zM29 201h1v1h-1zM21 202h1v1h-1zM27 203h1v1h-1zM21 204h1v1h-1zM20 205h1v1h-1zM23 205h2v1h-2zM19 206h1v1h-1zM21 206h1v1h-1zM19 207h1v1h-1zM21 207h4v1h-4zM25 208h1v1h-1zM28 208h1v1h-1zM22 209h1v1h-1zM17 210h1v1h-1zM24 210h1v1h-1zM27 210h1v1h-1zM25 212h1v1h-1zM18 213h1v1h-1zM24 213h1v1h-1zM26 213h1v1h-1zM29 213h1v1h-1zM2 214h1v1h-1zM17 214h2v1h-2zM19 215h1v1h-1zM25 215h1v1h-1zM29 215h1v1h-1zM17 216h1v1h-1zM22 216h2v1h-2zM27 216h1v1h-1zM22 217h1v1h-1zM25 217h1v1h-1zM29 217h1v1h-1zM25 218h1v1h-1zM16 219h1v1h-1zM23 219h2v1h-2zM27 219h1v1h-1zM18 221h1v1h-1zM22 222h1v1h-1zM10 223h1v1h-1zM16 223h1v1h-1zM21 223h1v1h-1zM23 223h2v1h-2zM28 223h1v1h-1zM28 224h1v1h-1zM27 226h1v1h-1zM25 228h1v1h-1zM23 229h1v1h-1zM26 229h2v1h-2zM29 229h1v1h-1zM10 230h1v1h-1zM5 231h1v1h-1zM14 231h1v1h-1zM19 231h1v1h-1zM28 231h1v1h-1zM19 232h1v1h-1zM23 232h2v1h-2zM10 233h1v1h-1zM19 233h1v1h-1zM21 233h3v1h-3zM25 233h1v1h-1zM28 233h1v1h-1zM1 234h2v1h-2zM20 234h1v1h-1zM24 234h1v1h-1zM28 234h1v1h-1zM26 235h1v1h-1zM28 235h1v1h-1zM18 236h1v1h-1zM20 236h3v1h-3zM25 236h1v1h-1zM27 236h1v1h-1zM21 237h1v1h-1zM22 238h1v1h-1zM29 238h1v1h-1zM21 240h1v1h-1zM23 240h1v1h-1zM25 240h1v1h-1zM29 240h1v1h-1zM17 241h1v1h-1zM20 242h1v1h-1zM6 243h1v1h-1zM10 243h1v1h-1zM14 244h2v1h-2zM19 244h1v1h-1zM25 244h1v1h-1zM19 245h1v1h-1zM29 245h1v1h-1zM22 246h1v1h-1zM22 247h1v1h-1zM21 248h3v1h-3zM19 249h1v1h-1zM21 249h1v1h-1zM25 249h1v1h-1zM21 250h1v1h-1zM28 250h1v1h-1zM25 251h1v1h-1zM17 252h1v1h-1zM19 252h1v1h-1zM21 252h1v1h-1zM21 253h2v1h-2zM25 253h1v1h-1zM27 254h1v1h-1zM17 255h1v1h-1zM21 255h1v1h-1zM24 256h1v1h-1zM16 257h1v1h-1zM19 257h1v1h-1zM25 257h1v1h-1z"/><path fill="#c4c8ff" d="M5 0h1v1h-1zM12 1h1v1h-1zM21 1h1v1h-1zM22 2h1v1h-1zM12 5h1v1h-1zM7 6h1v1h-1zM7 7h1v1h-1zM12 7h1v1h-1zM5 8h1v1h-1zM1 9h1v1h-1zM2 11h1v1h-1zM10 11h1v1h-1zM20 12h1v1h-1zM3 14h1v1h-1zM7 14h1v1h-1zM0 16h1v1h-1zM13 16h1v1h-1zM18 17h1v1h-1zM18 18h1v1h-1zM24 18h1v1h-1zM10 19h2v1h-2zM22 19h1v1h-1zM2 20h1v1h-1zM11 20h1v1h-1zM1 21h1v1h-1zM22 21h1v1h-1zM4 23h1v1h-1zM21 23h1v1h-1zM9 25h1v1h-1zM6 26h1v1h-1zM10 26h1v1h-1zM23 26h1v1h-1zM7 27h1v1h-1zM13 27h1v1h-1zM10 28h1v1h-1zM6 30h1v1h-1zM3 31h1v1h-1zM1 32h1v1h-1zM11 33h1v1h-1zM11 35h2v1h-2zM20 35h1v1h-1zM9 36h1v1h-1zM13 36h1v1h-1zM20 36h1v1h-1zM3 38h1v1h-1zM5 38h2v1h-2zM9 38h1v1h-1zM2 39h1v1h-1zM9 39h1v1h-1zM11 39h1v1h-1zM2 40h1v1h-1zM12 41h1v1h-1zM4 42h1v1h-1zM7 42h1v1h-1zM11 42h4v1h-4zM0 45h1v1h-1zM7 45h1v1h-1zM23 46h1v1h-1zM15 47h1v1h-1zM20 47h1v1h-1zM25 47h1v1h-1zM22 48h2v1h-2zM29 48h1v1h-1zM27 49h1v1h-1zM29 49h1v1h-1zM22 50h1v1h-1zM22 52h1v1h-1zM16 53h2v1h-2zM21 54h1v1h-1zM18 56h2v1h-2zM21 56h1v1h-1zM12 57h1v1h-1zM15 58h1v1h-1zM21 58h1v1h-1zM26 58h1v1h-1zM29 59h1v1h-1zM21 60h1v1h-1zM25 60h1v1h-1zM27 61h1v1h-1zM15 63h1v1h-1zM21 63h1v1h-1zM17 64h1v1h-1zM22 64h1v1h-1zM16 65h1v1h-1zM22 65h1v1h-1zM16 67h1v1h-1zM22 67h1v1h-1zM27 67h1v1h-1zM15 68h1v1h-1zM20 68h2v1h-2zM24 68h1v1h-1zM15 69h1v1h-1zM21 69h1v1h-1zM29 69h1v1h-1zM24 70h1v1h-1zM11 71h1v1h-1zM22 71h2v1h-2zM25 71h1v1h-1zM22 73h1v1h-1zM20 74h1v1h-1zM16 75h1v1h-1zM20 76h1v1h-1zM22 76h1v1h-1zM20 77h1v1h-1zM21 78h1v1h-1zM17 80h1v1h-1zM20 82h1v1h-1zM22 82h1v1h-1zM22 83h1v1h-1zM26 83h1v1h-1zM15 84h1v1h-1zM21 88h1v1h-1zM26 88h1v1h-1zM29 88h1v1h-1zM20 89h1v1h-1zM22 89h2v1h-2zM27 89h1v1h-1zM18 90h1v1h-1zM22 90h1v1h-1zM18 91h1v1h-1zM20 91h2v1h-2zM20 92h1v1h-1zM22 92h1v1h-1zM20 93h1v1h-1zM27 93h1v1h-1zM2 94h1v1h-1zM24 94h1v1h-1zM15 95h1v1h-1zM18 95h1v1h-1zM24 95h2v1h-2zM16 97h2v1h-2zM29 97h1v1h-1zM17 98h1v1h-1zM27 98h1v1h-1zM16 101h1v1h-1zM19 102h1v1h-1zM24 102h1v1h-1zM21 103h1v1h-1zM24 103h1v1h-1zM27 103h1v1h-1zM29 103h1v1h-1zM20 104h1v1h-1zM15 105h1v1h-1zM22 105h1v1h-1zM15 106h2v1h-2zM27 106h1v1h-1zM22 107h1v1h-1zM24 107h2v1h-2zM16 108h1v1h-1zM19 108h1v1h-1zM22 108h1v1h-1zM24 108h1v1h-1zM21 109h1v1h-1zM26 109h1v1h-1zM29 109h1v1h-1zM16 110h1v1h-1zM20 110h1v1h-1zM29 110h1v1h-1zM21 113h1v1h-1zM27 113h1v1h-1zM18 114h1v1h-1zM28 115h1v1h-1zM25 116h1v1h-1zM23 118h2v1h-2zM26 118h1v1h-1zM29 118h1v1h-1zM17 120h1v1h-1zM21 120h2v1h-2zM16 121h1v1h-1zM17 122h1v1h-1zM20 123h1v1h-1zM27 123h1v1h-1zM16 124h1v1h-1zM25 125h1v1h-1zM18 126h1v1h-1zM21 126h1v1h-1zM17 127h1v1h-1zM22 127h1v1h-1zM16 128h1v1h-1zM17 130h1v1h-1zM21 130h1v1h-1zM24 131h1v1h-1zM22 132h1v1h-1zM27 133h1v1h-1zM29 134h1v1h-1zM17 135h1v1h-1zM18 137h1v1h-1zM21 138h1v1h-1zM15 140h1v1h-1zM22 140h1v1h-1zM20 142h1v1h-1zM27 142h1v1h-1zM15 143h1v1h-1zM17 143h1v1h-1zM17 144h1v1h-1zM21 145h2v1h-2zM27 145h1v1h-1zM21 146h1v1h-1zM22 147h1v1h-1zM27 149h1v1h-1zM17 151h1v1h-1zM20 151h1v1h-1zM29 151h1v1h-1zM21 152h1v1h-1zM27 152h1v1h-1zM20 153h1v1h-1zM22 155h1v1h-1zM22 156h1v1h-1zM16 157h1v1h-1zM22 157h1v1h-1zM18 158h1v1h-1zM20 159h2v1h-2zM28 159h1v1h-1zM18 160h1v1h-1zM28 160h1v1h-1zM19 161h1v1h-1zM27 161h1v1h-1zM18 162h1v1h-1zM25 163h1v1h-1zM16 164h1v1h-1zM18 166h1v1h-1zM21 166h1v1h-1zM25 166h1v1h-1zM17 167h1v1h-1zM21 167h1v1h-1zM28 167h1v1h-1zM20 168h3v1h-3zM15 169h1v1h-1zM17 169h1v1h-1zM21 169h1v1h-1zM16 170h1v1h-1zM20 171h1v1h-1zM16 173h1v1h-1zM16 174h1v1h-1zM18 175h1v1h-1zM20 176h1v1h-1zM27 177h1v1h-1zM21 178h1v1h-1zM20 179h1v1h-1zM21 181h1v1h-1zM16 183h1v1h-1zM21 183h1v1h-1zM27 183h1v1h-1zM21 184h1v1h-1zM27 184h1v1h-1zM20 186h1v1h-1zM27 186h1v1h-1zM16 187h1v1h-1zM27 187h1v1h-1zM17 188h1v1h-1zM20 188h1v1h-1zM25 188h1v1h-1zM16 189h1v1h-1zM22 189h1v1h-1zM27 189h1v1h-1zM20 190h1v1h-1zM16 193h1v1h-1zM15 194h1v1h-1zM17 194h1v1h-1zM27 194h1v1h-1zM17 195h1v1h-1zM2 196h1v1h-1zM18 196h1v1h-1zM16 197h2v1h-2zM21 197h2v1h-2zM16 198h1v1h-1zM27 198h1v1h-1zM17 199h1v1h-1zM23 199h1v1h-1zM25 199h1v1h-1zM10 200h1v1h-1zM13 200h1v1h-1zM19 200h1v1h-1zM25 200h1v1h-1zM20 201h1v1h-1zM22 202h1v1h-1zM24 202h1v1h-1zM29 202h1v1h-1zM17 203h1v1h-1zM23 204h1v1h-1zM28 204h1v1h-1zM17 205h1v1h-1zM22 205h1v1h-1zM29 205h1v1h-1zM2 208h1v1h-1zM22 208h1v1h-1zM21 209h1v1h-1zM27 209h1v1h-1zM20 210h2v1h-2zM29 210h1v1h-1zM16 211h1v1h-1zM17 212h1v1h-1zM20 212h2v1h-2zM27 212h1v1h-1zM17 213h1v1h-1zM27 213h1v1h-1zM20 214h1v1h-1zM22 214h1v1h-1zM27 214h1v1h-1zM18 215h1v1h-1zM27 215h1v1h-1zM19 216h1v1h-1zM20 217h1v1h-1zM16 218h2v1h-2zM20 221h1v1h-1zM22 221h1v1h-1zM17 222h1v1h-1zM21 222h1v1h-1zM23 222h2v1h-2zM27 222h1v1h-1zM29 222h1v1h-1zM2 223h1v1h-1zM22 223h1v1h-1zM27 223h1v1h-1zM17 224h1v1h-1zM20 224h3v1h-3zM25 224h1v1h-1zM16 225h1v1h-1zM21 226h1v1h-1zM16 227h1v1h-1zM18 229h1v1h-1zM20 229h1v1h-1zM24 229h1v1h-1zM2 230h1v1h-1zM14 230h1v1h-1zM19 230h1v1h-1zM18 231h1v1h-1zM29 231h1v1h-1zM22 232h1v1h-1zM29 232h1v1h-1zM1 233h1v1h-1zM29 233h1v1h-1zM19 234h1v1h-1zM18 235h1v1h-1zM23 235h1v1h-1zM27 235h1v1h-1zM23 236h1v1h-1zM19 238h2v1h-2zM22 239h3v1h-3zM27 239h1v1h-1zM21 241h2v1h-2zM21 242h2v1h-2zM2 243h1v1h-1zM18 243h1v1h-1zM20 243h1v1h-1zM25 243h1v1h-1zM29 243h1v1h-1zM23 244h1v1h-1zM27 244h1v1h-1zM20 245h1v1h-1zM23 245h2v1h-2zM27 245h1v1h-1zM29 246h1v1h-1zM18 248h1v1h-1zM27 248h1v1h-1zM22 249h2v1h-2zM29 249h1v1h-1zM10 251h1v1h-1zM16 251h2v1h-2zM20 251h1v1h-1zM23 251h1v1h-1zM29 251h1v1h-1zM20 252h1v1h-1zM25 252h1v1h-1zM27 252h1v1h-1zM27 253h1v1h-1zM16 255h1v1h-1zM16 256h2v1h-2zM22 256h1v1h-1zM22 257h1v1h-1zM24 257h1v1h-1z"/><path fill="#f2bfbf" d="M15 0h1v1h-1zM25 0h1v1h-1zM15 1h1v1h-1zM28 1h1v1h-1zM17 2h1v1h-1zM25 3h1v1h-1zM28 3h1v1h-1zM17 4h1v1h-1zM27 4h1v1h-1zM24 5h1v1h-1zM17 6h1v1h-1zM29 6h1v1h-1zM22 7h1v1h-1zM29 7h1v1h-1zM26 10h1v1h-1zM27 13h1v1h-1zM29 13h1v1h-1zM28 25h1v1h-1zM15 27h1v1h-1zM27 27h1v1h-1zM28 28h1v1h-1zM19 29h1v1h-1zM26 29h1v1h-1zM29 30h1v1h-1zM26 31h1v1h-1zM20 32h1v1h-1zM28 33h1v1h-1zM19 46h1v1h-1zM29 46h1v1h-1zM14 53h1v1h-1zM0 55h1v1h-1zM0 58h1v1h-1zM2 62h1v1h-1zM3 63h1v1h-1zM8 63h1v1h-1zM29 63h1v1h-1zM1 70h1v1h-1zM1 71h1v1h-1zM4 75h1v1h-1zM6 76h1v1h-1zM1 91h1v1h-1zM8 92h1v1h-1zM4 97h1v1h-1zM6 98h1v1h-1zM4 99h1v1h-1zM1 102h1v1h-1zM1 105h1v1h-1zM1 111h1v1h-1zM4 111h1v1h-1zM1 115h1v1h-1zM8 120h1v1h-1zM14 120h1v1h-1zM7 122h1v1h-1zM9 123h1v1h-1zM3 124h1v1h-1zM7 125h1v1h-1zM6 126h1v1h-1zM14 127h1v1h-1zM1 128h1v1h-1zM3 128h1v1h-1zM7 128h1v1h-1zM11 128h1v1h-1zM13 128h1v1h-1zM5 129h1v1h-1zM1 132h1v1h-1zM7 136h1v1h-1zM1 137h1v1h-1zM1 138h1v1h-1zM1 139h1v1h-1zM6 139h2v1h-2zM9 139h1v1h-1zM8 140h1v1h-1zM7 141h2v1h-2zM1 142h1v1h-1zM1 145h1v1h-1zM1 146h1v1h-1zM8 146h2v1h-2zM7 147h1v1h-1zM1 148h1v1h-1zM5 148h1v1h-1zM8 148h2v1h-2zM8 150h1v1h-1zM1 152h1v1h-1zM9 152h1v1h-1zM9 153h1v1h-1zM6 154h2v1h-2zM4 155h1v1h-1zM7 155h1v1h-1zM8 156h2v1h-2zM1 164h1v1h-1zM1 165h1v1h-1zM9 170h1v1h-1zM5 171h1v1h-1zM8 171h1v1h-1zM8 172h2v1h-2zM8 174h1v1h-1zM12 177h1v1h-1zM4 178h1v1h-1zM9 178h1v1h-1zM7 179h1v1h-1zM8 184h1v1h-1zM1 185h1v1h-1zM3 186h1v1h-1zM14 186h1v1h-1zM8 191h2v1h-2zM14 191h1v1h-1zM8 192h1v1h-1zM9 195h1v1h-1zM6 197h1v1h-1zM8 198h1v1h-1zM9 203h1v1h-1zM6 205h1v1h-1zM4 211h1v1h-1zM7 216h1v1h-1zM4 220h2v1h-2zM8 226h2v1h-2zM6 227h1v1h-1zM25 227h1v1h-1zM8 228h1v1h-1zM8 245h1v1h-1zM5 248h1v1h-1zM7 250h1v1h-1zM9 252h1v1h-1zM8 254h1v1h-1zM1 255h1v1h-1zM8 255h1v1h-1zM13 255h1v1h-1zM1 257h1v1h-1z"/><path fill="#f4caca" d="M16 0h1v1h-1zM18 0h1v1h-1zM29 0h1v1h-1zM20 1h1v1h-1zM25 1h1v1h-1zM29 2h1v1h-1zM29 3h1v1h-1zM19 7h1v1h-1zM29 8h1v1h-1zM28 9h2v1h-2zM28 11h1v1h-1zM17 12h1v1h-1zM17 13h1v1h-1zM25 13h1v1h-1zM19 14h1v1h-1zM25 14h1v1h-1zM29 14h1v1h-1zM17 15h2v1h-2zM24 15h1v1h-1zM22 16h1v1h-1zM24 19h1v1h-1zM28 20h1v1h-1zM20 21h1v1h-1zM26 21h1v1h-1zM28 22h1v1h-1zM25 23h1v1h-1zM17 25h1v1h-1zM19 26h1v1h-1zM27 26h1v1h-1zM25 27h1v1h-1zM27 29h2v1h-2zM28 30h1v1h-1zM29 31h1v1h-1zM22 34h1v1h-1zM18 35h1v1h-1zM26 36h1v1h-1zM17 37h1v1h-1zM24 37h1v1h-1zM28 37h1v1h-1zM15 39h1v1h-1zM27 39h1v1h-1zM27 40h1v1h-1zM23 41h2v1h-2zM27 41h1v1h-1zM28 42h1v1h-1zM15 45h1v1h-1zM21 46h1v1h-1zM27 46h1v1h-1zM5 50h1v1h-1zM2 51h1v1h-1zM5 53h1v1h-1zM8 53h1v1h-1zM2 59h1v1h-1zM7 61h1v1h-1zM9 61h1v1h-1zM14 61h1v1h-1zM4 62h1v1h-1zM6 62h1v1h-1zM14 62h1v1h-1zM14 63h1v1h-1zM4 64h1v1h-1zM14 64h1v1h-1zM11 68h1v1h-1zM5 69h1v1h-1zM7 69h1v1h-1zM3 76h1v1h-1zM13 76h1v1h-1zM9 79h1v1h-1zM3 81h1v1h-1zM3 85h1v1h-1zM6 85h2v1h-2zM8 86h1v1h-1zM3 88h1v1h-1zM6 88h2v1h-2zM3 93h1v1h-1zM5 93h1v1h-1zM5 97h1v1h-1zM7 98h1v1h-1zM14 98h1v1h-1zM6 99h1v1h-1zM6 100h1v1h-1zM8 101h1v1h-1zM7 105h1v1h-1zM1 109h1v1h-1zM1 119h1v1h-1zM7 120h1v1h-1zM7 123h1v1h-1zM6 124h3v1h-3zM3 125h1v1h-1zM4 126h1v1h-1zM6 127h1v1h-1zM9 127h1v1h-1zM28 128h1v1h-1zM7 129h1v1h-1zM12 129h1v1h-1zM6 130h1v1h-1zM9 132h1v1h-1zM3 133h1v1h-1zM6 134h2v1h-2zM1 135h1v1h-1zM8 136h1v1h-1zM5 137h1v1h-1zM8 139h1v1h-1zM10 139h1v1h-1zM6 141h1v1h-1zM9 143h1v1h-1zM8 145h1v1h-1zM4 146h2v1h-2zM12 146h1v1h-1zM3 147h1v1h-1zM5 147h1v1h-1zM8 147h2v1h-2zM6 148h1v1h-1zM13 149h1v1h-1zM4 150h1v1h-1zM9 150h1v1h-1zM5 151h1v1h-1zM6 152h1v1h-1zM1 154h1v1h-1zM5 154h1v1h-1zM9 154h1v1h-1zM1 162h1v1h-1zM1 163h1v1h-1zM9 164h1v1h-1zM8 165h2v1h-2zM13 165h1v1h-1zM3 166h1v1h-1zM9 168h1v1h-1zM3 169h1v1h-1zM1 171h1v1h-1zM1 172h1v1h-1zM7 172h1v1h-1zM11 172h2v1h-2zM5 173h1v1h-1zM11 173h1v1h-1zM3 174h1v1h-1zM1 176h1v1h-1zM20 178h1v1h-1zM7 181h1v1h-1zM7 182h2v1h-2zM6 183h1v1h-1zM6 184h1v1h-1zM8 185h1v1h-1zM7 186h2v1h-2zM6 189h1v1h-1zM2 190h1v1h-1zM13 190h1v1h-1zM4 191h1v1h-1zM6 191h1v1h-1zM11 191h1v1h-1zM24 191h1v1h-1zM4 192h2v1h-2zM7 193h3v1h-3zM7 194h1v1h-1zM9 194h1v1h-1zM12 194h1v1h-1zM8 195h1v1h-1zM5 198h1v1h-1zM8 199h1v1h-1zM8 202h1v1h-1zM4 205h1v1h-1zM4 206h1v1h-1zM6 206h1v1h-1zM7 209h1v1h-1zM6 212h1v1h-1zM8 215h1v1h-1zM4 218h1v1h-1zM6 218h1v1h-1zM8 218h1v1h-1zM7 220h3v1h-3zM4 221h1v1h-1zM9 221h1v1h-1zM9 225h1v1h-1zM9 227h1v1h-1zM15 227h1v1h-1zM28 227h1v1h-1zM4 228h1v1h-1zM22 228h1v1h-1zM8 229h1v1h-1zM9 239h1v1h-1zM6 240h1v1h-1zM8 240h1v1h-1zM5 241h1v1h-1zM6 249h3v1h-3zM1 252h1v1h-1zM8 252h1v1h-1zM4 253h1v1h-1zM7 255h1v1h-1zM9 255h1v1h-1zM12 255h1v1h-1zM1 256h1v1h-1zM4 256h1v1h-1zM9 256h1v1h-1z"/><path fill="#e68a8a" d="M17 0h1v1h-1zM26 1h1v1h-1zM26 4h1v1h-1zM27 16h1v1h-1zM15 37h1v1h-1zM17 40h1v1h-1zM1 47h1v1h-1zM1 51h1v1h-1zM0 64h1v1h-1zM1 65h1v1h-1zM0 71h1v1h-1zM0 72h1v1h-1zM0 90h1v1h-1zM1 93h1v1h-1zM1 120h1v1h-1zM13 172h1v1h-1zM0 220h1v1h-1zM0 232h1v1h-1zM0 241h1v1h-1z"/><path fill="#efb4b4" d="M19 0h1v1h-1zM28 2h1v1h-1zM20 3h1v1h-1zM28 4h1v1h-1zM22 5h1v1h-1zM16 7h1v1h-1zM16 9h1v1h-1zM22 9h1v1h-1zM28 15h1v1h-1zM27 19h1v1h-1zM17 23h1v1h-1zM28 23h1v1h-1zM26 30h1v1h-1zM29 34h1v1h-1zM18 39h1v1h-1zM26 39h1v1h-1zM28 39h2v1h-2zM26 45h1v1h-1zM28 46h1v1h-1zM1 48h1v1h-1zM0 53h1v1h-1zM0 57h1v1h-1zM1 58h1v1h-1zM1 59h1v1h-1zM0 60h2v1h-2zM6 64h1v1h-1zM1 68h1v1h-1zM4 81h1v1h-1zM8 81h1v1h-1zM5 85h1v1h-1zM1 88h1v1h-1zM1 95h1v1h-1zM3 99h1v1h-1zM1 100h1v1h-1zM1 103h1v1h-1zM1 104h1v1h-1zM1 106h1v1h-1zM1 107h1v1h-1zM0 109h1v1h-1zM1 113h1v1h-1zM1 114h1v1h-1zM5 120h2v1h-2zM13 121h1v1h-1zM1 122h1v1h-1zM1 125h1v1h-1zM4 128h1v1h-1zM1 129h1v1h-1zM8 131h1v1h-1zM9 137h1v1h-1zM7 143h1v1h-1zM1 144h1v1h-1zM3 144h1v1h-1zM1 147h1v1h-1zM1 150h1v1h-1zM8 155h1v1h-1zM3 164h1v1h-1zM12 165h1v1h-1zM8 166h1v1h-1zM7 168h1v1h-1zM6 172h1v1h-1zM1 177h1v1h-1zM7 177h1v1h-1zM4 182h1v1h-1zM5 191h1v1h-1zM9 192h1v1h-1zM4 198h1v1h-1zM9 204h1v1h-1zM7 206h1v1h-1zM9 207h1v1h-1zM7 226h1v1h-1zM4 227h1v1h-1zM8 227h1v1h-1zM6 228h1v1h-1zM9 228h1v1h-1zM4 254h1v1h-1zM5 255h1v1h-1zM9 257h1v1h-1z"/><path fill="#fdf4f4" d="M20 0h2v1h-2zM23 1h1v1h-1zM0 2h1v1h-1zM27 2h1v1h-1zM21 3h1v1h-1zM25 4h1v1h-1zM18 5h1v1h-1zM19 6h1v1h-1zM24 6h1v1h-1zM28 7h1v1h-1zM17 8h1v1h-1zM19 8h1v1h-1zM24 8h1v1h-1zM15 9h1v1h-1zM20 9h1v1h-1zM25 9h1v1h-1zM15 10h1v1h-1zM19 10h1v1h-1zM22 10h1v1h-1zM26 11h1v1h-1zM28 12h2v1h-2zM21 14h1v1h-1zM15 16h2v1h-2zM26 16h1v1h-1zM28 16h1v1h-1zM6 17h1v1h-1zM24 17h1v1h-1zM28 17h1v1h-1zM16 18h1v1h-1zM25 18h1v1h-1zM15 20h1v1h-1zM17 22h1v1h-1zM20 22h1v1h-1zM26 22h1v1h-1zM15 23h2v1h-2zM24 23h1v1h-1zM17 24h1v1h-1zM22 24h1v1h-1zM25 24h1v1h-1zM18 25h1v1h-1zM26 25h2v1h-2zM26 26h1v1h-1zM29 26h1v1h-1zM17 27h1v1h-1zM20 28h2v1h-2zM24 28h1v1h-1zM16 29h1v1h-1zM2 30h1v1h-1zM18 30h1v1h-1zM25 31h1v1h-1zM24 32h1v1h-1zM27 32h1v1h-1zM29 32h1v1h-1zM0 33h1v1h-1zM19 34h1v1h-1zM23 34h2v1h-2zM15 35h1v1h-1zM17 35h1v1h-1zM26 35h1v1h-1zM18 36h2v1h-2zM25 36h1v1h-1zM20 37h1v1h-1zM25 37h1v1h-1zM29 37h1v1h-1zM19 40h1v1h-1zM25 40h1v1h-1zM18 41h2v1h-2zM18 42h1v1h-1zM23 42h2v1h-2zM6 44h1v1h-1zM5 45h1v1h-1zM23 45h1v1h-1zM29 45h1v1h-1zM16 46h2v1h-2zM22 46h1v1h-1zM11 47h1v1h-1zM6 48h1v1h-1zM12 48h1v1h-1zM0 49h1v1h-1zM4 49h1v1h-1zM9 49h1v1h-1zM12 49h1v1h-1zM9 50h1v1h-1zM12 50h1v1h-1zM28 50h1v1h-1zM6 51h1v1h-1zM11 51h1v1h-1zM2 52h1v1h-1zM24 52h1v1h-1zM10 53h1v1h-1zM12 53h2v1h-2zM20 53h1v1h-1zM24 53h1v1h-1zM0 54h1v1h-1zM2 54h1v1h-1zM4 54h1v1h-1zM8 54h2v1h-2zM3 55h1v1h-1zM9 55h1v1h-1zM2 58h1v1h-1zM13 58h1v1h-1zM10 59h1v1h-1zM13 59h1v1h-1zM5 60h1v1h-1zM13 60h2v1h-2zM25 61h1v1h-1zM8 62h1v1h-1zM11 62h1v1h-1zM24 62h1v1h-1zM29 62h1v1h-1zM6 63h1v1h-1zM9 64h1v1h-1zM13 64h1v1h-1zM20 64h1v1h-1zM25 64h1v1h-1zM10 65h1v1h-1zM13 65h1v1h-1zM29 65h1v1h-1zM10 66h1v1h-1zM13 67h1v1h-1zM7 68h1v1h-1zM9 68h1v1h-1zM13 68h1v1h-1zM9 70h1v1h-1zM8 71h1v1h-1zM6 72h1v1h-1zM11 72h2v1h-2zM12 73h1v1h-1zM3 74h1v1h-1zM5 74h3v1h-3zM9 74h1v1h-1zM28 75h1v1h-1zM12 76h1v1h-1zM3 77h1v1h-1zM8 77h3v1h-3zM12 77h1v1h-1zM14 77h1v1h-1zM3 78h1v1h-1zM8 78h1v1h-1zM11 78h1v1h-1zM18 78h1v1h-1zM2 79h2v1h-2zM5 79h1v1h-1zM12 79h1v1h-1zM24 79h1v1h-1zM12 80h3v1h-3zM26 80h1v1h-1zM28 80h1v1h-1zM5 81h1v1h-1zM18 81h1v1h-1zM29 81h1v1h-1zM4 82h1v1h-1zM7 82h1v1h-1zM4 83h1v1h-1zM11 83h3v1h-3zM24 83h1v1h-1zM14 84h1v1h-1zM12 85h1v1h-1zM5 86h1v1h-1zM26 86h1v1h-1zM28 86h1v1h-1zM6 87h1v1h-1zM8 87h1v1h-1zM10 87h1v1h-1zM19 87h1v1h-1zM24 87h1v1h-1zM5 88h1v1h-1zM10 88h1v1h-1zM3 89h3v1h-3zM3 91h1v1h-1zM10 91h2v1h-2zM5 92h1v1h-1zM9 94h1v1h-1zM12 94h1v1h-1zM4 95h1v1h-1zM8 95h1v1h-1zM3 96h1v1h-1zM11 96h1v1h-1zM13 96h1v1h-1zM6 97h1v1h-1zM12 97h2v1h-2zM23 98h1v1h-1zM5 99h1v1h-1zM11 99h3v1h-3zM24 99h1v1h-1zM28 99h1v1h-1zM4 100h1v1h-1zM7 100h1v1h-1zM10 100h1v1h-1zM5 101h1v1h-1zM11 101h1v1h-1zM13 101h2v1h-2zM26 101h1v1h-1zM28 101h1v1h-1zM13 102h1v1h-1zM7 103h1v1h-1zM14 103h1v1h-1zM3 104h1v1h-1zM8 104h1v1h-1zM5 105h1v1h-1zM10 105h1v1h-1zM13 105h1v1h-1zM8 106h1v1h-1zM9 107h3v1h-3zM28 107h1v1h-1zM8 108h1v1h-1zM10 108h2v1h-2zM13 108h1v1h-1zM2 109h1v1h-1zM8 109h1v1h-1zM10 109h1v1h-1zM3 110h1v1h-1zM14 110h1v1h-1zM5 111h2v1h-2zM14 111h1v1h-1zM7 112h1v1h-1zM12 112h2v1h-2zM9 113h1v1h-1zM26 114h1v1h-1zM8 115h1v1h-1zM14 115h1v1h-1zM5 116h1v1h-1zM7 116h1v1h-1zM11 116h1v1h-1zM4 117h1v1h-1zM7 117h1v1h-1zM5 118h2v1h-2zM7 119h1v1h-1zM11 119h1v1h-1zM2 121h1v1h-1zM11 121h2v1h-2zM14 121h1v1h-1zM2 122h2v1h-2zM13 122h1v1h-1zM2 123h1v1h-1zM12 123h1v1h-1zM24 123h1v1h-1zM4 124h2v1h-2zM11 124h1v1h-1zM24 124h1v1h-1zM2 125h1v1h-1zM4 125h1v1h-1zM8 125h1v1h-1zM29 125h1v1h-1zM2 126h1v1h-1zM24 126h1v1h-1zM28 126h1v1h-1zM7 127h1v1h-1zM11 127h1v1h-1zM25 127h1v1h-1zM2 128h1v1h-1zM8 128h1v1h-1zM10 128h1v1h-1zM25 128h1v1h-1zM25 129h2v1h-2zM5 130h1v1h-1zM7 130h1v1h-1zM14 130h1v1h-1zM28 130h1v1h-1zM11 131h1v1h-1zM5 132h2v1h-2zM10 132h1v1h-1zM24 132h1v1h-1zM4 133h2v1h-2zM11 133h1v1h-1zM3 134h1v1h-1zM4 135h1v1h-1zM14 135h1v1h-1zM19 135h1v1h-1zM10 136h1v1h-1zM28 136h1v1h-1zM2 137h2v1h-2zM12 137h1v1h-1zM14 137h1v1h-1zM2 138h1v1h-1zM5 138h1v1h-1zM13 138h1v1h-1zM15 138h1v1h-1zM5 139h1v1h-1zM13 139h1v1h-1zM20 139h1v1h-1zM29 139h1v1h-1zM4 140h1v1h-1zM11 140h2v1h-2zM5 141h1v1h-1zM15 141h1v1h-1zM12 142h1v1h-1zM28 142h1v1h-1zM2 143h1v1h-1zM11 143h1v1h-1zM14 143h1v1h-1zM5 144h1v1h-1zM11 144h1v1h-1zM20 144h1v1h-1zM3 145h3v1h-3zM26 145h1v1h-1zM2 146h1v1h-1zM23 146h1v1h-1zM14 147h1v1h-1zM26 147h1v1h-1zM28 147h1v1h-1zM12 148h1v1h-1zM15 148h1v1h-1zM26 148h1v1h-1zM28 148h2v1h-2zM3 149h1v1h-1zM9 149h1v1h-1zM12 150h1v1h-1zM14 150h1v1h-1zM27 150h1v1h-1zM2 151h1v1h-1zM13 151h1v1h-1zM26 151h1v1h-1zM10 152h1v1h-1zM18 152h1v1h-1zM10 153h1v1h-1zM10 154h3v1h-3zM11 155h1v1h-1zM14 155h1v1h-1zM2 156h1v1h-1zM4 156h1v1h-1zM12 156h1v1h-1zM19 156h1v1h-1zM9 157h1v1h-1zM11 157h1v1h-1zM13 157h1v1h-1zM8 158h1v1h-1zM13 158h1v1h-1zM4 159h1v1h-1zM10 159h1v1h-1zM12 159h1v1h-1zM9 160h1v1h-1zM19 160h1v1h-1zM1 161h1v1h-1zM3 161h1v1h-1zM9 161h1v1h-1zM7 162h1v1h-1zM12 162h1v1h-1zM24 162h1v1h-1zM4 163h1v1h-1zM5 164h1v1h-1zM11 164h1v1h-1zM18 164h1v1h-1zM26 164h1v1h-1zM15 165h1v1h-1zM5 166h1v1h-1zM10 166h1v1h-1zM12 166h1v1h-1zM14 166h1v1h-1zM26 166h1v1h-1zM10 168h1v1h-1zM12 168h1v1h-1zM14 168h1v1h-1zM2 169h1v1h-1zM4 169h1v1h-1zM6 169h1v1h-1zM5 170h1v1h-1zM12 170h1v1h-1zM26 170h1v1h-1zM2 171h1v1h-1zM6 171h1v1h-1zM2 172h1v1h-1zM19 172h1v1h-1zM10 173h1v1h-1zM13 173h1v1h-1zM19 173h1v1h-1zM26 173h1v1h-1zM4 174h2v1h-2zM10 174h1v1h-1zM2 175h2v1h-2zM11 175h1v1h-1zM14 175h1v1h-1zM26 175h1v1h-1zM13 176h1v1h-1zM19 176h1v1h-1zM24 176h3v1h-3zM28 176h1v1h-1zM2 177h2v1h-2zM10 177h1v1h-1zM20 177h1v1h-1zM23 177h1v1h-1zM28 177h1v1h-1zM29 178h1v1h-1zM2 179h2v1h-2zM12 179h1v1h-1zM9 180h1v1h-1zM11 180h2v1h-2zM26 180h1v1h-1zM28 180h1v1h-1zM3 181h1v1h-1zM12 181h1v1h-1zM3 182h1v1h-1zM5 182h1v1h-1zM5 183h1v1h-1zM7 183h1v1h-1zM28 183h1v1h-1zM12 184h1v1h-1zM14 184h1v1h-1zM26 184h1v1h-1zM28 184h1v1h-1zM10 185h1v1h-1zM18 185h1v1h-1zM11 186h1v1h-1zM7 187h2v1h-2zM11 187h1v1h-1zM5 188h1v1h-1zM26 188h1v1h-1zM10 189h1v1h-1zM3 190h1v1h-1zM5 190h1v1h-1zM7 190h1v1h-1zM26 190h1v1h-1zM22 191h1v1h-1zM7 192h1v1h-1zM11 192h3v1h-3zM23 192h1v1h-1zM28 192h1v1h-1zM15 193h1v1h-1zM26 193h1v1h-1zM11 194h1v1h-1zM25 194h1v1h-1zM7 195h1v1h-1zM12 195h1v1h-1zM15 195h1v1h-1zM3 196h1v1h-1zM6 196h1v1h-1zM12 196h1v1h-1zM15 196h1v1h-1zM2 197h1v1h-1zM5 197h1v1h-1zM13 197h1v1h-1zM15 197h1v1h-1zM28 198h1v1h-1zM12 199h3v1h-3zM5 200h1v1h-1zM9 200h1v1h-1zM3 201h1v1h-1zM6 201h1v1h-1zM8 201h1v1h-1zM13 201h1v1h-1zM28 201h1v1h-1zM3 202h1v1h-1zM7 202h1v1h-1zM9 202h1v1h-1zM11 202h1v1h-1zM14 202h2v1h-2zM1 203h1v1h-1zM4 203h1v1h-1zM12 203h2v1h-2zM3 204h2v1h-2zM10 204h1v1h-1zM12 204h1v1h-1zM1 205h1v1h-1zM3 205h1v1h-1zM8 205h3v1h-3zM26 206h1v1h-1zM8 207h1v1h-1zM12 207h1v1h-1zM7 208h1v1h-1zM11 208h1v1h-1zM4 209h1v1h-1zM6 209h1v1h-1zM11 209h1v1h-1zM14 209h2v1h-2zM4 210h1v1h-1zM6 210h1v1h-1zM8 210h1v1h-1zM12 210h1v1h-1zM12 211h1v1h-1zM24 211h1v1h-1zM26 211h1v1h-1zM3 212h1v1h-1zM7 212h1v1h-1zM10 212h1v1h-1zM24 212h1v1h-1zM4 213h3v1h-3zM15 213h1v1h-1zM7 214h1v1h-1zM3 215h1v1h-1zM11 215h1v1h-1zM9 216h1v1h-1zM11 216h1v1h-1zM3 217h1v1h-1zM9 217h1v1h-1zM14 217h1v1h-1zM19 217h1v1h-1zM1 218h1v1h-1zM9 218h2v1h-2zM24 218h1v1h-1zM12 219h1v1h-1zM17 219h1v1h-1zM26 219h1v1h-1zM28 219h1v1h-1zM2 220h2v1h-2zM14 220h2v1h-2zM24 220h1v1h-1zM5 221h1v1h-1zM15 221h1v1h-1zM26 221h1v1h-1zM1 222h1v1h-1zM6 222h1v1h-1zM12 222h1v1h-1zM8 223h1v1h-1zM11 223h1v1h-1zM26 223h1v1h-1zM3 224h2v1h-2zM6 224h3v1h-3zM1 225h1v1h-1zM6 225h2v1h-2zM10 225h1v1h-1zM1 226h1v1h-1zM10 226h1v1h-1zM14 226h1v1h-1zM26 226h1v1h-1zM29 226h1v1h-1zM2 227h1v1h-1zM11 227h1v1h-1zM26 227h1v1h-1zM3 228h1v1h-1zM19 228h1v1h-1zM23 228h1v1h-1zM6 229h1v1h-1zM5 230h2v1h-2zM4 231h1v1h-1zM12 231h1v1h-1zM3 232h3v1h-3zM7 233h2v1h-2zM4 234h1v1h-1zM9 234h1v1h-1zM9 235h1v1h-1zM5 236h1v1h-1zM7 236h2v1h-2zM13 236h1v1h-1zM1 237h1v1h-1zM8 237h2v1h-2zM15 237h1v1h-1zM28 237h1v1h-1zM6 238h2v1h-2zM11 238h2v1h-2zM5 239h2v1h-2zM13 239h1v1h-1zM1 240h1v1h-1zM3 240h1v1h-1zM13 240h2v1h-2zM10 241h1v1h-1zM3 242h1v1h-1zM5 242h1v1h-1zM8 243h1v1h-1zM12 243h1v1h-1zM8 244h1v1h-1zM12 245h1v1h-1zM1 246h1v1h-1zM4 246h1v1h-1zM6 246h1v1h-1zM8 246h1v1h-1zM12 246h4v1h-4zM28 246h1v1h-1zM25 247h1v1h-1zM3 248h1v1h-1zM1 249h1v1h-1zM12 249h1v1h-1zM4 250h2v1h-2zM11 250h2v1h-2zM1 251h1v1h-1zM2 252h1v1h-1zM4 252h1v1h-1zM13 253h1v1h-1zM18 253h1v1h-1zM2 254h1v1h-1zM23 254h1v1h-1zM26 254h1v1h-1zM23 255h1v1h-1zM27 255h1v1h-1zM5 256h1v1h-1zM10 257h1v1h-1zM13 257h1v1h-1zM26 257h1v1h-1zM28 257h1v1h-1z"/><path fill="#f8dfdf" d="M22 0h1v1h-1zM15 3h1v1h-1zM17 3h1v1h-1zM19 3h1v1h-1zM15 4h2v1h-2zM16 5h1v1h-1zM27 5h2v1h-2zM15 6h1v1h-1zM28 6h1v1h-1zM17 7h1v1h-1zM21 7h1v1h-1zM23 7h1v1h-1zM27 7h1v1h-1zM16 10h1v1h-1zM15 11h1v1h-1zM16 12h1v1h-1zM19 12h1v1h-1zM25 12h1v1h-1zM20 14h1v1h-1zM24 14h1v1h-1zM16 15h1v1h-1zM29 16h1v1h-1zM26 17h1v1h-1zM17 18h1v1h-1zM19 18h1v1h-1zM28 18h1v1h-1zM17 19h1v1h-1zM17 20h1v1h-1zM19 20h1v1h-1zM16 22h1v1h-1zM19 23h1v1h-1zM22 23h1v1h-1zM27 23h1v1h-1zM15 24h1v1h-1zM21 24h1v1h-1zM28 24h1v1h-1zM25 25h1v1h-1zM18 26h1v1h-1zM28 26h1v1h-1zM28 27h1v1h-1zM15 28h1v1h-1zM18 28h1v1h-1zM27 28h1v1h-1zM29 28h1v1h-1zM20 29h1v1h-1zM29 29h1v1h-1zM16 30h2v1h-2zM27 30h1v1h-1zM17 31h1v1h-1zM19 31h1v1h-1zM21 31h1v1h-1zM27 31h1v1h-1zM15 32h1v1h-1zM17 32h1v1h-1zM19 32h1v1h-1zM28 32h1v1h-1zM18 33h1v1h-1zM23 33h1v1h-1zM18 34h1v1h-1zM29 36h1v1h-1zM18 37h1v1h-1zM26 37h1v1h-1zM24 38h1v1h-1zM27 38h2v1h-2zM25 39h1v1h-1zM15 40h1v1h-1zM28 40h2v1h-2zM16 41h2v1h-2zM28 41h1v1h-1zM25 42h1v1h-1zM15 44h1v1h-1zM22 44h1v1h-1zM25 44h1v1h-1zM27 44h2v1h-2zM25 45h1v1h-1zM27 45h1v1h-1zM18 46h1v1h-1zM0 47h1v1h-1zM4 48h1v1h-1zM13 49h1v1h-1zM0 50h1v1h-1zM3 50h1v1h-1zM6 50h1v1h-1zM8 50h1v1h-1zM7 51h1v1h-1zM13 51h1v1h-1zM0 52h1v1h-1zM7 52h1v1h-1zM11 52h1v1h-1zM2 53h1v1h-1zM6 54h2v1h-2zM5 55h1v1h-1zM1 56h1v1h-1zM7 56h1v1h-1zM11 57h1v1h-1zM6 59h2v1h-2zM3 60h1v1h-1zM7 60h1v1h-1zM3 61h4v1h-4zM24 61h1v1h-1zM3 62h1v1h-1zM12 62h1v1h-1zM4 63h1v1h-1zM12 63h2v1h-2zM28 63h1v1h-1zM8 64h1v1h-1zM2 65h1v1h-1zM7 65h1v1h-1zM3 66h1v1h-1zM9 66h1v1h-1zM2 67h1v1h-1zM6 67h1v1h-1zM14 67h1v1h-1zM28 67h1v1h-1zM3 69h1v1h-1zM13 69h1v1h-1zM7 70h1v1h-1zM4 71h1v1h-1zM14 73h1v1h-1zM6 75h1v1h-1zM13 75h2v1h-2zM5 76h1v1h-1zM8 76h1v1h-1zM4 78h1v1h-1zM6 78h2v1h-2zM9 78h1v1h-1zM6 79h1v1h-1zM14 79h1v1h-1zM3 80h2v1h-2zM6 80h1v1h-1zM8 80h2v1h-2zM6 81h1v1h-1zM11 81h1v1h-1zM13 81h2v1h-2zM6 82h1v1h-1zM14 82h1v1h-1zM3 84h1v1h-1zM8 84h1v1h-1zM14 85h1v1h-1zM4 86h1v1h-1zM11 86h1v1h-1zM13 87h1v1h-1zM4 88h1v1h-1zM7 89h2v1h-2zM4 90h1v1h-1zM13 90h1v1h-1zM14 91h1v1h-1zM7 92h1v1h-1zM7 93h1v1h-1zM13 93h1v1h-1zM3 94h2v1h-2zM7 95h1v1h-1zM4 96h1v1h-1zM3 97h1v1h-1zM14 97h1v1h-1zM5 98h1v1h-1zM8 99h2v1h-2zM5 100h1v1h-1zM8 100h1v1h-1zM3 101h2v1h-2zM6 101h1v1h-1zM5 102h1v1h-1zM11 102h1v1h-1zM4 103h1v1h-1zM13 103h1v1h-1zM6 104h1v1h-1zM12 104h1v1h-1zM4 105h1v1h-1zM8 105h1v1h-1zM3 106h1v1h-1zM12 107h1v1h-1zM14 109h1v1h-1zM3 111h1v1h-1zM7 111h1v1h-1zM3 112h1v1h-1zM5 113h1v1h-1zM8 113h1v1h-1zM4 114h1v1h-1zM7 114h1v1h-1zM1 117h1v1h-1zM6 117h1v1h-1zM7 118h1v1h-1zM8 119h1v1h-1zM3 120h1v1h-1zM9 120h1v1h-1zM13 120h1v1h-1zM4 121h1v1h-1zM5 122h1v1h-1zM8 122h2v1h-2zM6 123h1v1h-1zM11 123h1v1h-1zM12 124h2v1h-2zM9 125h1v1h-1zM14 125h1v1h-1zM14 126h1v1h-1zM8 127h1v1h-1zM10 127h1v1h-1zM5 128h1v1h-1zM15 128h1v1h-1zM4 129h1v1h-1zM8 129h1v1h-1zM10 129h1v1h-1zM4 130h1v1h-1zM10 130h1v1h-1zM4 131h1v1h-1zM6 131h1v1h-1zM4 132h1v1h-1zM7 132h2v1h-2zM13 132h1v1h-1zM2 133h1v1h-1zM7 133h1v1h-1zM4 134h1v1h-1zM8 134h1v1h-1zM5 135h1v1h-1zM7 135h2v1h-2zM11 136h1v1h-1zM13 136h2v1h-2zM6 137h1v1h-1zM8 137h1v1h-1zM10 137h2v1h-2zM6 138h2v1h-2zM12 138h1v1h-1zM14 138h1v1h-1zM11 139h1v1h-1zM24 139h2v1h-2zM3 140h1v1h-1zM3 141h1v1h-1zM9 141h1v1h-1zM13 141h1v1h-1zM3 142h1v1h-1zM7 142h2v1h-2zM11 142h1v1h-1zM4 143h1v1h-1zM6 143h1v1h-1zM11 145h2v1h-2zM2 147h1v1h-1zM4 147h1v1h-1zM13 147h1v1h-1zM11 148h1v1h-1zM1 149h1v1h-1zM4 149h1v1h-1zM6 149h3v1h-3zM3 150h1v1h-1zM6 150h1v1h-1zM28 150h1v1h-1zM3 152h3v1h-3zM11 152h1v1h-1zM5 153h2v1h-2zM8 153h1v1h-1zM14 153h1v1h-1zM6 155h1v1h-1zM12 155h2v1h-2zM5 157h1v1h-1zM7 157h1v1h-1zM14 157h1v1h-1zM1 158h1v1h-1zM1 159h1v1h-1zM8 159h1v1h-1zM4 160h1v1h-1zM6 161h1v1h-1zM3 162h1v1h-1zM5 162h1v1h-1zM9 162h1v1h-1zM7 163h1v1h-1zM9 163h1v1h-1zM11 163h1v1h-1zM4 164h1v1h-1zM6 164h1v1h-1zM8 164h1v1h-1zM5 165h2v1h-2zM11 165h1v1h-1zM4 166h1v1h-1zM9 166h1v1h-1zM4 167h1v1h-1zM6 167h1v1h-1zM12 167h1v1h-1zM4 168h3v1h-3zM5 169h1v1h-1zM4 170h1v1h-1zM8 170h1v1h-1zM4 171h1v1h-1zM12 171h1v1h-1zM4 172h2v1h-2zM10 172h1v1h-1zM26 172h1v1h-1zM3 173h2v1h-2zM6 173h1v1h-1zM1 174h1v1h-1zM6 174h1v1h-1zM12 174h2v1h-2zM4 175h1v1h-1zM6 175h1v1h-1zM8 175h1v1h-1zM10 175h1v1h-1zM28 175h1v1h-1zM5 176h1v1h-1zM12 176h1v1h-1zM4 177h3v1h-3zM3 178h1v1h-1zM6 178h1v1h-1zM8 178h1v1h-1zM13 178h1v1h-1zM4 179h1v1h-1zM6 179h1v1h-1zM9 179h1v1h-1zM11 179h1v1h-1zM1 180h1v1h-1zM4 180h1v1h-1zM6 180h1v1h-1zM8 180h1v1h-1zM4 181h1v1h-1zM9 181h1v1h-1zM6 182h1v1h-1zM9 182h1v1h-1zM11 182h1v1h-1zM8 183h1v1h-1zM4 184h1v1h-1zM11 184h1v1h-1zM2 185h1v1h-1zM9 185h1v1h-1zM12 185h2v1h-2zM3 187h3v1h-3zM9 187h2v1h-2zM14 187h1v1h-1zM6 188h1v1h-1zM3 189h1v1h-1zM6 190h1v1h-1zM11 190h1v1h-1zM12 191h2v1h-2zM28 191h1v1h-1zM6 192h1v1h-1zM4 193h1v1h-1zM14 193h1v1h-1zM13 194h1v1h-1zM6 195h1v1h-1zM7 196h1v1h-1zM9 197h2v1h-2zM12 198h2v1h-2zM6 199h1v1h-1zM6 200h1v1h-1zM8 200h1v1h-1zM28 200h1v1h-1zM7 201h1v1h-1zM12 202h1v1h-1zM6 203h1v1h-1zM8 203h1v1h-1zM14 203h1v1h-1zM8 204h1v1h-1zM5 205h1v1h-1zM13 205h1v1h-1zM3 206h1v1h-1zM8 206h2v1h-2zM3 207h2v1h-2zM11 207h1v1h-1zM8 209h2v1h-2zM5 210h1v1h-1zM9 210h1v1h-1zM7 211h2v1h-2zM11 211h1v1h-1zM15 211h1v1h-1zM3 213h1v1h-1zM8 213h1v1h-1zM3 214h1v1h-1zM6 215h1v1h-1zM3 216h2v1h-2zM8 216h1v1h-1zM12 216h2v1h-2zM7 217h2v1h-2zM12 217h1v1h-1zM7 218h1v1h-1zM5 219h2v1h-2zM1 220h1v1h-1zM13 220h1v1h-1zM1 221h1v1h-1zM7 221h1v1h-1zM10 221h1v1h-1zM12 221h1v1h-1zM7 222h3v1h-3zM11 222h1v1h-1zM3 223h1v1h-1zM5 223h1v1h-1zM11 225h1v1h-1zM3 226h3v1h-3zM12 226h1v1h-1zM1 227h1v1h-1zM3 227h1v1h-1zM5 227h1v1h-1zM12 227h1v1h-1zM19 227h1v1h-1zM29 227h1v1h-1zM13 228h1v1h-1zM5 229h1v1h-1zM3 230h1v1h-1zM7 230h1v1h-1zM6 236h1v1h-1zM9 236h1v1h-1zM3 237h1v1h-1zM5 237h1v1h-1zM11 237h1v1h-1zM13 237h2v1h-2zM4 239h1v1h-1zM7 239h2v1h-2zM11 239h2v1h-2zM4 240h1v1h-1zM3 241h1v1h-1zM9 242h1v1h-1zM5 243h1v1h-1zM3 244h1v1h-1zM9 244h1v1h-1zM4 245h1v1h-1zM9 245h1v1h-1zM3 247h2v1h-2zM6 248h1v1h-1zM3 249h1v1h-1zM9 249h1v1h-1zM1 250h1v1h-1zM9 250h1v1h-1zM15 250h1v1h-1zM4 251h1v1h-1zM14 251h1v1h-1zM6 252h2v1h-2zM14 252h1v1h-1zM1 253h1v1h-1zM5 253h2v1h-2zM8 253h1v1h-1zM3 254h1v1h-1zM14 254h1v1h-1zM18 254h1v1h-1zM3 255h2v1h-2zM11 255h1v1h-1zM24 255h1v1h-1zM6 256h1v1h-1zM11 256h2v1h-2zM8 257h1v1h-1z"/><path fill="#e47f7f" d="M24 0h1v1h-1zM26 2h1v1h-1zM27 34h1v1h-1zM0 59h1v1h-1zM0 62h1v1h-1zM0 63h1v1h-1zM1 64h1v1h-1zM0 65h1v1h-1zM1 66h1v1h-1zM0 69h1v1h-1zM0 70h1v1h-1zM0 74h1v1h-1zM0 75h1v1h-1zM1 77h1v1h-1zM0 79h1v1h-1zM0 82h1v1h-1zM1 87h1v1h-1zM0 92h1v1h-1zM0 94h1v1h-1zM0 95h1v1h-1zM0 100h1v1h-1zM0 112h1v1h-1zM0 118h1v1h-1zM0 167h1v1h-1zM0 175h1v1h-1zM0 183h1v1h-1zM0 194h1v1h-1zM0 222h1v1h-1zM0 233h1v1h-1zM0 235h1v1h-1z"/><path fill="#d22a2a" d="M26 0h1v1h-1zM0 76h1v1h-1zM0 105h1v1h-1zM0 119h1v1h-1zM0 141h1v1h-1zM0 149h1v1h-1zM0 152h1v1h-1zM0 154h1v1h-1zM0 192h1v1h-1zM0 203h1v1h-1zM0 207h1v1h-1zM0 211h1v1h-1zM0 227h1v1h-1zM0 254h1v1h-1zM0 257h1v1h-1z"/><path fill="#f6d4d4" d="M27 0h1v1h-1zM16 1h1v1h-1zM15 2h1v1h-1zM18 2h2v1h-2zM16 3h1v1h-1zM27 3h1v1h-1zM22 6h2v1h-2zM15 8h1v1h-1zM27 8h1v1h-1zM24 9h1v1h-1zM27 9h1v1h-1zM21 10h1v1h-1zM16 11h2v1h-2zM27 11h1v1h-1zM15 12h1v1h-1zM26 12h1v1h-1zM16 13h1v1h-1zM18 13h1v1h-1zM22 13h1v1h-1zM24 13h1v1h-1zM26 13h1v1h-1zM28 13h1v1h-1zM15 14h3v1h-3zM15 15h1v1h-1zM22 15h1v1h-1zM25 17h1v1h-1zM29 20h1v1h-1zM16 21h1v1h-1zM28 21h1v1h-1zM18 22h2v1h-2zM27 24h1v1h-1zM29 24h1v1h-1zM25 26h1v1h-1zM16 27h1v1h-1zM26 28h1v1h-1zM17 29h1v1h-1zM25 29h1v1h-1zM28 31h1v1h-1zM26 32h1v1h-1zM15 33h1v1h-1zM26 34h1v1h-1zM28 34h1v1h-1zM28 36h1v1h-1zM15 38h1v1h-1zM17 39h1v1h-1zM20 39h1v1h-1zM15 41h1v1h-1zM26 41h1v1h-1zM19 42h1v1h-1zM29 42h1v1h-1zM28 43h2v1h-2zM17 44h1v1h-1zM19 44h1v1h-1zM18 45h1v1h-1zM24 46h1v1h-1zM26 46h1v1h-1zM2 47h1v1h-1zM3 49h1v1h-1zM13 50h1v1h-1zM0 51h1v1h-1zM3 51h3v1h-3zM6 52h1v1h-1zM4 53h1v1h-1zM7 53h1v1h-1zM3 54h1v1h-1zM14 54h1v1h-1zM6 58h1v1h-1zM8 60h1v1h-1zM2 61h1v1h-1zM10 61h1v1h-1zM13 61h1v1h-1zM5 62h1v1h-1zM7 62h1v1h-1zM2 63h1v1h-1zM5 63h1v1h-1zM3 65h2v1h-2zM14 65h1v1h-1zM2 66h1v1h-1zM6 66h1v1h-1zM4 67h1v1h-1zM7 67h1v1h-1zM9 67h1v1h-1zM4 68h2v1h-2zM4 69h1v1h-1zM14 69h1v1h-1zM3 70h1v1h-1zM6 70h1v1h-1zM4 72h1v1h-1zM4 73h1v1h-1zM8 74h1v1h-1zM14 74h1v1h-1zM5 75h1v1h-1zM7 75h1v1h-1zM11 75h1v1h-1zM4 77h1v1h-1zM6 77h1v1h-1zM18 77h1v1h-1zM4 79h1v1h-1zM13 79h1v1h-1zM9 81h1v1h-1zM14 83h1v1h-1zM7 84h1v1h-1zM4 85h1v1h-1zM8 85h1v1h-1zM3 86h1v1h-1zM12 86h3v1h-3zM3 87h1v1h-1zM5 87h1v1h-1zM14 87h1v1h-1zM6 89h1v1h-1zM4 93h1v1h-1zM6 93h1v1h-1zM10 93h1v1h-1zM5 96h1v1h-1zM3 98h2v1h-2zM8 98h1v1h-1zM7 99h1v1h-1zM7 101h1v1h-1zM3 102h1v1h-1zM14 102h1v1h-1zM3 105h1v1h-1zM2 106h1v1h-1zM5 106h1v1h-1zM7 106h1v1h-1zM7 109h1v1h-1zM6 112h1v1h-1zM14 112h1v1h-1zM3 113h1v1h-1zM6 113h2v1h-2zM1 116h1v1h-1zM1 118h1v1h-1zM5 119h1v1h-1zM6 121h1v1h-1zM8 121h1v1h-1zM4 122h1v1h-1zM6 122h1v1h-1zM3 123h2v1h-2zM14 124h1v1h-1zM3 126h1v1h-1zM7 126h1v1h-1zM13 126h1v1h-1zM4 127h2v1h-2zM12 127h2v1h-2zM6 128h1v1h-1zM14 128h1v1h-1zM3 129h1v1h-1zM11 129h1v1h-1zM3 130h1v1h-1zM8 130h1v1h-1zM13 130h1v1h-1zM3 131h1v1h-1zM9 131h1v1h-1zM13 131h1v1h-1zM14 132h1v1h-1zM28 132h1v1h-1zM6 133h1v1h-1zM9 133h1v1h-1zM14 133h1v1h-1zM1 134h1v1h-1zM9 134h1v1h-1zM12 134h1v1h-1zM9 135h1v1h-1zM4 137h1v1h-1zM7 137h1v1h-1zM13 137h1v1h-1zM3 138h1v1h-1zM8 138h1v1h-1zM4 139h1v1h-1zM14 139h1v1h-1zM26 139h1v1h-1zM1 140h1v1h-1zM6 140h1v1h-1zM13 140h1v1h-1zM11 141h1v1h-1zM6 142h1v1h-1zM1 143h1v1h-1zM3 143h1v1h-1zM5 143h1v1h-1zM8 143h1v1h-1zM4 144h1v1h-1zM7 144h3v1h-3zM14 144h1v1h-1zM6 145h2v1h-2zM9 145h1v1h-1zM3 146h1v1h-1zM7 146h1v1h-1zM6 147h1v1h-1zM7 148h1v1h-1zM14 148h1v1h-1zM5 150h1v1h-1zM11 150h1v1h-1zM26 150h1v1h-1zM1 151h1v1h-1zM3 151h1v1h-1zM8 151h2v1h-2zM8 152h1v1h-1zM1 153h1v1h-1zM3 153h1v1h-1zM3 155h1v1h-1zM5 155h1v1h-1zM9 155h1v1h-1zM19 155h1v1h-1zM1 156h1v1h-1zM1 157h1v1h-1zM3 157h1v1h-1zM8 157h1v1h-1zM9 158h1v1h-1zM1 160h1v1h-1zM5 160h2v1h-2zM7 161h1v1h-1zM5 163h1v1h-1zM8 163h1v1h-1zM7 164h1v1h-1zM1 166h1v1h-1zM9 167h1v1h-1zM8 168h1v1h-1zM1 169h1v1h-1zM7 169h1v1h-1zM3 170h1v1h-1zM6 170h2v1h-2zM7 171h1v1h-1zM13 171h1v1h-1zM26 171h1v1h-1zM28 171h1v1h-1zM3 172h1v1h-1zM24 172h1v1h-1zM1 173h1v1h-1zM8 173h1v1h-1zM7 174h1v1h-1zM7 175h1v1h-1zM9 175h1v1h-1zM13 175h1v1h-1zM7 176h3v1h-3zM8 177h2v1h-2zM13 177h1v1h-1zM7 178h1v1h-1zM14 178h1v1h-1zM5 179h1v1h-1zM7 180h1v1h-1zM1 181h1v1h-1zM6 181h1v1h-1zM8 181h1v1h-1zM1 182h1v1h-1zM5 184h1v1h-1zM7 184h1v1h-1zM13 184h1v1h-1zM7 185h1v1h-1zM6 186h1v1h-1zM9 188h1v1h-1zM9 189h1v1h-1zM9 190h1v1h-1zM3 191h1v1h-1zM10 191h1v1h-1zM15 191h1v1h-1zM26 191h1v1h-1zM26 192h1v1h-1zM3 193h1v1h-1zM5 193h2v1h-2zM4 194h1v1h-1zM6 194h1v1h-1zM8 196h1v1h-1zM7 197h2v1h-2zM1 198h1v1h-1zM3 198h1v1h-1zM6 198h2v1h-2zM9 198h1v1h-1zM6 202h1v1h-1zM5 203h1v1h-1zM7 204h1v1h-1zM7 205h1v1h-1zM15 206h1v1h-1zM5 207h2v1h-2zM6 208h1v1h-1zM8 208h1v1h-1zM3 211h1v1h-1zM6 211h1v1h-1zM9 211h1v1h-1zM1 212h1v1h-1zM8 212h1v1h-1zM7 213h1v1h-1zM9 213h1v1h-1zM6 214h1v1h-1zM9 214h1v1h-1zM5 215h1v1h-1zM7 219h3v1h-3zM6 220h1v1h-1zM12 220h1v1h-1zM4 223h1v1h-1zM7 223h1v1h-1zM5 225h1v1h-1zM8 225h1v1h-1zM12 225h1v1h-1zM6 226h1v1h-1zM11 226h1v1h-1zM10 227h1v1h-1zM14 227h1v1h-1zM1 228h1v1h-1zM5 228h1v1h-1zM7 228h1v1h-1zM11 228h1v1h-1zM18 228h1v1h-1zM7 231h1v1h-1zM6 232h1v1h-1zM8 232h1v1h-1zM4 233h1v1h-1zM9 233h1v1h-1zM8 234h1v1h-1zM0 236h1v1h-1zM8 238h2v1h-2zM7 240h1v1h-1zM9 240h1v1h-1zM6 241h4v1h-4zM13 241h1v1h-1zM7 242h1v1h-1zM6 245h1v1h-1zM5 246h1v1h-1zM7 246h1v1h-1zM9 246h1v1h-1zM8 247h1v1h-1zM7 248h1v1h-1zM14 249h1v1h-1zM3 250h1v1h-1zM12 251h1v1h-1zM12 252h1v1h-1zM6 254h2v1h-2zM9 254h1v1h-1zM12 254h2v1h-2zM15 254h1v1h-1zM3 256h1v1h-1zM7 256h1v1h-1zM14 256h2v1h-2zM7 257h1v1h-1z"/><path fill="#e89494" d="M28 0h1v1h-1zM27 6h1v1h-1zM27 20h1v1h-1zM26 38h1v1h-1zM1 49h1v1h-1zM1 50h1v1h-1zM1 53h1v1h-1zM1 54h1v1h-1zM1 55h1v1h-1zM1 63h1v1h-1zM1 67h1v1h-1zM1 69h1v1h-1zM1 75h1v1h-1zM0 78h1v1h-1zM1 80h1v1h-1zM0 84h1v1h-1zM0 87h1v1h-1zM1 89h1v1h-1zM1 90h1v1h-1zM1 92h1v1h-1zM1 94h1v1h-1zM0 98h1v1h-1zM6 102h1v1h-1zM0 107h1v1h-1zM0 115h1v1h-1zM1 131h1v1h-1zM0 136h1v1h-1zM0 186h1v1h-1zM15 192h1v1h-1zM0 201h1v1h-1z"/><path fill="#b8bcff" d="M3 1h1v1h-1zM9 4h1v1h-1zM9 6h1v1h-1zM18 9h1v1h-1zM1 13h1v1h-1zM21 17h1v1h-1zM20 18h1v1h-1zM8 20h1v1h-1zM3 23h1v1h-1zM20 24h1v1h-1zM23 24h1v1h-1zM3 28h1v1h-1zM13 28h1v1h-1zM3 29h1v1h-1zM23 31h1v1h-1zM3 33h1v1h-1zM3 34h1v1h-1zM21 34h1v1h-1zM0 35h1v1h-1zM21 35h1v1h-1zM20 38h1v1h-1zM0 40h1v1h-1zM11 41h1v1h-1zM5 43h1v1h-1zM21 47h1v1h-1zM23 47h1v1h-1zM27 47h1v1h-1zM16 48h1v1h-1zM26 48h1v1h-1zM16 49h1v1h-1zM20 49h1v1h-1zM17 50h1v1h-1zM27 50h1v1h-1zM17 51h1v1h-1zM15 52h2v1h-2zM17 54h1v1h-1zM22 54h1v1h-1zM26 54h1v1h-1zM25 55h1v1h-1zM20 56h1v1h-1zM23 56h2v1h-2zM27 56h1v1h-1zM23 57h1v1h-1zM26 57h1v1h-1zM20 58h1v1h-1zM27 58h1v1h-1zM15 59h1v1h-1zM22 59h1v1h-1zM17 63h1v1h-1zM16 66h2v1h-2zM22 66h1v1h-1zM27 66h1v1h-1zM17 68h1v1h-1zM27 70h1v1h-1zM15 71h1v1h-1zM20 71h1v1h-1zM29 71h1v1h-1zM20 72h1v1h-1zM23 72h1v1h-1zM27 72h1v1h-1zM10 73h1v1h-1zM21 73h1v1h-1zM27 73h1v1h-1zM29 74h1v1h-1zM27 75h1v1h-1zM22 77h1v1h-1zM17 78h1v1h-1zM22 78h1v1h-1zM18 79h1v1h-1zM16 81h1v1h-1zM16 83h2v1h-2zM20 83h1v1h-1zM27 83h1v1h-1zM19 84h1v1h-1zM21 84h1v1h-1zM17 85h1v1h-1zM17 86h1v1h-1zM25 88h1v1h-1zM15 89h1v1h-1zM20 90h1v1h-1zM23 90h1v1h-1zM26 90h2v1h-2zM15 91h1v1h-1zM29 91h1v1h-1zM21 92h1v1h-1zM15 93h1v1h-1zM17 94h1v1h-1zM20 94h1v1h-1zM23 94h1v1h-1zM22 95h1v1h-1zM29 95h1v1h-1zM22 96h1v1h-1zM26 96h1v1h-1zM23 97h1v1h-1zM29 98h1v1h-1zM16 99h1v1h-1zM15 101h1v1h-1zM17 101h1v1h-1zM21 102h2v1h-2zM27 102h1v1h-1zM15 104h1v1h-1zM21 104h2v1h-2zM21 105h1v1h-1zM18 106h1v1h-1zM15 107h2v1h-2zM20 108h2v1h-2zM16 109h1v1h-1zM20 109h1v1h-1zM17 110h1v1h-1zM27 110h1v1h-1zM22 112h1v1h-1zM2 114h1v1h-1zM22 114h1v1h-1zM27 114h1v1h-1zM29 114h1v1h-1zM21 115h1v1h-1zM27 115h1v1h-1zM29 116h1v1h-1zM20 117h1v1h-1zM24 117h1v1h-1zM25 118h1v1h-1zM16 119h2v1h-2zM16 120h1v1h-1zM22 121h1v1h-1zM15 123h2v1h-2zM16 125h1v1h-1zM20 125h1v1h-1zM17 126h1v1h-1zM27 130h1v1h-1zM27 131h1v1h-1zM17 133h1v1h-1zM16 135h1v1h-1zM22 135h1v1h-1zM17 136h2v1h-2zM20 136h1v1h-1zM25 136h1v1h-1zM27 136h1v1h-1zM16 137h2v1h-2zM27 140h1v1h-1zM16 141h1v1h-1zM20 141h1v1h-1zM22 141h1v1h-1zM29 141h1v1h-1zM16 142h1v1h-1zM16 143h1v1h-1zM21 143h1v1h-1zM17 145h1v1h-1zM21 150h1v1h-1zM16 151h1v1h-1zM16 152h1v1h-1zM23 153h1v1h-1zM16 155h1v1h-1zM20 156h1v1h-1zM27 156h1v1h-1zM18 157h1v1h-1zM23 157h1v1h-1zM27 157h1v1h-1zM17 159h1v1h-1zM22 159h1v1h-1zM27 160h1v1h-1zM2 161h1v1h-1zM20 161h2v1h-2zM24 161h2v1h-2zM17 162h1v1h-1zM17 163h1v1h-1zM22 163h1v1h-1zM29 166h1v1h-1zM20 169h1v1h-1zM16 171h1v1h-1zM23 173h1v1h-1zM21 174h1v1h-1zM21 180h2v1h-2zM17 181h1v1h-1zM27 182h1v1h-1zM17 184h1v1h-1zM22 185h1v1h-1zM2 188h1v1h-1zM18 188h1v1h-1zM20 189h1v1h-1zM24 189h2v1h-2zM16 190h1v1h-1zM16 191h1v1h-1zM21 192h1v1h-1zM27 192h1v1h-1zM16 194h1v1h-1zM20 195h1v1h-1zM22 195h1v1h-1zM29 195h1v1h-1zM17 196h1v1h-1zM22 196h1v1h-1zM27 196h1v1h-1zM21 199h1v1h-1zM22 200h2v1h-2zM17 201h1v1h-1zM23 201h1v1h-1zM17 202h1v1h-1zM27 202h1v1h-1zM16 203h1v1h-1zM27 204h1v1h-1zM16 205h1v1h-1zM25 205h1v1h-1zM17 207h1v1h-1zM27 207h1v1h-1zM17 208h1v1h-1zM21 208h1v1h-1zM23 208h1v1h-1zM25 209h1v1h-1zM18 210h1v1h-1zM22 210h1v1h-1zM16 212h1v1h-1zM22 212h2v1h-2zM21 214h1v1h-1zM25 214h1v1h-1zM21 215h1v1h-1zM16 217h1v1h-1zM27 217h1v1h-1zM20 218h1v1h-1zM16 220h1v1h-1zM16 221h1v1h-1zM27 221h1v1h-1zM18 222h1v1h-1zM18 224h1v1h-1zM27 224h1v1h-1zM21 225h2v1h-2zM24 225h1v1h-1zM16 226h1v1h-1zM21 229h1v1h-1zM18 230h1v1h-1zM23 230h2v1h-2zM15 231h1v1h-1zM20 231h1v1h-1zM24 231h2v1h-2zM27 231h1v1h-1zM25 232h1v1h-1zM22 234h1v1h-1zM25 234h1v1h-1zM29 234h1v1h-1zM17 235h1v1h-1zM21 235h1v1h-1zM29 235h1v1h-1zM17 236h1v1h-1zM16 237h1v1h-1zM27 237h1v1h-1zM17 239h1v1h-1zM22 240h1v1h-1zM24 242h1v1h-1zM27 242h1v1h-1zM17 243h1v1h-1zM27 243h1v1h-1zM21 244h1v1h-1zM26 244h1v1h-1zM29 244h1v1h-1zM21 245h2v1h-2zM28 245h1v1h-1zM20 246h1v1h-1zM16 248h1v1h-1zM17 249h1v1h-1zM17 250h1v1h-1zM22 250h1v1h-1zM16 252h1v1h-1zM22 252h1v1h-1zM17 253h1v1h-1zM19 253h1v1h-1zM22 255h1v1h-1zM21 257h1v1h-1zM23 257h1v1h-1zM27 257h1v1h-1z"/><path fill="#ffffff" d="M6 1h1v1h-1zM9 2h1v1h-1zM24 2h1v1h-1zM1 4h1v1h-1zM19 4h1v1h-1zM22 4h1v1h-1zM15 5h1v1h-1zM20 5h2v1h-2zM29 5h1v1h-1zM18 6h1v1h-1zM20 6h1v1h-1zM0 7h1v1h-1zM24 7h1v1h-1zM11 8h1v1h-1zM4 9h1v1h-1zM17 9h1v1h-1zM3 10h1v1h-1zM20 10h1v1h-1zM9 11h1v1h-1zM19 11h1v1h-1zM25 11h1v1h-1zM22 12h1v1h-1zM10 14h1v1h-1zM23 14h1v1h-1zM5 15h1v1h-1zM12 15h2v1h-2zM20 15h1v1h-1zM25 15h1v1h-1zM24 16h2v1h-2zM1 17h1v1h-1zM20 17h1v1h-1zM22 17h2v1h-2zM0 18h1v1h-1zM4 18h1v1h-1zM21 18h1v1h-1zM26 18h1v1h-1zM8 19h1v1h-1zM16 19h1v1h-1zM18 19h1v1h-1zM21 19h1v1h-1zM29 19h1v1h-1zM10 20h1v1h-1zM18 20h1v1h-1zM22 20h1v1h-1zM24 20h1v1h-1zM12 21h1v1h-1zM17 21h1v1h-1zM19 21h1v1h-1zM21 21h1v1h-1zM25 21h1v1h-1zM24 22h1v1h-1zM29 22h1v1h-1zM9 23h2v1h-2zM29 23h1v1h-1zM26 24h1v1h-1zM15 25h1v1h-1zM24 25h1v1h-1zM18 27h1v1h-1zM20 27h1v1h-1zM22 27h1v1h-1zM24 27h1v1h-1zM14 28h1v1h-1zM19 28h1v1h-1zM24 29h1v1h-1zM24 30h1v1h-1zM24 31h1v1h-1zM18 32h1v1h-1zM6 33h1v1h-1zM16 33h1v1h-1zM19 33h1v1h-1zM24 33h2v1h-2zM29 33h1v1h-1zM5 34h2v1h-2zM13 34h1v1h-1zM16 34h1v1h-1zM28 35h2v1h-2zM23 36h1v1h-1zM6 37h1v1h-1zM16 37h1v1h-1zM22 37h1v1h-1zM16 38h1v1h-1zM18 38h1v1h-1zM8 39h1v1h-1zM13 39h1v1h-1zM19 39h1v1h-1zM23 39h2v1h-2zM6 40h1v1h-1zM16 40h1v1h-1zM22 40h2v1h-2zM26 42h2v1h-2zM4 43h1v1h-1zM9 43h1v1h-1zM13 43h1v1h-1zM15 43h1v1h-1zM25 43h1v1h-1zM7 44h1v1h-1zM26 44h1v1h-1zM21 45h1v1h-1zM28 45h1v1h-1zM20 46h1v1h-1zM4 47h1v1h-1zM12 47h3v1h-3zM5 48h1v1h-1zM9 48h1v1h-1zM13 48h1v1h-1zM2 49h1v1h-1zM5 49h1v1h-1zM8 49h1v1h-1zM10 49h1v1h-1zM2 50h1v1h-1zM4 50h1v1h-1zM7 50h1v1h-1zM10 50h2v1h-2zM19 50h1v1h-1zM28 51h1v1h-1zM10 52h1v1h-1zM12 52h1v1h-1zM11 53h1v1h-1zM22 53h1v1h-1zM25 53h1v1h-1zM28 53h1v1h-1zM5 54h1v1h-1zM28 54h1v1h-1zM4 55h1v1h-1zM8 55h1v1h-1zM10 55h1v1h-1zM12 55h2v1h-2zM3 56h1v1h-1zM5 56h1v1h-1zM13 56h1v1h-1zM5 57h1v1h-1zM7 57h1v1h-1zM9 57h1v1h-1zM14 57h1v1h-1zM14 58h1v1h-1zM8 59h1v1h-1zM11 59h1v1h-1zM9 60h1v1h-1zM18 61h1v1h-1zM23 61h1v1h-1zM29 61h1v1h-1zM9 62h1v1h-1zM18 62h1v1h-1zM28 62h1v1h-1zM10 63h2v1h-2zM24 63h1v1h-1zM18 64h1v1h-1zM28 64h1v1h-1zM5 65h1v1h-1zM20 65h1v1h-1zM5 66h1v1h-1zM8 66h1v1h-1zM11 66h1v1h-1zM18 66h2v1h-2zM3 67h1v1h-1zM11 67h1v1h-1zM18 67h1v1h-1zM20 67h1v1h-1zM3 68h1v1h-1zM12 68h1v1h-1zM19 68h1v1h-1zM26 69h1v1h-1zM5 70h1v1h-1zM12 70h2v1h-2zM18 70h1v1h-1zM2 71h1v1h-1zM5 71h1v1h-1zM7 71h1v1h-1zM9 71h1v1h-1zM19 71h1v1h-1zM5 72h1v1h-1zM8 72h1v1h-1zM2 73h1v1h-1zM13 73h1v1h-1zM24 75h1v1h-1zM7 76h1v1h-1zM9 76h3v1h-3zM28 76h1v1h-1zM28 77h1v1h-1zM14 78h1v1h-1zM19 78h1v1h-1zM8 79h1v1h-1zM25 79h1v1h-1zM10 80h1v1h-1zM19 80h1v1h-1zM19 81h1v1h-1zM22 81h3v1h-3zM3 82h1v1h-1zM5 82h1v1h-1zM9 82h1v1h-1zM11 82h1v1h-1zM24 82h1v1h-1zM29 82h1v1h-1zM7 83h2v1h-2zM5 84h1v1h-1zM10 84h2v1h-2zM28 84h1v1h-1zM2 85h1v1h-1zM10 85h2v1h-2zM18 85h1v1h-1zM20 85h1v1h-1zM25 85h2v1h-2zM29 85h1v1h-1zM2 86h1v1h-1zM9 86h2v1h-2zM19 86h1v1h-1zM24 86h1v1h-1zM28 87h1v1h-1zM11 88h4v1h-4zM12 89h1v1h-1zM3 90h1v1h-1zM8 90h1v1h-1zM10 90h1v1h-1zM4 91h3v1h-3zM8 91h1v1h-1zM4 92h1v1h-1zM6 92h1v1h-1zM9 92h1v1h-1zM12 92h1v1h-1zM14 93h1v1h-1zM19 93h1v1h-1zM26 93h1v1h-1zM7 94h2v1h-2zM11 94h1v1h-1zM6 95h1v1h-1zM9 95h1v1h-1zM7 96h2v1h-2zM14 96h1v1h-1zM7 97h1v1h-1zM24 97h1v1h-1zM28 97h1v1h-1zM10 98h3v1h-3zM24 98h1v1h-1zM2 99h1v1h-1zM10 99h1v1h-1zM20 99h1v1h-1zM2 100h1v1h-1zM11 100h2v1h-2zM20 100h1v1h-1zM4 102h1v1h-1zM8 102h2v1h-2zM3 103h1v1h-1zM5 103h1v1h-1zM8 103h1v1h-1zM5 104h1v1h-1zM13 104h1v1h-1zM2 105h1v1h-1zM12 105h1v1h-1zM14 105h1v1h-1zM28 105h1v1h-1zM4 106h1v1h-1zM10 106h2v1h-2zM24 106h1v1h-1zM8 107h1v1h-1zM3 108h1v1h-1zM7 108h1v1h-1zM12 108h1v1h-1zM14 108h1v1h-1zM11 109h1v1h-1zM28 109h1v1h-1zM7 110h2v1h-2zM24 110h1v1h-1zM8 111h1v1h-1zM13 111h1v1h-1zM10 112h2v1h-2zM26 112h1v1h-1zM28 112h1v1h-1zM2 113h1v1h-1zM12 113h3v1h-3zM19 113h1v1h-1zM23 113h1v1h-1zM26 113h1v1h-1zM14 114h1v1h-1zM7 115h1v1h-1zM11 115h1v1h-1zM4 116h1v1h-1zM8 116h1v1h-1zM24 116h1v1h-1zM13 117h1v1h-1zM4 118h1v1h-1zM11 118h1v1h-1zM2 119h2v1h-2zM10 119h1v1h-1zM13 119h2v1h-2zM24 119h2v1h-2zM28 119h1v1h-1zM2 120h1v1h-1zM10 121h1v1h-1zM25 121h2v1h-2zM10 122h1v1h-1zM12 122h1v1h-1zM20 122h1v1h-1zM22 122h1v1h-1zM26 122h1v1h-1zM8 123h1v1h-1zM10 123h1v1h-1zM21 123h1v1h-1zM28 123h1v1h-1zM2 124h1v1h-1zM9 124h2v1h-2zM15 124h1v1h-1zM26 124h1v1h-1zM5 125h2v1h-2zM12 125h2v1h-2zM15 125h1v1h-1zM10 126h2v1h-2zM18 127h2v1h-2zM12 128h1v1h-1zM19 128h2v1h-2zM23 128h1v1h-1zM29 128h1v1h-1zM2 129h1v1h-1zM19 129h1v1h-1zM21 129h1v1h-1zM28 129h1v1h-1zM9 130h1v1h-1zM18 130h1v1h-1zM25 130h2v1h-2zM2 131h1v1h-1zM10 131h1v1h-1zM28 131h1v1h-1zM15 132h1v1h-1zM13 133h1v1h-1zM21 133h1v1h-1zM28 133h1v1h-1zM5 134h1v1h-1zM14 134h1v1h-1zM19 134h1v1h-1zM24 134h1v1h-1zM2 135h2v1h-2zM10 135h1v1h-1zM13 135h1v1h-1zM23 135h1v1h-1zM25 135h2v1h-2zM6 136h1v1h-1zM9 136h1v1h-1zM12 136h1v1h-1zM26 136h1v1h-1zM19 137h1v1h-1zM21 137h1v1h-1zM24 137h1v1h-1zM26 137h1v1h-1zM28 137h1v1h-1zM10 138h1v1h-1zM24 138h1v1h-1zM26 138h1v1h-1zM15 139h1v1h-1zM21 139h1v1h-1zM28 139h1v1h-1zM26 140h1v1h-1zM4 142h1v1h-1zM9 142h1v1h-1zM12 143h1v1h-1zM28 143h1v1h-1zM12 144h2v1h-2zM28 144h1v1h-1zM10 145h1v1h-1zM18 145h1v1h-1zM23 145h1v1h-1zM16 146h1v1h-1zM19 146h1v1h-1zM24 146h2v1h-2zM28 146h1v1h-1zM21 147h1v1h-1zM13 148h1v1h-1zM18 148h1v1h-1zM20 148h1v1h-1zM26 149h1v1h-1zM18 150h1v1h-1zM24 150h1v1h-1zM29 150h1v1h-1zM14 151h1v1h-1zM19 151h1v1h-1zM28 151h1v1h-1zM2 152h1v1h-1zM12 152h1v1h-1zM25 152h2v1h-2zM19 154h1v1h-1zM25 154h1v1h-1zM27 154h1v1h-1zM10 155h1v1h-1zM21 155h1v1h-1zM28 155h1v1h-1zM7 156h1v1h-1zM11 156h1v1h-1zM24 156h1v1h-1zM4 157h1v1h-1zM6 157h1v1h-1zM15 157h1v1h-1zM3 158h2v1h-2zM7 158h1v1h-1zM10 158h1v1h-1zM23 158h1v1h-1zM7 159h1v1h-1zM15 159h1v1h-1zM7 160h1v1h-1zM11 160h2v1h-2zM5 161h1v1h-1zM12 161h1v1h-1zM18 161h1v1h-1zM13 162h1v1h-1zM26 162h1v1h-1zM6 163h1v1h-1zM12 163h1v1h-1zM24 163h1v1h-1zM26 163h1v1h-1zM10 164h1v1h-1zM15 164h1v1h-1zM17 164h1v1h-1zM19 164h1v1h-1zM3 165h1v1h-1zM7 165h1v1h-1zM26 165h1v1h-1zM7 166h1v1h-1zM11 166h1v1h-1zM28 166h1v1h-1zM1 167h2v1h-2zM5 167h1v1h-1zM13 167h1v1h-1zM26 168h1v1h-1zM2 170h1v1h-1zM14 170h2v1h-2zM18 170h1v1h-1zM25 170h1v1h-1zM10 171h1v1h-1zM17 171h1v1h-1zM22 171h1v1h-1zM23 172h1v1h-1zM20 173h1v1h-1zM25 173h1v1h-1zM28 173h1v1h-1zM12 175h1v1h-1zM19 175h1v1h-1zM2 176h1v1h-1zM18 176h1v1h-1zM14 177h1v1h-1zM24 177h1v1h-1zM26 177h1v1h-1zM15 178h1v1h-1zM18 178h2v1h-2zM26 178h1v1h-1zM24 179h1v1h-1zM3 180h1v1h-1zM13 180h2v1h-2zM24 180h1v1h-1zM5 181h1v1h-1zM12 182h2v1h-2zM26 182h1v1h-1zM2 183h1v1h-1zM11 183h1v1h-1zM13 183h3v1h-3zM3 185h1v1h-1zM11 185h1v1h-1zM26 185h1v1h-1zM1 186h2v1h-2zM5 186h1v1h-1zM24 186h2v1h-2zM28 186h1v1h-1zM1 187h1v1h-1zM1 188h1v1h-1zM3 188h1v1h-1zM12 188h1v1h-1zM14 188h1v1h-1zM4 189h2v1h-2zM7 189h1v1h-1zM11 189h3v1h-3zM15 189h1v1h-1zM26 189h1v1h-1zM4 190h1v1h-1zM24 190h1v1h-1zM28 190h1v1h-1zM2 191h1v1h-1zM7 191h1v1h-1zM20 191h1v1h-1zM24 192h1v1h-1zM24 193h1v1h-1zM5 194h1v1h-1zM14 194h1v1h-1zM13 195h1v1h-1zM1 196h1v1h-1zM5 196h1v1h-1zM3 197h1v1h-1zM11 197h1v1h-1zM26 197h1v1h-1zM2 198h1v1h-1zM4 199h1v1h-1zM3 200h1v1h-1zM7 200h1v1h-1zM11 200h2v1h-2zM12 201h1v1h-1zM1 202h1v1h-1zM3 203h1v1h-1zM23 203h1v1h-1zM26 203h1v1h-1zM1 204h1v1h-1zM26 204h1v1h-1zM2 205h1v1h-1zM14 205h1v1h-1zM2 206h1v1h-1zM13 206h2v1h-2zM17 206h1v1h-1zM22 206h1v1h-1zM13 207h3v1h-3zM18 207h1v1h-1zM26 207h1v1h-1zM1 208h1v1h-1zM4 208h1v1h-1zM9 208h1v1h-1zM12 208h1v1h-1zM14 208h2v1h-2zM24 209h1v1h-1zM28 209h1v1h-1zM1 210h1v1h-1zM7 210h1v1h-1zM28 210h1v1h-1zM1 211h1v1h-1zM5 211h1v1h-1zM14 211h1v1h-1zM29 211h1v1h-1zM5 212h1v1h-1zM18 212h1v1h-1zM2 213h1v1h-1zM4 214h2v1h-2zM11 214h1v1h-1zM13 214h1v1h-1zM15 214h1v1h-1zM2 215h1v1h-1zM4 215h1v1h-1zM9 215h1v1h-1zM13 215h2v1h-2zM6 216h1v1h-1zM26 216h1v1h-1zM11 217h1v1h-1zM15 217h1v1h-1zM18 217h1v1h-1zM2 218h1v1h-1zM13 218h3v1h-3zM28 218h1v1h-1zM4 219h1v1h-1zM14 219h1v1h-1zM19 219h1v1h-1zM10 220h1v1h-1zM18 220h3v1h-3zM28 220h2v1h-2zM2 221h1v1h-1zM13 221h1v1h-1zM13 222h3v1h-3zM1 223h1v1h-1zM6 223h1v1h-1zM12 223h4v1h-4zM19 223h1v1h-1zM1 224h1v1h-1zM5 224h1v1h-1zM13 224h1v1h-1zM13 225h3v1h-3zM23 225h1v1h-1zM29 225h1v1h-1zM21 227h1v1h-1zM20 228h1v1h-1zM24 228h1v1h-1zM26 228h1v1h-1zM13 229h1v1h-1zM8 230h1v1h-1zM13 230h1v1h-1zM6 231h1v1h-1zM13 231h1v1h-1zM1 232h1v1h-1zM11 232h3v1h-3zM15 232h1v1h-1zM2 233h1v1h-1zM5 233h1v1h-1zM13 233h1v1h-1zM3 234h1v1h-1zM12 234h1v1h-1zM14 234h1v1h-1zM11 235h1v1h-1zM13 235h2v1h-2zM2 236h1v1h-1zM15 236h1v1h-1zM19 236h1v1h-1zM4 237h1v1h-1zM12 237h1v1h-1zM18 238h1v1h-1zM1 239h1v1h-1zM28 239h1v1h-1zM2 240h1v1h-1zM2 241h1v1h-1zM19 241h1v1h-1zM24 241h1v1h-1zM26 241h1v1h-1zM1 242h1v1h-1zM4 242h1v1h-1zM8 242h1v1h-1zM12 242h1v1h-1zM14 242h1v1h-1zM4 244h1v1h-1zM7 244h1v1h-1zM10 244h1v1h-1zM13 244h1v1h-1zM3 245h1v1h-1zM5 245h1v1h-1zM7 245h1v1h-1zM10 245h1v1h-1zM14 245h1v1h-1zM10 246h2v1h-2zM19 246h1v1h-1zM26 246h1v1h-1zM2 247h1v1h-1zM5 247h1v1h-1zM10 247h3v1h-3zM14 247h2v1h-2zM9 248h3v1h-3zM13 248h1v1h-1zM25 248h1v1h-1zM29 248h1v1h-1zM4 249h2v1h-2zM15 251h1v1h-1zM3 252h1v1h-1zM11 252h1v1h-1zM12 253h1v1h-1zM15 253h1v1h-1zM24 253h1v1h-1zM28 253h1v1h-1zM5 254h1v1h-1zM10 254h1v1h-1zM28 254h1v1h-1zM18 255h2v1h-2zM25 255h1v1h-1zM26 256h1v1h-1zM5 257h1v1h-1zM29 257h1v1h-1z"/><path fill="#f3f4ff" d="M7 1h1v1h-1zM6 2h1v1h-1zM10 2h1v1h-1zM12 2h1v1h-1zM20 2h1v1h-1zM4 3h1v1h-1zM14 3h1v1h-1zM24 3h1v1h-1zM7 4h1v1h-1zM10 4h1v1h-1zM14 4h1v1h-1zM18 4h1v1h-1zM3 5h2v1h-2zM11 5h1v1h-1zM17 5h1v1h-1zM19 5h1v1h-1zM1 6h1v1h-1zM8 6h1v1h-1zM12 6h1v1h-1zM21 6h1v1h-1zM25 6h1v1h-1zM6 7h1v1h-1zM8 7h1v1h-1zM20 7h1v1h-1zM25 7h1v1h-1zM4 8h1v1h-1zM3 9h1v1h-1zM6 9h1v1h-1zM13 9h1v1h-1zM21 9h1v1h-1zM0 10h1v1h-1zM6 10h3v1h-3zM12 10h1v1h-1zM23 10h2v1h-2zM29 10h1v1h-1zM0 11h1v1h-1zM13 11h1v1h-1zM18 11h1v1h-1zM1 12h1v1h-1zM5 12h1v1h-1zM9 12h1v1h-1zM12 12h1v1h-1zM7 13h1v1h-1zM12 13h1v1h-1zM19 13h2v1h-2zM1 14h2v1h-2zM7 15h1v1h-1zM19 15h1v1h-1zM6 16h1v1h-1zM10 16h1v1h-1zM21 16h1v1h-1zM23 16h1v1h-1zM3 17h1v1h-1zM5 17h1v1h-1zM9 17h1v1h-1zM14 17h1v1h-1zM29 17h1v1h-1zM3 19h2v1h-2zM13 19h1v1h-1zM15 19h1v1h-1zM28 19h1v1h-1zM0 20h1v1h-1zM3 20h3v1h-3zM23 20h1v1h-1zM26 20h1v1h-1zM6 21h1v1h-1zM15 21h1v1h-1zM23 21h1v1h-1zM4 22h1v1h-1zM7 22h2v1h-2zM13 22h1v1h-1zM15 22h1v1h-1zM22 22h1v1h-1zM1 23h1v1h-1zM6 23h3v1h-3zM26 23h1v1h-1zM1 24h2v1h-2zM4 24h1v1h-1zM11 24h1v1h-1zM19 24h1v1h-1zM3 25h1v1h-1zM11 26h1v1h-1zM13 26h2v1h-2zM16 26h1v1h-1zM24 26h1v1h-1zM26 27h1v1h-1zM22 28h1v1h-1zM6 29h1v1h-1zM8 29h1v1h-1zM18 29h1v1h-1zM3 30h1v1h-1zM20 30h2v1h-2zM1 31h1v1h-1zM15 31h1v1h-1zM4 32h1v1h-1zM13 32h1v1h-1zM22 33h1v1h-1zM27 33h1v1h-1zM8 34h1v1h-1zM11 34h1v1h-1zM14 34h2v1h-2zM20 34h1v1h-1zM3 35h1v1h-1zM6 35h1v1h-1zM19 35h1v1h-1zM23 35h3v1h-3zM14 36h1v1h-1zM16 36h1v1h-1zM0 37h1v1h-1zM7 37h1v1h-1zM9 37h1v1h-1zM27 37h1v1h-1zM4 38h1v1h-1zM7 38h1v1h-1zM10 38h1v1h-1zM19 38h1v1h-1zM29 38h1v1h-1zM14 39h1v1h-1zM7 40h1v1h-1zM10 40h1v1h-1zM12 40h1v1h-1zM2 41h2v1h-2zM8 41h2v1h-2zM22 42h1v1h-1zM19 43h1v1h-1zM27 43h1v1h-1zM1 44h2v1h-2zM18 44h1v1h-1zM20 44h2v1h-2zM3 45h1v1h-1zM16 45h1v1h-1zM22 45h1v1h-1zM1 46h1v1h-1zM5 46h1v1h-1zM11 46h1v1h-1zM25 46h1v1h-1zM28 47h1v1h-1zM0 48h1v1h-1zM2 48h2v1h-2zM10 48h1v1h-1zM14 49h2v1h-2zM26 49h1v1h-1zM28 49h1v1h-1zM18 50h1v1h-1zM10 51h1v1h-1zM18 51h1v1h-1zM21 51h1v1h-1zM25 51h1v1h-1zM29 51h1v1h-1zM8 52h1v1h-1zM28 52h1v1h-1zM9 53h1v1h-1zM15 53h1v1h-1zM23 53h1v1h-1zM26 53h1v1h-1zM11 54h3v1h-3zM25 54h1v1h-1zM2 55h1v1h-1zM24 55h1v1h-1zM26 55h1v1h-1zM28 55h1v1h-1zM2 56h1v1h-1zM6 56h1v1h-1zM10 56h1v1h-1zM2 57h1v1h-1zM4 57h1v1h-1zM8 57h1v1h-1zM24 57h1v1h-1zM5 58h1v1h-1zM9 58h1v1h-1zM11 58h1v1h-1zM3 59h1v1h-1zM9 59h1v1h-1zM14 59h1v1h-1zM2 60h1v1h-1zM10 60h2v1h-2zM20 60h1v1h-1zM28 60h1v1h-1zM11 61h1v1h-1zM15 61h1v1h-1zM21 61h1v1h-1zM28 61h1v1h-1zM19 62h1v1h-1zM21 62h1v1h-1zM25 62h1v1h-1zM18 63h2v1h-2zM25 63h1v1h-1zM11 64h2v1h-2zM15 64h1v1h-1zM26 64h1v1h-1zM29 64h1v1h-1zM6 65h1v1h-1zM18 65h2v1h-2zM25 65h2v1h-2zM24 66h2v1h-2zM28 66h1v1h-1zM12 67h1v1h-1zM24 67h3v1h-3zM23 68h1v1h-1zM25 68h1v1h-1zM2 69h1v1h-1zM22 69h1v1h-1zM4 70h1v1h-1zM11 70h1v1h-1zM28 70h1v1h-1zM6 71h1v1h-1zM14 71h1v1h-1zM28 71h1v1h-1zM2 72h1v1h-1zM10 72h1v1h-1zM28 72h1v1h-1zM5 73h1v1h-1zM8 73h2v1h-2zM11 74h2v1h-2zM28 74h1v1h-1zM12 75h1v1h-1zM19 75h2v1h-2zM22 75h2v1h-2zM26 75h1v1h-1zM2 76h1v1h-1zM18 76h1v1h-1zM24 76h3v1h-3zM2 78h1v1h-1zM10 78h1v1h-1zM12 78h1v1h-1zM26 78h1v1h-1zM28 78h1v1h-1zM10 79h1v1h-1zM20 79h1v1h-1zM23 80h1v1h-1zM2 81h1v1h-1zM15 81h1v1h-1zM21 81h1v1h-1zM23 82h1v1h-1zM26 82h1v1h-1zM2 83h1v1h-1zM9 83h1v1h-1zM19 83h1v1h-1zM6 84h1v1h-1zM19 85h1v1h-1zM28 85h1v1h-1zM29 86h1v1h-1zM2 87h1v1h-1zM9 87h1v1h-1zM18 87h1v1h-1zM25 87h1v1h-1zM15 88h1v1h-1zM9 89h3v1h-3zM13 89h1v1h-1zM5 90h3v1h-3zM9 90h1v1h-1zM24 90h1v1h-1zM24 91h1v1h-1zM2 92h1v1h-1zM10 92h1v1h-1zM13 92h2v1h-2zM11 93h1v1h-1zM18 93h1v1h-1zM23 93h1v1h-1zM25 93h1v1h-1zM5 94h2v1h-2zM19 94h1v1h-1zM2 95h1v1h-1zM5 95h1v1h-1zM2 96h1v1h-1zM9 96h1v1h-1zM23 96h1v1h-1zM25 96h1v1h-1zM10 97h1v1h-1zM19 97h2v1h-2zM26 97h1v1h-1zM2 98h1v1h-1zM20 98h1v1h-1zM25 98h2v1h-2zM18 99h1v1h-1zM23 99h1v1h-1zM18 100h2v1h-2zM25 100h1v1h-1zM28 100h1v1h-1zM2 101h1v1h-1zM10 101h1v1h-1zM22 101h2v1h-2zM27 101h1v1h-1zM29 101h1v1h-1zM25 102h1v1h-1zM10 103h1v1h-1zM12 103h1v1h-1zM25 103h1v1h-1zM28 103h1v1h-1zM7 104h1v1h-1zM10 104h1v1h-1zM11 105h1v1h-1zM6 106h1v1h-1zM9 106h1v1h-1zM25 106h1v1h-1zM28 106h2v1h-2zM19 107h1v1h-1zM2 108h1v1h-1zM15 108h1v1h-1zM28 108h1v1h-1zM5 109h1v1h-1zM9 109h1v1h-1zM18 109h2v1h-2zM24 109h1v1h-1zM5 110h1v1h-1zM11 110h1v1h-1zM13 110h1v1h-1zM18 110h1v1h-1zM9 111h2v1h-2zM18 111h1v1h-1zM23 111h1v1h-1zM26 111h1v1h-1zM2 112h1v1h-1zM11 113h1v1h-1zM3 114h1v1h-1zM9 114h1v1h-1zM23 114h1v1h-1zM4 115h1v1h-1zM9 115h2v1h-2zM12 115h1v1h-1zM3 116h1v1h-1zM6 116h1v1h-1zM10 116h1v1h-1zM5 117h1v1h-1zM8 117h1v1h-1zM11 117h1v1h-1zM15 117h1v1h-1zM18 117h2v1h-2zM28 117h1v1h-1zM2 118h1v1h-1zM8 118h2v1h-2zM13 118h2v1h-2zM19 119h1v1h-1zM26 119h1v1h-1zM10 120h1v1h-1zM18 120h3v1h-3zM24 120h2v1h-2zM29 120h1v1h-1zM21 121h1v1h-1zM29 121h1v1h-1zM18 122h1v1h-1zM23 122h1v1h-1zM14 123h1v1h-1zM19 123h1v1h-1zM19 124h2v1h-2zM25 124h1v1h-1zM10 125h1v1h-1zM9 126h1v1h-1zM27 126h1v1h-1zM23 127h1v1h-1zM28 127h2v1h-2zM27 129h1v1h-1zM12 130h1v1h-1zM15 130h1v1h-1zM24 130h1v1h-1zM29 130h1v1h-1zM23 131h1v1h-1zM29 131h1v1h-1zM2 132h1v1h-1zM12 132h1v1h-1zM10 133h1v1h-1zM19 133h1v1h-1zM10 134h2v1h-2zM28 134h1v1h-1zM28 135h1v1h-1zM19 136h1v1h-1zM23 136h1v1h-1zM10 140h1v1h-1zM18 140h2v1h-2zM24 140h2v1h-2zM2 141h1v1h-1zM10 141h1v1h-1zM14 141h1v1h-1zM26 141h2v1h-2zM14 142h1v1h-1zM19 142h1v1h-1zM10 143h1v1h-1zM29 143h1v1h-1zM15 144h1v1h-1zM21 144h1v1h-1zM24 144h1v1h-1zM27 144h1v1h-1zM14 145h1v1h-1zM22 146h1v1h-1zM10 147h1v1h-1zM23 147h3v1h-3zM23 148h2v1h-2zM22 149h1v1h-1zM24 149h1v1h-1zM2 150h1v1h-1zM20 150h1v1h-1zM22 150h1v1h-1zM6 151h1v1h-1zM24 151h1v1h-1zM17 152h1v1h-1zM19 152h1v1h-1zM24 152h1v1h-1zM28 152h1v1h-1zM2 153h1v1h-1zM24 153h1v1h-1zM21 154h1v1h-1zM24 154h1v1h-1zM26 154h1v1h-1zM29 154h1v1h-1zM15 155h1v1h-1zM20 155h1v1h-1zM25 155h2v1h-2zM3 156h1v1h-1zM10 156h1v1h-1zM13 156h1v1h-1zM15 156h1v1h-1zM10 157h1v1h-1zM29 157h1v1h-1zM14 158h1v1h-1zM9 159h1v1h-1zM13 159h1v1h-1zM29 159h1v1h-1zM3 160h1v1h-1zM24 160h1v1h-1zM26 160h1v1h-1zM11 161h1v1h-1zM10 162h1v1h-1zM14 162h1v1h-1zM19 162h1v1h-1zM21 162h1v1h-1zM2 163h1v1h-1zM15 163h1v1h-1zM19 163h1v1h-1zM20 164h1v1h-1zM25 164h1v1h-1zM10 165h1v1h-1zM21 165h1v1h-1zM25 165h1v1h-1zM2 166h1v1h-1zM13 166h1v1h-1zM18 167h2v1h-2zM25 167h1v1h-1zM2 168h1v1h-1zM13 168h1v1h-1zM15 168h1v1h-1zM23 168h1v1h-1zM28 168h1v1h-1zM14 169h1v1h-1zM19 169h1v1h-1zM10 170h1v1h-1zM20 170h1v1h-1zM15 171h1v1h-1zM19 171h1v1h-1zM21 171h1v1h-1zM23 171h1v1h-1zM25 171h1v1h-1zM17 172h1v1h-1zM25 172h1v1h-1zM28 172h1v1h-1zM2 173h1v1h-1zM27 173h1v1h-1zM2 174h1v1h-1zM11 174h1v1h-1zM22 174h1v1h-1zM24 174h1v1h-1zM26 174h1v1h-1zM29 175h1v1h-1zM15 176h1v1h-1zM23 176h1v1h-1zM27 176h1v1h-1zM15 177h1v1h-1zM19 177h1v1h-1zM2 178h1v1h-1zM22 178h2v1h-2zM13 179h2v1h-2zM18 179h2v1h-2zM27 179h1v1h-1zM29 179h1v1h-1zM10 180h1v1h-1zM18 180h1v1h-1zM25 180h1v1h-1zM29 180h1v1h-1zM10 181h2v1h-2zM13 181h1v1h-1zM18 181h2v1h-2zM26 181h1v1h-1zM24 182h1v1h-1zM28 182h1v1h-1zM3 183h1v1h-1zM10 183h1v1h-1zM19 183h2v1h-2zM25 183h1v1h-1zM2 184h1v1h-1zM19 184h1v1h-1zM12 186h1v1h-1zM18 186h1v1h-1zM26 186h1v1h-1zM26 187h1v1h-1zM10 188h1v1h-1zM15 188h1v1h-1zM28 188h2v1h-2zM2 189h1v1h-1zM29 189h1v1h-1zM1 190h1v1h-1zM10 190h1v1h-1zM15 190h1v1h-1zM19 190h1v1h-1zM21 190h1v1h-1zM29 190h1v1h-1zM1 191h1v1h-1zM19 191h1v1h-1zM25 191h1v1h-1zM27 191h1v1h-1zM2 192h1v1h-1zM10 192h1v1h-1zM25 192h1v1h-1zM11 193h1v1h-1zM19 193h1v1h-1zM22 193h2v1h-2zM29 193h1v1h-1zM2 194h1v1h-1zM19 194h1v1h-1zM24 194h1v1h-1zM29 194h1v1h-1zM3 195h1v1h-1zM5 195h1v1h-1zM10 195h1v1h-1zM28 195h1v1h-1zM9 196h1v1h-1zM14 196h1v1h-1zM20 196h1v1h-1zM1 197h1v1h-1zM4 197h1v1h-1zM20 198h1v1h-1zM23 198h1v1h-1zM1 199h1v1h-1zM15 199h1v1h-1zM24 199h1v1h-1zM5 201h1v1h-1zM9 201h1v1h-1zM19 201h1v1h-1zM4 202h1v1h-1zM26 202h1v1h-1zM2 203h1v1h-1zM10 203h1v1h-1zM18 203h1v1h-1zM22 203h1v1h-1zM24 203h1v1h-1zM2 204h1v1h-1zM11 204h1v1h-1zM13 204h1v1h-1zM15 204h1v1h-1zM18 204h2v1h-2zM25 204h1v1h-1zM12 205h1v1h-1zM15 205h1v1h-1zM28 205h1v1h-1zM1 206h1v1h-1zM24 206h1v1h-1zM29 206h1v1h-1zM20 207h1v1h-1zM5 208h1v1h-1zM10 208h1v1h-1zM2 209h1v1h-1zM12 209h1v1h-1zM19 209h1v1h-1zM19 210h1v1h-1zM26 210h1v1h-1zM2 211h1v1h-1zM13 211h1v1h-1zM20 211h1v1h-1zM28 211h1v1h-1zM4 212h1v1h-1zM19 212h1v1h-1zM26 212h1v1h-1zM28 212h1v1h-1zM10 213h1v1h-1zM19 213h1v1h-1zM28 213h1v1h-1zM8 214h1v1h-1zM10 214h1v1h-1zM26 214h1v1h-1zM28 214h1v1h-1zM1 215h1v1h-1zM10 215h1v1h-1zM15 215h1v1h-1zM24 215h1v1h-1zM28 215h1v1h-1zM20 216h2v1h-2zM28 216h1v1h-1zM2 217h1v1h-1zM10 217h1v1h-1zM13 217h1v1h-1zM28 217h1v1h-1zM23 218h1v1h-1zM18 219h1v1h-1zM25 219h1v1h-1zM22 220h2v1h-2zM6 221h1v1h-1zM14 221h1v1h-1zM19 221h1v1h-1zM28 221h2v1h-2zM3 222h1v1h-1zM9 224h1v1h-1zM14 224h1v1h-1zM24 224h1v1h-1zM26 224h1v1h-1zM3 225h2v1h-2zM28 225h1v1h-1zM24 226h1v1h-1zM18 227h1v1h-1zM10 228h1v1h-1zM28 228h1v1h-1zM3 229h1v1h-1zM4 230h1v1h-1zM25 230h2v1h-2zM10 231h1v1h-1zM26 231h1v1h-1zM14 232h1v1h-1zM20 232h1v1h-1zM3 233h1v1h-1zM6 233h1v1h-1zM12 233h1v1h-1zM15 233h1v1h-1zM24 233h1v1h-1zM5 234h1v1h-1zM13 234h1v1h-1zM15 234h1v1h-1zM3 235h3v1h-3zM8 235h1v1h-1zM19 235h1v1h-1zM24 235h2v1h-2zM3 236h1v1h-1zM24 236h1v1h-1zM10 237h1v1h-1zM17 237h1v1h-1zM19 237h1v1h-1zM3 238h1v1h-1zM14 238h1v1h-1zM24 238h1v1h-1zM26 238h1v1h-1zM10 239h1v1h-1zM18 239h2v1h-2zM25 239h2v1h-2zM29 239h1v1h-1zM5 240h1v1h-1zM10 240h1v1h-1zM12 240h1v1h-1zM20 240h1v1h-1zM28 240h1v1h-1zM4 241h1v1h-1zM12 241h1v1h-1zM28 241h2v1h-2zM2 242h1v1h-1zM10 242h1v1h-1zM15 242h1v1h-1zM9 243h1v1h-1zM13 243h1v1h-1zM15 243h1v1h-1zM1 244h1v1h-1zM5 244h1v1h-1zM11 244h1v1h-1zM1 245h1v1h-1zM13 245h1v1h-1zM26 245h1v1h-1zM25 246h1v1h-1zM18 247h2v1h-2zM26 247h1v1h-1zM28 247h1v1h-1zM8 248h1v1h-1zM12 248h1v1h-1zM15 248h1v1h-1zM24 248h1v1h-1zM26 248h1v1h-1zM28 248h1v1h-1zM11 249h1v1h-1zM13 249h1v1h-1zM10 250h1v1h-1zM19 250h1v1h-1zM3 251h1v1h-1zM9 251h1v1h-1zM11 251h1v1h-1zM26 251h1v1h-1zM28 251h1v1h-1zM26 252h1v1h-1zM3 253h1v1h-1zM10 253h1v1h-1zM14 253h1v1h-1zM26 253h1v1h-1zM19 254h4v1h-4zM24 254h1v1h-1zM10 255h1v1h-1zM20 255h1v1h-1zM23 256h1v1h-1zM25 256h1v1h-1zM27 256h1v1h-1zM29 256h1v1h-1zM3 257h1v1h-1zM11 257h1v1h-1zM14 257h2v1h-2z"/><path fill="#eb9f9f" d="M17 1h1v1h-1zM25 2h1v1h-1zM26 6h1v1h-1zM26 7h1v1h-1zM26 8h1v1h-1zM26 40h1v1h-1zM1 62h1v1h-1zM1 74h1v1h-1zM1 78h1v1h-1zM1 79h1v1h-1zM1 81h1v1h-1zM1 84h1v1h-1zM1 86h1v1h-1zM1 96h1v1h-1zM1 97h1v1h-1zM1 99h1v1h-1zM0 102h1v1h-1zM0 126h1v1h-1zM1 127h1v1h-1zM1 130h1v1h-1zM1 133h1v1h-1zM9 171h1v1h-1zM20 172h1v1h-1zM1 178h1v1h-1zM9 186h1v1h-1zM0 200h1v1h-1zM7 203h1v1h-1zM7 227h1v1h-1zM1 254h1v1h-1z"/><path fill="#faeaea" d="M18 1h1v1h-1zM22 1h1v1h-1zM24 1h1v1h-1zM16 2h1v1h-1zM1 3h1v1h-1zM18 3h1v1h-1zM24 4h1v1h-1zM23 5h1v1h-1zM25 5h1v1h-1zM16 6h1v1h-1zM18 8h1v1h-1zM22 8h1v1h-1zM25 8h1v1h-1zM28 8h1v1h-1zM25 10h1v1h-1zM27 10h2v1h-2zM24 11h1v1h-1zM18 12h1v1h-1zM24 12h1v1h-1zM15 13h1v1h-1zM23 13h1v1h-1zM18 14h1v1h-1zM28 14h1v1h-1zM26 15h1v1h-1zM29 15h1v1h-1zM17 16h2v1h-2zM15 17h1v1h-1zM25 19h2v1h-2zM20 20h1v1h-1zM25 20h1v1h-1zM18 21h1v1h-1zM29 21h1v1h-1zM25 22h1v1h-1zM19 25h1v1h-1zM15 26h1v1h-1zM19 27h1v1h-1zM21 27h1v1h-1zM29 27h1v1h-1zM16 28h2v1h-2zM2 29h1v1h-1zM15 30h1v1h-1zM19 30h1v1h-1zM22 30h1v1h-1zM25 30h1v1h-1zM16 31h1v1h-1zM18 31h1v1h-1zM26 33h1v1h-1zM17 34h1v1h-1zM15 36h1v1h-1zM21 36h1v1h-1zM27 36h1v1h-1zM19 37h1v1h-1zM23 37h1v1h-1zM25 38h1v1h-1zM16 39h1v1h-1zM21 39h1v1h-1zM18 40h1v1h-1zM20 41h1v1h-1zM22 41h1v1h-1zM25 41h1v1h-1zM15 42h1v1h-1zM21 42h1v1h-1zM17 43h1v1h-1zM23 43h1v1h-1zM16 44h1v1h-1zM17 45h1v1h-1zM20 45h1v1h-1zM24 45h1v1h-1zM15 46h1v1h-1zM5 47h2v1h-2zM8 47h2v1h-2zM7 48h2v1h-2zM11 48h1v1h-1zM14 48h1v1h-1zM6 49h2v1h-2zM11 49h1v1h-1zM14 50h1v1h-1zM8 51h2v1h-2zM12 51h1v1h-1zM14 51h1v1h-1zM3 52h3v1h-3zM9 52h1v1h-1zM13 52h2v1h-2zM3 53h1v1h-1zM6 53h1v1h-1zM18 53h1v1h-1zM6 55h2v1h-2zM0 56h1v1h-1zM3 57h1v1h-1zM6 57h1v1h-1zM3 58h2v1h-2zM7 58h1v1h-1zM12 58h1v1h-1zM4 59h1v1h-1zM4 60h1v1h-1zM6 60h1v1h-1zM8 61h1v1h-1zM12 61h1v1h-1zM26 61h1v1h-1zM10 62h1v1h-1zM13 62h1v1h-1zM7 63h1v1h-1zM9 63h1v1h-1zM2 64h1v1h-1zM5 64h1v1h-1zM7 64h1v1h-1zM10 64h1v1h-1zM23 64h1v1h-1zM8 65h2v1h-2zM11 65h2v1h-2zM28 65h1v1h-1zM4 66h1v1h-1zM12 66h3v1h-3zM29 66h1v1h-1zM5 67h1v1h-1zM8 67h1v1h-1zM2 68h1v1h-1zM6 68h1v1h-1zM8 68h1v1h-1zM14 68h1v1h-1zM28 68h1v1h-1zM6 69h1v1h-1zM8 69h2v1h-2zM11 69h1v1h-1zM19 69h1v1h-1zM28 69h1v1h-1zM14 70h1v1h-1zM3 71h1v1h-1zM3 72h1v1h-1zM7 72h1v1h-1zM9 72h1v1h-1zM3 73h1v1h-1zM6 73h2v1h-2zM4 74h1v1h-1zM3 75h1v1h-1zM8 75h2v1h-2zM4 76h1v1h-1zM14 76h1v1h-1zM2 77h1v1h-1zM7 77h1v1h-1zM13 77h1v1h-1zM19 77h1v1h-1zM25 77h1v1h-1zM13 78h1v1h-1zM7 79h1v1h-1zM11 79h1v1h-1zM5 80h1v1h-1zM7 80h1v1h-1zM11 80h1v1h-1zM7 81h1v1h-1zM10 81h1v1h-1zM12 81h1v1h-1zM3 83h1v1h-1zM5 83h2v1h-2zM4 84h1v1h-1zM9 84h1v1h-1zM13 84h1v1h-1zM26 84h1v1h-1zM9 85h1v1h-1zM13 85h1v1h-1zM24 85h1v1h-1zM6 86h2v1h-2zM4 87h1v1h-1zM7 87h1v1h-1zM11 87h1v1h-1zM9 88h1v1h-1zM14 90h1v1h-1zM3 92h1v1h-1zM8 93h2v1h-2zM11 95h1v1h-1zM6 96h1v1h-1zM2 97h1v1h-1zM8 97h2v1h-2zM11 97h1v1h-1zM9 98h1v1h-1zM28 98h1v1h-1zM14 99h1v1h-1zM3 100h1v1h-1zM13 100h1v1h-1zM9 101h1v1h-1zM12 101h1v1h-1zM7 102h1v1h-1zM10 102h1v1h-1zM12 102h1v1h-1zM6 103h1v1h-1zM9 103h1v1h-1zM4 104h1v1h-1zM14 104h1v1h-1zM9 105h1v1h-1zM12 106h3v1h-3zM3 107h5v1h-5zM14 107h1v1h-1zM18 107h1v1h-1zM1 108h1v1h-1zM4 108h2v1h-2zM3 109h2v1h-2zM6 109h1v1h-1zM4 110h1v1h-1zM6 110h1v1h-1zM9 110h1v1h-1zM12 110h1v1h-1zM4 112h2v1h-2zM8 112h2v1h-2zM4 113h1v1h-1zM11 114h1v1h-1zM13 114h1v1h-1zM2 115h2v1h-2zM6 115h1v1h-1zM14 116h1v1h-1zM3 118h1v1h-1zM4 119h1v1h-1zM6 119h1v1h-1zM9 119h1v1h-1zM12 119h1v1h-1zM4 120h1v1h-1zM11 120h2v1h-2zM23 120h1v1h-1zM3 121h1v1h-1zM5 121h1v1h-1zM7 121h1v1h-1zM9 121h1v1h-1zM11 122h1v1h-1zM14 122h1v1h-1zM28 122h1v1h-1zM5 123h1v1h-1zM29 123h1v1h-1zM11 125h1v1h-1zM5 126h1v1h-1zM12 126h1v1h-1zM26 126h1v1h-1zM2 127h2v1h-2zM15 127h1v1h-1zM26 127h1v1h-1zM9 128h1v1h-1zM26 128h1v1h-1zM6 129h1v1h-1zM9 129h1v1h-1zM13 129h2v1h-2zM24 129h1v1h-1zM2 130h1v1h-1zM11 130h1v1h-1zM19 130h1v1h-1zM5 131h1v1h-1zM7 131h1v1h-1zM12 131h1v1h-1zM14 131h1v1h-1zM3 132h1v1h-1zM11 132h1v1h-1zM8 133h1v1h-1zM25 133h1v1h-1zM13 134h1v1h-1zM6 135h1v1h-1zM12 135h1v1h-1zM1 136h1v1h-1zM3 136h3v1h-3zM4 138h1v1h-1zM9 138h1v1h-1zM2 139h2v1h-2zM12 139h1v1h-1zM2 140h1v1h-1zM5 140h1v1h-1zM7 140h1v1h-1zM9 140h1v1h-1zM14 140h1v1h-1zM1 141h1v1h-1zM4 141h1v1h-1zM5 142h1v1h-1zM13 143h1v1h-1zM2 144h1v1h-1zM6 144h1v1h-1zM10 144h1v1h-1zM13 145h1v1h-1zM28 145h1v1h-1zM10 146h2v1h-2zM13 146h2v1h-2zM26 146h1v1h-1zM11 147h2v1h-2zM3 148h1v1h-1zM10 148h1v1h-1zM19 148h1v1h-1zM5 149h1v1h-1zM11 149h1v1h-1zM10 150h1v1h-1zM13 150h1v1h-1zM19 150h1v1h-1zM4 151h1v1h-1zM7 151h1v1h-1zM12 151h1v1h-1zM7 152h1v1h-1zM13 152h2v1h-2zM4 153h1v1h-1zM7 153h1v1h-1zM12 153h2v1h-2zM2 154h3v1h-3zM13 154h2v1h-2zM28 154h1v1h-1zM2 155h1v1h-1zM18 155h1v1h-1zM5 156h2v1h-2zM12 157h1v1h-1zM6 158h1v1h-1zM12 158h1v1h-1zM26 158h1v1h-1zM3 159h1v1h-1zM5 159h2v1h-2zM8 160h1v1h-1zM13 160h1v1h-1zM4 161h1v1h-1zM8 161h1v1h-1zM10 161h1v1h-1zM13 161h1v1h-1zM4 162h1v1h-1zM6 162h1v1h-1zM8 162h1v1h-1zM11 162h1v1h-1zM3 163h1v1h-1zM13 163h2v1h-2zM2 164h1v1h-1zM12 164h3v1h-3zM24 164h1v1h-1zM28 164h1v1h-1zM4 165h1v1h-1zM14 165h1v1h-1zM28 165h1v1h-1zM6 166h1v1h-1zM3 167h1v1h-1zM8 167h1v1h-1zM11 167h1v1h-1zM1 168h1v1h-1zM8 169h1v1h-1zM11 169h3v1h-3zM28 169h1v1h-1zM1 170h1v1h-1zM13 170h1v1h-1zM3 171h1v1h-1zM11 171h1v1h-1zM14 172h1v1h-1zM21 172h1v1h-1zM7 173h1v1h-1zM12 173h1v1h-1zM14 173h1v1h-1zM9 174h1v1h-1zM14 174h1v1h-1zM5 175h1v1h-1zM3 176h2v1h-2zM10 176h2v1h-2zM14 176h1v1h-1zM11 177h1v1h-1zM5 178h1v1h-1zM10 178h1v1h-1zM12 178h1v1h-1zM1 179h1v1h-1zM8 179h1v1h-1zM25 179h2v1h-2zM14 181h1v1h-1zM10 182h1v1h-1zM14 182h2v1h-2zM1 183h1v1h-1zM4 183h1v1h-1zM9 183h1v1h-1zM1 184h1v1h-1zM3 184h1v1h-1zM15 184h1v1h-1zM4 185h3v1h-3zM19 185h1v1h-1zM4 186h1v1h-1zM13 186h1v1h-1zM15 186h1v1h-1zM6 187h1v1h-1zM12 187h1v1h-1zM4 188h1v1h-1zM7 188h1v1h-1zM8 189h1v1h-1zM14 189h1v1h-1zM8 190h1v1h-1zM12 190h1v1h-1zM29 191h1v1h-1zM1 192h1v1h-1zM3 192h1v1h-1zM14 192h1v1h-1zM1 193h1v1h-1zM12 193h2v1h-2zM28 193h1v1h-1zM3 194h1v1h-1zM8 194h1v1h-1zM26 194h1v1h-1zM4 195h1v1h-1zM14 195h1v1h-1zM4 196h1v1h-1zM11 196h1v1h-1zM12 197h1v1h-1zM14 197h1v1h-1zM11 198h1v1h-1zM15 198h1v1h-1zM26 198h1v1h-1zM2 199h1v1h-1zM5 199h1v1h-1zM7 199h1v1h-1zM9 199h1v1h-1zM11 199h1v1h-1zM1 201h1v1h-1zM4 201h1v1h-1zM5 202h1v1h-1zM13 202h1v1h-1zM11 203h1v1h-1zM15 203h1v1h-1zM5 204h2v1h-2zM14 204h1v1h-1zM26 205h1v1h-1zM5 206h1v1h-1zM10 206h3v1h-3zM7 207h1v1h-1zM3 209h1v1h-1zM5 209h1v1h-1zM13 209h1v1h-1zM3 210h1v1h-1zM11 210h1v1h-1zM2 212h1v1h-1zM9 212h1v1h-1zM11 212h5v1h-5zM29 212h1v1h-1zM1 213h1v1h-1zM11 213h1v1h-1zM13 213h1v1h-1zM1 214h1v1h-1zM12 214h1v1h-1zM7 215h1v1h-1zM1 216h1v1h-1zM5 216h1v1h-1zM10 216h1v1h-1zM14 216h1v1h-1zM5 217h2v1h-2zM3 218h1v1h-1zM5 218h1v1h-1zM11 218h2v1h-2zM1 219h1v1h-1zM3 219h1v1h-1zM11 219h1v1h-1zM13 219h1v1h-1zM11 220h1v1h-1zM26 220h1v1h-1zM3 221h1v1h-1zM8 221h1v1h-1zM11 221h1v1h-1zM24 221h1v1h-1zM4 222h1v1h-1zM28 222h1v1h-1zM9 223h1v1h-1zM19 225h1v1h-1zM26 225h1v1h-1zM13 226h1v1h-1zM19 226h1v1h-1zM13 227h1v1h-1zM22 227h1v1h-1zM24 227h1v1h-1zM2 228h1v1h-1zM12 228h1v1h-1zM14 228h2v1h-2zM4 229h1v1h-1zM7 229h1v1h-1zM9 229h1v1h-1zM9 230h1v1h-1zM12 230h1v1h-1zM8 231h2v1h-2zM7 232h1v1h-1zM9 232h1v1h-1zM6 234h2v1h-2zM11 234h1v1h-1zM6 235h1v1h-1zM4 236h1v1h-1zM6 237h2v1h-2zM26 237h1v1h-1zM1 238h1v1h-1zM4 238h2v1h-2zM13 238h1v1h-1zM15 238h1v1h-1zM3 239h1v1h-1zM14 239h2v1h-2zM11 240h1v1h-1zM15 240h1v1h-1zM26 240h1v1h-1zM11 241h1v1h-1zM14 241h1v1h-1zM25 241h1v1h-1zM6 242h1v1h-1zM1 243h1v1h-1zM3 243h2v1h-2zM6 244h1v1h-1zM2 246h2v1h-2zM1 247h1v1h-1zM6 247h2v1h-2zM9 247h1v1h-1zM13 247h1v1h-1zM4 248h1v1h-1zM6 250h1v1h-1zM8 250h1v1h-1zM13 250h1v1h-1zM5 251h1v1h-1zM7 251h2v1h-2zM13 251h1v1h-1zM5 252h1v1h-1zM13 252h1v1h-1zM7 253h1v1h-1zM9 253h1v1h-1zM11 253h1v1h-1zM29 253h1v1h-1zM11 254h1v1h-1zM25 254h1v1h-1zM2 255h1v1h-1zM14 255h2v1h-2zM26 255h1v1h-1zM28 255h1v1h-1zM2 256h1v1h-1zM8 256h1v1h-1zM10 256h1v1h-1zM13 256h1v1h-1zM4 257h1v1h-1zM6 257h1v1h-1zM12 257h1v1h-1z"/><path fill="#edaaaa" d="M19 1h1v1h-1zM27 1h1v1h-1zM29 1h1v1h-1zM29 4h1v1h-1zM15 7h1v1h-1zM19 9h1v1h-1zM26 9h1v1h-1zM18 10h1v1h-1zM26 14h1v1h-1zM27 21h1v1h-1zM29 41h1v1h-1zM17 42h1v1h-1zM26 43h1v1h-1zM1 52h1v1h-1zM1 57h1v1h-1zM0 61h1v1h-1zM1 72h1v1h-1zM1 73h1v1h-1zM1 76h1v1h-1zM1 82h1v1h-1zM1 83h1v1h-1zM1 98h1v1h-1zM1 101h1v1h-1zM0 108h1v1h-1zM1 110h1v1h-1zM1 112h1v1h-1zM0 117h1v1h-1zM1 121h1v1h-1zM1 123h1v1h-1zM1 124h1v1h-1zM1 126h1v1h-1zM6 146h1v1h-1zM2 148h1v1h-1zM4 148h1v1h-1zM7 150h1v1h-1zM8 154h1v1h-1zM1 155h1v1h-1zM9 169h1v1h-1zM9 173h1v1h-1zM1 175h1v1h-1zM6 176h1v1h-1zM9 184h1v1h-1zM1 248h1v1h-1zM6 251h1v1h-1z"/><path fill="#d94a4a" d="M26 3h1v1h-1zM26 5h1v1h-1zM0 96h1v1h-1zM0 106h1v1h-1zM0 121h1v1h-1zM0 125h1v1h-1zM0 130h1v1h-1zM0 132h1v1h-1zM0 148h1v1h-1zM0 169h1v1h-1zM0 178h1v1h-1zM0 185h1v1h-1zM0 188h1v1h-1zM0 196h1v1h-1zM0 202h1v1h-1zM0 228h1v1h-1zM0 247h1v1h-1zM0 248h1v1h-1zM0 250h1v1h-1z"/><path fill="#adb1ff" d="M23 12h1v1h-1zM23 19h1v1h-1zM0 23h1v1h-1zM0 25h1v1h-1zM21 32h1v1h-1zM3 40h1v1h-1zM21 41h1v1h-1zM22 47h1v1h-1zM21 50h1v1h-1zM21 52h1v1h-1zM27 54h1v1h-1zM22 56h1v1h-1zM25 56h1v1h-1zM17 57h1v1h-1zM19 57h1v1h-1zM22 57h1v1h-1zM25 57h1v1h-1zM27 57h1v1h-1zM16 58h1v1h-1zM16 59h1v1h-1zM16 60h1v1h-1zM17 61h1v1h-1zM21 67h1v1h-1zM21 70h1v1h-1zM26 70h1v1h-1zM15 72h2v1h-2zM16 73h1v1h-1zM21 74h1v1h-1zM23 74h1v1h-1zM21 79h1v1h-1zM27 79h1v1h-1zM17 82h1v1h-1zM21 82h1v1h-1zM22 86h1v1h-1zM17 87h1v1h-1zM17 88h1v1h-1zM15 90h1v1h-1zM22 91h1v1h-1zM27 91h1v1h-1zM18 92h1v1h-1zM17 93h1v1h-1zM27 95h1v1h-1zM16 96h1v1h-1zM15 100h2v1h-2zM16 103h1v1h-1zM17 105h1v1h-1zM17 107h1v1h-1zM17 108h1v1h-1zM23 108h1v1h-1zM15 110h1v1h-1zM16 111h1v1h-1zM22 111h1v1h-1zM16 112h1v1h-1zM17 113h1v1h-1zM17 114h1v1h-1zM19 114h1v1h-1zM20 115h1v1h-1zM22 115h1v1h-1zM23 116h1v1h-1zM27 116h1v1h-1zM17 117h1v1h-1zM22 117h1v1h-1zM27 117h1v1h-1zM21 118h1v1h-1zM17 128h1v1h-1zM22 131h1v1h-1zM17 132h1v1h-1zM16 134h2v1h-2zM21 134h1v1h-1zM29 136h1v1h-1zM16 139h1v1h-1zM16 140h1v1h-1zM21 141h1v1h-1zM16 144h1v1h-1zM16 145h1v1h-1zM16 147h2v1h-2zM17 149h1v1h-1zM16 154h1v1h-1zM16 160h1v1h-1zM20 160h1v1h-1zM22 160h1v1h-1zM25 162h1v1h-1zM16 163h1v1h-1zM15 166h1v1h-1zM20 167h1v1h-1zM16 168h1v1h-1zM16 169h1v1h-1zM17 170h1v1h-1zM20 175h1v1h-1zM16 181h1v1h-1zM21 182h1v1h-1zM21 186h1v1h-1zM20 187h1v1h-1zM17 189h1v1h-1zM18 194h1v1h-1zM22 194h1v1h-1zM16 195h1v1h-1zM16 196h1v1h-1zM27 199h1v1h-1zM17 200h1v1h-1zM21 200h1v1h-1zM24 200h1v1h-1zM29 200h1v1h-1zM21 201h1v1h-1zM27 201h1v1h-1zM21 203h1v1h-1zM29 203h1v1h-1zM16 204h1v1h-1zM16 206h1v1h-1zM16 207h1v1h-1zM16 208h1v1h-1zM27 208h1v1h-1zM16 209h1v1h-1zM23 214h1v1h-1zM22 215h1v1h-1zM16 216h1v1h-1zM17 221h1v1h-1zM25 223h1v1h-1zM23 224h1v1h-1zM29 224h1v1h-1zM17 225h1v1h-1zM22 229h1v1h-1zM16 230h2v1h-2zM20 230h3v1h-3zM29 230h1v1h-1zM16 231h2v1h-2zM22 231h1v1h-1zM17 232h1v1h-1zM16 233h1v1h-1zM26 233h1v1h-1zM16 235h1v1h-1zM20 235h1v1h-1zM22 237h1v1h-1zM16 238h1v1h-1zM27 238h1v1h-1zM27 240h1v1h-1zM17 242h2v1h-2zM16 243h1v1h-1zM21 243h1v1h-1zM23 243h2v1h-2zM22 244h1v1h-1zM17 245h1v1h-1zM17 246h1v1h-1zM16 247h1v1h-1zM27 249h1v1h-1zM16 250h1v1h-1zM16 253h1v1h-1zM16 254h1v1h-1zM20 256h1v1h-1zM2 257h1v1h-1zM20 257h1v1h-1z"/><path fill="#d63f3f" d="M27 14h1v1h-1zM27 15h1v1h-1zM0 127h1v1h-1zM0 131h1v1h-1zM0 143h1v1h-1zM0 145h1v1h-1zM0 157h1v1h-1zM0 170h1v1h-1zM0 171h1v1h-1zM0 172h1v1h-1zM0 173h1v1h-1zM0 176h1v1h-1zM0 177h1v1h-1zM0 195h1v1h-1zM0 198h1v1h-1zM0 208h1v1h-1zM0 225h1v1h-1zM0 231h1v1h-1z"/><path fill="#dd5f5f" d="M27 17h1v1h-1zM27 22h1v1h-1zM0 67h1v1h-1zM0 77h1v1h-1zM0 80h1v1h-1zM0 97h1v1h-1zM0 113h1v1h-1zM0 134h1v1h-1zM0 140h1v1h-1zM0 142h1v1h-1zM0 156h1v1h-1zM0 160h1v1h-1zM0 165h1v1h-1zM0 193h1v1h-1zM0 206h1v1h-1zM0 210h1v1h-1zM0 212h1v1h-1zM0 214h1v1h-1zM0 219h1v1h-1zM0 223h1v1h-1zM0 244h1v1h-1zM0 246h1v1h-1zM0 253h1v1h-1z"/><path fill="#e06a6a" d="M27 18h1v1h-1zM0 68h1v1h-1zM0 73h1v1h-1zM0 85h2v1h-2zM0 104h1v1h-1zM0 110h1v1h-1zM0 114h1v1h-1zM0 122h1v1h-1zM0 135h1v1h-1zM0 144h1v1h-1zM0 153h1v1h-1zM0 159h1v1h-1zM0 161h1v1h-1zM0 163h1v1h-1zM0 166h1v1h-1zM0 168h1v1h-1zM0 180h1v1h-1zM0 187h1v1h-1zM0 189h1v1h-1zM0 213h1v1h-1zM0 215h1v1h-1zM0 217h1v1h-1zM0 229h1v1h-1zM0 230h1v1h-1zM0 240h1v1h-1zM0 249h1v1h-1zM0 252h1v1h-1zM6 255h1v1h-1zM0 256h1v1h-1z"/><path fill="#a1a6ff" d="M12 33h1v1h-1zM21 43h1v1h-1zM17 48h1v1h-1zM17 52h1v1h-1zM15 55h3v1h-3zM15 56h2v1h-2zM26 56h1v1h-1zM29 56h1v1h-1zM15 57h1v1h-1zM17 59h1v1h-1zM27 59h1v1h-1zM17 70h1v1h-1zM17 73h1v1h-1zM29 73h1v1h-1zM16 74h2v1h-2zM16 76h1v1h-1zM16 77h1v1h-1zM17 81h1v1h-1zM15 82h1v1h-1zM25 82h1v1h-1zM16 87h1v1h-1zM16 88h1v1h-1zM16 89h1v1h-1zM17 90h1v1h-1zM16 91h1v1h-1zM26 91h1v1h-1zM17 92h1v1h-1zM16 94h1v1h-1zM21 94h1v1h-1zM16 95h1v1h-1zM16 102h1v1h-1zM17 103h1v1h-1zM16 104h1v1h-1zM27 108h1v1h-1zM17 111h1v1h-1zM21 111h1v1h-1zM27 111h1v1h-1zM16 114h1v1h-1zM25 114h1v1h-1zM17 116h1v1h-1zM21 116h2v1h-2zM16 117h1v1h-1zM21 117h1v1h-1zM16 118h2v1h-2zM16 126h1v1h-1zM16 130h1v1h-1zM16 131h1v1h-1zM16 136h1v1h-1zM17 141h1v1h-1zM23 142h1v1h-1zM16 149h1v1h-1zM22 151h1v1h-1zM16 153h1v1h-1zM16 156h1v1h-1zM29 158h1v1h-1zM23 159h1v1h-1zM17 161h1v1h-1zM22 161h1v1h-1zM16 165h1v1h-1zM16 166h1v1h-1zM16 167h1v1h-1zM27 167h1v1h-1zM27 169h1v1h-1zM16 180h1v1h-1zM27 181h1v1h-1zM16 182h1v1h-1zM22 183h1v1h-1zM22 184h1v1h-1zM16 185h1v1h-1zM16 188h1v1h-1zM21 188h2v1h-2zM21 189h1v1h-1zM22 199h1v1h-1zM16 202h1v1h-1zM16 210h1v1h-1zM17 217h1v1h-1zM21 217h1v1h-1zM21 218h1v1h-1zM17 223h1v1h-1zM25 229h1v1h-1zM16 232h1v1h-1zM21 232h1v1h-1zM17 233h1v1h-1zM27 233h1v1h-1zM17 234h1v1h-1zM27 234h1v1h-1zM16 236h1v1h-1zM16 239h1v1h-1zM16 241h1v1h-1zM16 242h1v1h-1zM16 245h1v1h-1zM17 257h1v1h-1z"/><path fill="#959bff" d="M11 44h1v1h-1zM16 47h2v1h-2zM17 49h1v1h-1zM16 57h1v1h-1zM21 57h1v1h-1zM16 68h1v1h-1zM16 70h1v1h-1zM16 71h2v1h-2zM16 82h1v1h-1zM27 82h1v1h-1zM17 84h1v1h-1zM16 90h1v1h-1zM23 92h1v1h-1zM27 105h1v1h-1zM17 109h1v1h-1zM16 113h1v1h-1zM16 116h1v1h-1zM25 141h1v1h-1zM16 159h1v1h-1zM16 161h1v1h-1zM16 175h1v1h-1zM27 188h1v1h-1zM27 195h1v1h-1zM16 199h1v1h-1zM16 200h1v1h-1zM27 200h1v1h-1zM16 213h1v1h-1zM16 214h1v1h-1zM16 215h1v1h-1zM16 222h1v1h-1zM16 224h1v1h-1zM16 229h1v1h-1zM21 231h1v1h-1zM27 232h1v1h-1zM20 233h1v1h-1zM21 234h1v1h-1zM22 243h1v1h-1zM17 244h1v1h-1zM20 244h1v1h-1zM21 246h1v1h-1z"/><path fill="#7e85ff" d="M17 56h1v1h-1zM17 58h1v1h-1zM17 125h1v1h-1zM11 233h1v1h-1zM16 244h1v1h-1z"/><path fill="#e27575" d="M1 61h1v1h-1zM0 66h1v1h-1zM0 81h1v1h-1zM0 83h1v1h-1zM0 93h1v1h-1zM0 116h1v1h-1zM0 120h1v1h-1zM0 133h1v1h-1zM0 150h1v1h-1zM0 151h1v1h-1zM0 155h1v1h-1zM0 158h1v1h-1zM0 162h1v1h-1zM0 190h1v1h-1zM0 205h1v1h-1zM0 209h1v1h-1zM0 239h1v1h-1zM0 243h1v1h-1z"/><path fill="#8a90ff" d="M17 72h1v1h-1zM17 76h1v1h-1zM11 77h1v1h-1zM21 80h1v1h-1zM22 88h1v1h-1zM17 89h1v1h-1zM17 91h1v1h-1zM17 95h1v1h-1zM17 104h1v1h-1zM17 112h1v1h-1zM17 142h1v1h-1zM16 158h1v1h-1zM27 158h1v1h-1zM16 162h1v1h-1zM29 181h1v1h-1zM8 188h1v1h-1zM20 208h1v1h-1zM27 230h1v1h-1zM16 234h1v1h-1zM18 244h1v1h-1zM16 246h1v1h-1z"/><path fill="#db5555" d="M0 86h1v1h-1zM0 88h1v1h-1zM0 89h1v1h-1zM0 91h1v1h-1zM0 99h1v1h-1zM0 101h1v1h-1zM0 103h1v1h-1zM0 111h1v1h-1zM0 124h1v1h-1zM0 129h1v1h-1zM0 138h1v1h-1zM0 146h1v1h-1zM0 147h1v1h-1zM0 179h1v1h-1zM0 181h1v1h-1zM0 182h1v1h-1zM0 191h1v1h-1zM0 199h1v1h-1zM0 221h1v1h-1zM0 226h1v1h-1zM0 234h1v1h-1zM0 237h1v1h-1zM0 238h1v1h-1zM0 242h1v1h-1zM0 251h1v1h-1zM0 255h1v1h-1z"/><path fill="#727aff" d="M16 105h1v1h-1zM16 115h1v1h-1zM24 133h1v1h-1z"/><path fill="#d43535" d="M0 123h1v1h-1zM0 128h1v1h-1zM0 137h1v1h-1zM0 139h1v1h-1zM0 164h1v1h-1zM0 174h1v1h-1zM0 184h1v1h-1zM0 197h1v1h-1zM0 204h1v1h-1zM0 216h1v1h-1zM0 218h1v1h-1zM0 224h1v1h-1zM0 245h1v1h-1z"/><path fill="#434dff" d="M17 209h1v1h-1z"/><path fill="#4f58ff" d="M16 228h1v1h-1z"/></g>
<rect x="986" y="674.5" width="19" height="388.5" fill="#000"/><path d="M1005.1 674.8H986.2V675.5H1005.1M986.2 675.2H979.7V676.2H1005.1M1005.1 677.5H981.9V678.2H1005.1M1005.1 676.8H975V677.8H981.9M979.7 675.7H967.2V677.3H975M1005.1 678.8H981.5V679.5H1005.1M981.5 679.2H980V680.2H1005.1M980 679.7H977.5V680.8H1005.1M967.2 676.5H966.1V680.2H977.5M1005.1 682.8H982.5V683.5H1005.1M1005.1 682.2H979.3V683.2H982.5M1005.1 681.5H977.2V682.7H979.3M1005.1 684.2H983.6V684.8H1005.1M1005.1 685.5H981.6V686.2H1005.1M981.6 685.8H974.6V686.8H1005.1M983.6 684.5H969.5V686.3H974.6M977.2 682.1H962.8V685.4H969.5M1005.1 688.2H986V688.8H1005.1M1005.1 687.5H978.9V688.5H986M962.8 683.7H959.6V688H978.9M1005.1 689.5H982.2V690.2H1005.1M1005.1 690.8H984.4V691.5H1005.1M1005.1 692.2H984.6V692.8H1005.1M1005.1 693.5H985.9V694.2H1005.1M984.6 692.5H977.4V693.8H985.9M984.4 691.2H974.5V693.2H977.4M982.2 689.8H967.5V692.2H974.5M1005.1 695.5H985V696.2H1005.1M1005.1 694.8H974.6V695.8H985M1005.1 696.8H981.2V697.5H1005.1M1005.1 698.8H982.1V699.5H1005.1M1005.1 698.2H980.7V699.2H982.1M980.7 698.7H971.4V700.2H1005.1M1005.1 700.8H980.8V701.5H1005.1M971.4 699.4H969.2V701.2H980.8M981.2 697.2H968.2V700.3H969.2M974.6 695.3H964.9V698.7H968.2M967.5 691H963.8V697H964.9M1005.1 702.2H985.5V702.8H1005.1M1005.1 703.5H981V704.2H1005.1M985.5 702.5H974.8V703.8H981M1005.1 704.8H984.4V705.5H1005.1M974.8 703.2H970.8V705.2H984.4M963.8 694H962.2V704.2H970.8M959.6 685.9H955.4V699.1H962.2M966.1 678.4H952.1V692.5H955.4M1005.1 706.2H982.4V706.8H1005.1M1005.1 707.5H982V708.2H1005.1M982.4 706.5H973.3V707.8H982M1005.1 708.8H981.1V709.5H1005.1M973.3 707.2H967.9V709.2H981.1M1005.1 710.2H982.7V710.8H1005.1M982.7 710.5H976.7V711.5H1005.1M1005.1 712.2H982.5V712.8H1005.1M982.5 712.5H979V713.5H1005.1M1005.1 714.1H983.4V714.8H1005.1M979 713H974.8V714.5H983.4M976.7 711H972.4V713.7H974.8M967.9 708.2H960V712.4H972.4M952.1 685.4H949.3V710.3H960M1005.1 716.1H982.7V716.8H1005.1M1005.1 715.5H981.2V716.5H982.7M1005.1 717.5H982.8V718.1H1005.1M981.2 716H970.5V717.8H982.8M1005.1 719.5H984.5V720.1H1005.1M1005.1 718.8H979.8V719.8H984.5M970.5 716.9H968.3V719.3H979.8M1005.1 721.5H981.3V722.1H1005.1M1005.1 720.8H977.2V721.8H981.3M1005.1 723.5H981.7V724.1H1005.1M1005.1 722.8H979.5V723.8H981.7M977.2 721.3H974.5V723.3H979.5M968.3 718.1H966.5V722.3H974.5M1005.1 724.8H982.7V725.5H1005.1M982.7 725.1H977.6V726.1H1005.1M977.6 725.6H975.8V726.8H1005.1M1005.1 728.1H981.4V728.8H1005.1M1005.1 727.5H976V728.5H981.4M976 728H973.8V729.5H1005.1M975.8 726.2H966.6V728.7H973.8M966.5 720.2H957.3V727.5H966.6M1005.1 730.8H980.9V731.5H1005.1M1005.1 730.1H978.4V731.1H980.9M1005.1 733.5H984.5V734.1H1005.1M1005.1 732.8H974.6V733.8H984.5M1005.1 732.1H971.4V733.3H974.6M978.4 730.6H967.8V732.7H971.4M1005.1 734.8H982V735.5H1005.1M1005.1 736.1H983.3V736.8H1005.1M982 735.1H973.6V736.5H983.3M1005.1 737.5H982.9V738.1H1005.1M1005.1 738.8H983V739.5H1005.1M982.9 737.8H977.3V739.1H983M1005.1 740.1H983.7V740.8H1005.1M1005.1 741.5H983V742.1H1005.1M983.7 740.5H975.9V741.8H983M1005.1 742.8H983.9V743.5H1005.1M983.9 743.1H977.6V744.1H1005.1M977.6 743.6H974.9V744.8H1005.1M975.9 741.1H967.1V744.2H974.9M977.3 738.5H965.7V742.7H967.1M973.6 735.8H964.3V740.6H965.7M967.8 731.7H958.4V738.2H964.3M957.3 723.8H950.2V734.9H958.4M949.3 697.8H938V729.4H950.2M1005.1 745.5H983.5V746.1H1005.1M983.5 745.8H980.4V746.8H1005.1M980.4 746.3H976.3V747.5H1005.1M1005.1 748.8H980.9V749.5H1005.1M980.9 749.1H977.6V750.1H1005.1M977.6 749.6H976.7V750.8H1005.1M1005.1 748.1H971.5V750.2H976.7M976.3 746.9H963.4V749.2H971.5M1005.1 751.5H985.4V752.1H1005.1M1005.1 753.5H986V754.1H1005.1M1005.1 752.8H980.7V753.8H986M985.4 751.8H975.8V753.3H980.7M975.8 752.5H973.7V754.8H1005.1M1005.1 755.5H984.6V756.1H1005.1M1005.1 756.8H981.1V757.5H1005.1M984.6 755.8H971.6V757.1H981.1M973.7 753.7H965.9V756.5H971.6M1005.1 758.1H985.6V758.8H1005.1M985.6 758.5H979.7V759.5H1005.1M1005.1 760.1H982.7V760.8H1005.1M982.7 760.5H976.3V761.5H1005.1M979.7 759H969.3V761H976.3M1005.1 762.8H984.5V763.5H1005.1M1005.1 762.1H979.8V763.1H984.5M1005.1 764.1H982.3V764.8H1005.1M979.8 762.6H975.7V764.5H982.3M969.3 760H967V763.5H975.7M1005.1 765.5H981.8V766.1H1005.1M981.8 765.8H980.6V766.8H1005.1M1005.1 767.5H982.9V768.1H1005.1M1005.1 768.8H982.2V769.5H1005.1M982.2 769.1H980.5V770.1H1005.1M982.9 767.8H973.5V769.6H980.5M980.6 766.3H966.5V768.7H973.5M967 761.8H964.2V767.5H966.5M965.9 755.1H963.1V764.6H964.2M963.4 748H958.3V759.8H963.1M1005.1 770.8H981.4V771.5H1005.1M1005.1 772.8H984.2V773.5H1005.1M1005.1 772.1H980.7V773.1H984.2M1005.1 775.5H983.6V776.1H1005.1M1005.1 774.8H980.3V775.8H983.6M1005.1 774.1H977.3V775.3H980.3M980.7 772.6H973.4V774.7H977.3M1005.1 776.8H984.3V777.5H1005.1M973.4 773.7H971.6V777.1H984.3M981.4 771.1H969.8V775.4H971.6M1005.1 778.8H985.9V779.5H1005.1M1005.1 778.1H980V779.1H985.9M1005.1 780.1H985.4V780.8H1005.1M985.4 780.5H979.5V781.5H1005.1M1005.1 782.8H980.9V783.5H1005.1M1005.1 782.1H974.9V783.1H980.9M979.5 781H971.6V782.6H974.9M980 778.6H965.6V781.8H971.6M1005.1 784.1H984.4V784.8H1005.1M1005.1 785.5H981.3V786.1H1005.1M984.4 784.5H974.2V785.8H981.3M1005.1 787.5H984V788.1H1005.1M1005.1 786.8H978.7V787.8H984M1005.1 788.8H985.8V789.5H1005.1M985.8 789.1H977.9V790.1H1005.1M1005.1 791.4H983.3V792.1H1005.1M1005.1 790.8H976V791.8H983.3M1005.1 792.8H981.2V793.4H1005.1M981.2 793.1H978.8V794.1H1005.1M976 791.3H974.7V793.6H978.8M977.9 789.6H971.9V792.4H974.7M978.7 787.3H968.9V791H971.9M974.2 785.1H964.9V789.2H968.9M965.6 780.2H963.2V787.1H964.9M1005.1 794.8H984.6V795.4H1005.1M1005.1 796.1H985.8V796.8H1005.1M1005.1 798.8H985.2V799.4H1005.1M1005.1 798.1H981V799.1H985.2M1005.1 797.4H975.1V798.6H981M985.8 796.4H967.6V798H975.1M984.6 795.1H964.6V797.2H967.6M963.2 783.7H955.6V796.2H964.6M969.8 773.3H953.8V789.9H955.6M1005.1 800.1H984.8V800.8H1005.1M984.8 800.4H975.1V801.4H1005.1M1005.1 802.1H985.6V802.8H1005.1M975.1 800.9H972.7V802.4H985.6M1005.1 803.4H985.9V804.1H1005.1M1005.1 805.4H984.3V806.1H1005.1M1005.1 804.8H981.2V805.8H984.3M985.9 803.8H974.2V805.3H981.2M972.7 801.7H965.4V804.5H974.2M1005.1 806.8H984.3V807.4H1005.1M1005.1 808.1H983.1V808.8H1005.1M984.3 807.1H973.7V808.4H983.1M965.4 803.1H963V807.8H973.7M1005.1 809.4H981.2V810.1H1005.1M1005.1 810.8H983.3V811.4H1005.1M983.3 811.1H978.3V812.1H1005.1M981.2 809.8H969.7V811.6H978.3M1005.1 812.8H985.7V813.4H1005.1M969.7 810.7H967V813.1H985.7M1005.1 814.8H985.2V815.4H1005.1M1005.1 814.1H978.7V815.1H985.2M978.7 814.6H974V816.1H1005.1M1005.1 816.8H985.5V817.4H1005.1M1005.1 818.1H986.1V818.8H1005.1M985.5 817.1H976.5V818.4H986.1M976.5 817.8H974.3V819.4H1005.1M1005.1 820.1H981.9V820.8H1005.1M1005.1 821.4H983V822.1H1005.1M983 821.8H978.8V822.8H1005.1M1005.1 823.4H984.5V824.1H1005.1M978.8 822.3H973.2V823.8H984.5M981.9 820.4H971V823H973.2M974.3 818.6H968.3V821.7H971M974 815.4H966.9V820.2H968.3M967 811.9H964V817.8H966.9M963 805.4H960.9V814.8H964M953.8 781.6H952.1V810.1H960.9M958.3 753.9H950V795.9H952.1M1005.1 824.8H984.3V825.4H1005.1M1005.1 826.8H982.2V827.4H1005.1M982.2 827.1H978.7V828.1H1005.1M978.7 827.6H976.4V828.8H1005.1M1005.1 826.1H974.1V828.2H976.4M1005.1 829.4H983.4V830.1H1005.1M974.1 827.1H970.3V829.8H983.4M984.3 825.1H968.8V828.5H970.3M1005.1 831.4H984.2V832.1H1005.1M1005.1 830.8H981.4V831.8H984.2M1005.1 834.1H984.6V834.8H1005.1M1005.1 833.4H978.8V834.4H984.6M978.8 833.9H973.3V835.4H1005.1M1005.1 832.8H971.3V834.7H973.3M981.4 831.3H963.2V833.7H971.3M968.8 826.8H960.4V832.5H963.2M1005.1 836.1H982.3V836.8H1005.1M982.3 836.4H977.5V837.4H1005.1M1005.1 838.8H983.2V839.4H1005.1M1005.1 838.1H980.1V839.1H983.2M980.1 838.6H976.3V840.1H1005.1M1005.1 841.4H984.5V842.1H1005.1M984.5 841.8H978V842.8H1005.1M1005.1 840.8H974.2V842.3H978M1005.1 843.4H981.6V844.1H1005.1M981.6 843.8H975V844.8H1005.1M974.2 841.5H971.8V844.3H975M976.3 839.3H964.7V842.9H971.8M977.5 836.9H960.1V841.1H964.7M1005.1 846.1H982.8V846.8H1005.1M1005.1 845.4H980.4V846.4H982.8M1005.1 848.8H982.5V849.4H1005.1M1005.1 848.1H980V849.1H982.5M1005.1 847.4H977.7V848.6H980M977.7 848H973.4V850.1H1005.1M1005.1 850.8H984.1V851.4H1005.1M973.4 849.1H971.2V851.1H984.1M980.4 845.9H968.9V850.1H971.2M960.1 839H957.6V848H968.9M960.4 829.6H956.4V843.5H957.6M1005.1 852.1H983.6V852.8H1005.1M1005.1 854.1H983.1V854.8H1005.1M983.1 854.4H977.9V855.4H1005.1M1005.1 853.4H971.3V854.9H977.9M983.6 852.4H968.4V854.2H971.3M1005.1 856.8H984V857.4H1005.1M1005.1 856.1H975.5V857.1H984M968.4 853.3H965.5V856.6H975.5M1005.1 858.1H985.9V858.8H1005.1M965.5 854.9H964.6V858.4H985.9M1005.1 859.4H984.3V860.1H1005.1M1005.1 861.4H983.4V862.1H1005.1M1005.1 863.4H985.8V864.1H1005.1M1005.1 862.8H976.1V863.8H985.8M983.4 861.8H974.3V863.3H976.1M1005.1 860.8H970.4V862.5H974.3M984.3 859.8H968.8V861.6H970.4M1005.1 864.8H984.1V865.4H1005.1M1005.1 866.8H981.7V867.4H1005.1M981.7 867.1H976.1V868.1H1005.1M1005.1 866.1H973.5V867.6H976.1M1005.1 868.8H980.8V869.4H1005.1M973.5 866.8H970.3V869.1H980.8M984.1 865.1H967.6V868H970.3M968.8 860.7H965.6V866.5H967.6M964.6 856.7H962.7V863.6H965.6M956.4 836.6H953.9V860.1H962.7M1005.1 870.1H984.7V870.7H1005.1M1005.1 872.1H984.2V872.7H1005.1M1005.1 871.4H980.2V872.4H984.2M984.7 870.4H972.9V871.9H980.2M1005.1 873.4H985V874.1H1005.1M1005.1 874.7H984.8V875.4H1005.1M1005.1 876.1H982V876.7H1005.1M984.8 875.1H978.3V876.4H982M985 873.7H971.8V875.7H978.3M1005.1 878.1H985.7V878.7H1005.1M1005.1 877.4H974.6V878.4H985.7M971.8 874.7H969.7V877.9H974.6M972.9 871.2H964.6V876.3H969.7M1005.1 879.4H986.2V880.1H1005.1M986.2 879.7H980.5V880.7H1005.1M1005.1 881.4H983.5V882.1H1005.1M980.5 880.2H974.2V881.7H983.5M1005.1 884.1H984.6V884.7H1005.1M1005.1 883.4H979.6V884.4H984.6M1005.1 882.7H978.1V883.9H979.6M974.2 881H964.8V883.3H978.1M1005.1 886.1H981.1V886.7H1005.1M1005.1 885.4H974.5V886.4H981.1M974.5 885.9H972.9V887.4H1005.1M1005.1 888.7H981.2V889.4H1005.1M1005.1 888.1H976.3V889.1H981.2M972.9 886.7H965.1V888.6H976.3M964.8 882.2H963.5V887.6H965.1M964.6 873.7H961.6V884.9H963.5M953.9 848.4H951.5V879.3H961.6M1005.1 890.1H984.4V890.7H1005.1M1005.1 891.4H984.9V892.1H1005.1M984.9 891.7H977.1V892.7H1005.1M977.1 892.2H973.9V893.4H1005.1M1005.1 894.1H983.9V894.7H1005.1M973.9 892.8H972.5V894.4H983.9M984.4 890.4H968.2V893.6H972.5M1005.1 895.4H981.7V896.1H1005.1M1005.1 896.7H982.3V897.4H1005.1M1005.1 898.1H985.9V898.7H1005.1M1005.1 899.4H981.4V900.1H1005.1M1005.1 900.7H982.7V901.4H1005.1M981.4 899.7H978V901.1H982.7M985.9 898.4H975V900.4H978M982.3 897.1H972.1V899.4H975M981.7 895.7H966.8V898.2H972.1M1005.1 902.1H986.3V902.7H1005.1M1005.1 904.1H985.2V904.7H1005.1M985.2 904.4H979.9V905.4H1005.1M1005.1 903.4H971.4V904.9H979.9M986.3 902.4H968.2V904.2H971.4M966.8 897H966V903.3H968.2M968.2 892H959V900.1H966M1005.1 906.7H984.8V907.4H1005.1M1005.1 906.1H977.4V907.1H984.8M1005.1 908.1H984V908.7H1005.1M984 908.4H975.2V909.4H1005.1M977.4 906.6H970.5V908.9H975.2M1005.1 910.1H982.8V910.7H1005.1M1005.1 912.1H985.7V912.7H1005.1M1005.1 911.4H980.6V912.4H985.7M982.8 910.4H973.4V911.9H980.6M1005.1 913.4H985.8V914.1H1005.1M1005.1 914.7H984V915.4H1005.1M985.8 913.7H976.5V915.1H984M1005.1 916.1H982.1V916.7H1005.1M982.1 916.4H979.3V917.4H1005.1M976.5 914.4H970V916.9H979.3M1005.1 918.1H985.7V918.7H1005.1M970 915.6H966.1V918.4H985.7M973.4 911.1H965.2V917H966.1M970.5 907.7H962.7V914.1H965.2M1005.1 920.1H985.8V920.7H1005.1M1005.1 921.4H983.9V922.1H1005.1M985.8 920.4H976.8V921.7H983.9M1005.1 919.4H975.7V921.1H976.8M975.7 920.2H973.9V922.7H1005.1M1005.1 924.1H982.8V924.7H1005.1M1005.1 923.4H977.8V924.4H982.8M1005.1 925.4H986V926.1H1005.1M1005.1 926.7H983.5V927.4H1005.1M1005.1 928.1H984.9V928.7H1005.1M983.5 927.1H975V928.4H984.9M986 925.7H971.3V927.7H975M977.8 923.9H969.4V926.7H971.3M973.9 921.5H967.6V925.3H969.4M962.7 910.9H961.5V923.4H967.6M959 896.1H949.7V917.2H961.5M951.5 863.8H948.6V906.6H949.7M950 774.9H944V885.2H948.6M1005.1 929.4H985.7V930.1H1005.1M985.7 929.7H976.8V930.7H1005.1M1005.1 931.4H984.3V932.1H1005.1M976.8 930.2H975.7V931.7H984.3M1005.1 932.7H981.5V933.4H1005.1M1005.1 934.7H984V935.4H1005.1M1005.1 934.1H979.1V935.1H984M981.5 933.1H971.5V934.6H979.1M1005.1 936.1H984V936.7H1005.1M1005.1 937.4H984.4V938.1H1005.1M984 936.4H976.1V937.7H984.4M976.1 937.1H973.2V938.7H1005.1M1005.1 939.4H982.4V940.1H1005.1M973.2 937.9H972.4V939.7H982.4M971.5 933.8H968.2V938.8H972.4M975.7 931H955.9V936.3H968.2M1005.1 940.7H981.9V941.4H1005.1M981.9 941.1H980.6V942.1H1005.1M1005.1 942.7H985V943.4H1005.1M1005.1 944.1H982.7V944.7H1005.1M985 943.1H974.8V944.4H982.7M980.6 941.6H973.2V943.7H974.8M1005.1 946.1H982.2V946.7H1005.1M1005.1 945.4H977.9V946.4H982.2M973.2 942.6H962.8V945.9H977.9M1005.1 948H983.9V948.7H1005.1M1005.1 947.4H976.1V948.4H983.9M1005.1 950H984.4V950.7H1005.1M1005.1 949.4H974.9V950.4H984.4M974.9 949.9H973.7V951.4H1005.1M1005.1 952H985.8V952.7H1005.1M973.7 950.6H971.3V952.4H985.8M1005.1 953.4H984.1V954H1005.1M984.1 953.7H978.4V954.7H1005.1M971.3 951.5H968.9V954.2H978.4M1005.1 956.7H986.1V957.4H1005.1M1005.1 956H978.6V957H986.1M1005.1 955.4H971.5V956.5H978.6M968.9 952.9H966.7V956H971.5M976.1 947.9H965.9V954.4H966.7M1005.1 958H982.7V958.7H1005.1M982.7 958.4H975.9V959.4H1005.1M975.9 958.9H972.5V960H1005.1M1005.1 961.4H984.9V962H1005.1M1005.1 960.7H978.3V961.7H984.9M972.5 959.5H967.2V961.2H978.3M965.9 951.1H964.4V960.3H967.2M1005.1 962.7H986.3V963.4H1005.1M1005.1 964H981V964.7H1005.1M1005.1 965.4H981.2V966H1005.1M981 964.4H977.7V965.7H981.2M986.3 963H971.6V965H977.7M1005.1 966.7H983.8V967.4H1005.1M983.8 967H978.2V968H1005.1M1005.1 968.7H983.3V969.4H1005.1M978.2 967.5H976.4V969H983.3M971.6 964H966.8V968.3H976.4M1005.1 971.4H983.3V972H1005.1M1005.1 970.7H979.4V971.7H983.3M1005.1 970H975.1V971.2H979.4M966.8 966.2H965.8V970.6H975.1M964.4 955.7H960.3V968.4H965.8M962.8 944.3H958.6V962.1H960.3M955.9 933.6H949.5V953.2H958.6M1005.1 972.7H983.8V973.4H1005.1M1005.1 974H984.9V974.7H1005.1M984.9 974.4H978.3V975.4H1005.1M983.8 973H976.1V974.9H978.3M1005.1 976H985.8V976.7H1005.1M1005.1 977.4H985.8V978H1005.1M985.8 976.4H976.1V977.7H985.8M976.1 974H965.3V977H976.1M1005.1 980.7H983.5V981.4H1005.1M1005.1 980H978.6V981H983.5M1005.1 979.4H976.7V980.5H978.6M1005.1 978.7H972.6V980H976.7M1005.1 982H984.1V982.7H1005.1M984.1 982.4H978.3V983.4H1005.1M972.6 979.3H964.3V982.9H978.3M1005.1 984H982.1V984.7H1005.1M982.1 984.4H981.1V985.4H1005.1M981.1 984.9H977.1V986H1005.1M1005.1 986.7H986.1V987.4H1005.1M1005.1 988H984.5V988.7H1005.1M986.1 987H973.6V988.4H984.5M977.1 985.4H969V987.7H973.6M1005.1 990H981.4V990.7H1005.1M1005.1 989.4H979.2V990.4H981.4M1005.1 991.4H981.6V992H1005.1M1005.1 992.7H982.2V993.4H1005.1M981.6 991.7H971.7V993H982.2M979.2 989.9H968.8V992.4H971.7M1005.1 994.7H982.9V995.4H1005.1M1005.1 994H974.9V995H982.9M1005.1 996.7H981.8V997.4H1005.1M1005.1 996H978.3V997H981.8M974.9 994.5H972.4V996.5H978.3M968.8 991.1H967.7V995.5H972.4M969 986.6H965V993.3H967.7M964.3 981.1H962.3V989.9H965M965.3 975.5H960.5V985.5H962.3M1005.1 998.7H984.8V999.4H1005.1M1005.1 1000H985.1V1000.7H1005.1M984.8 999H974.5V1000.4H985.1M1005.1 998H973.6V999.7H974.5M1005.1 1001.4H985.6V1002H1005.1M1005.1 1003.4H984.9V1004H1005.1M984.9 1003.7H980.3V1004.7H1005.1M980.3 1004.2H977.6V1005.4H1005.1M1005.1 1002.7H973.8V1004.8H977.6M985.6 1001.7H971.5V1003.7H973.8M973.6 998.9H961.4V1002.7H971.5M1005.1 1006H982.2V1006.7H1005.1M982.2 1006.4H975.5V1007.4H1005.1M1005.1 1008H986.1V1008.7H1005.1M1005.1 1010H984.3V1010.7H1005.1M1005.1 1009.4H980.6V1010.4H984.3M986.1 1008.4H973.2V1009.9H980.6M975.5 1006.9H969.6V1009.1H973.2M1005.1 1011.4H984.5V1012H1005.1M1005.1 1012.7H982.8V1013.4H1005.1M984.5 1011.7H972V1013H982.8M969.6 1008H968.8V1012.4H972M961.4 1000.8H958.9V1010.2H968.8M960.5 980.5H953.1V1005.5H958.9M1005.1 1016H982.3V1016.7H1005.1M1005.1 1015.4H978.2V1016.4H982.3M1005.1 1014.7H976.1V1015.9H978.2M1005.1 1014H971.5V1015.3H976.1M1005.1 1017.4H985.3V1018H1005.1M1005.1 1018.7H984.6V1019.4H1005.1M984.6 1019H978.1V1020H1005.1M1005.1 1021.4H985.6V1022H1005.1M985.6 1021.7H978.1V1022.7H1005.1M1005.1 1020.7H974.2V1022.2H978.1M978.1 1019.5H972.7V1021.4H974.2M985.3 1017.7H968.8V1020.5H972.7M1005.1 1023.4H986.2V1024H1005.1M986.2 1023.7H980.1V1024.7H1005.1M968.8 1019.1H966.5V1024.2H980.1M1005.1 1025.3H984.1V1026H1005.1M1005.1 1027.3H983.1V1028H1005.1M1005.1 1026.7H981.3V1027.7H983.1M1005.1 1029.3H982.6V1030H1005.1M1005.1 1028.7H978.1V1029.7H982.6M981.3 1027.2H974.6V1029.2H978.1M984.1 1025.7H972.2V1028.2H974.6M966.5 1021.6H964.6V1026.9H972.2M971.5 1014.6H961.1V1024.3H964.6M953.1 993H951.6V1019.5H961.1M1005.1 1032H982.1V1032.7H1005.1M1005.1 1031.3H977.1V1032.3H982.1M1005.1 1030.7H973V1031.8H977.1M1005.1 1033.3H983.7V1034H1005.1M983.7 1033.7H977.8V1034.7H1005.1M973 1031.3H968.5V1034.2H977.8M1005.1 1035.3H982.3V1036H1005.1M1005.1 1036.7H981.9V1037.3H1005.1M981.9 1037H976V1038H1005.1M982.3 1035.7H971.7V1037.5H976M968.5 1032.7H965.6V1036.6H971.7M1005.1 1038.7H983.4V1039.3H1005.1M983.4 1039H981V1040H1005.1M981 1039.5H971.6V1040.7H1005.1M1005.1 1041.3H982.8V1042H1005.1M982.8 1041.7H976.1V1042.7H1005.1M971.6 1040.1H969.1V1042.2H976.1M965.6 1034.7H958.8V1041.1H969.1M1005.1 1043.3H981V1044H1005.1M1005.1 1044.7H981.6V1045.3H1005.1M981.6 1045H979.7V1046H1005.1M1005.1 1046.7H984.9V1047.3H1005.1M979.7 1045.5H974.7V1047H984.9M1005.1 1048H985.6V1048.7H1005.1M974.7 1046.3H973.2V1048.3H985.6M981 1043.7H965.1V1047.3H973.2M1005.1 1049.3H983.6V1050H1005.1M1005.1 1050.7H984.8V1051.3H1005.1M983.6 1049.7H976.5V1051H984.8M1005.1 1052H981.1V1052.7H1005.1M1005.1 1053.3H983.9V1054H1005.1M981.1 1052.3H976.6V1053.7H983.9M1005.1 1054.7H980.8V1055.3H1005.1M976.6 1053H973.9V1055H980.8M976.5 1050.3H963.1V1054H973.9M965.1 1045.5H956.3V1052.2H963.1M958.8 1037.9H954.4V1048.8H956.3M1005.1 1056H984.6V1056.7H1005.1M984.6 1056.3H980.4V1057.3H1005.1M980.4 1056.8H974.9V1058H1005.1M1005.1 1059.3H982V1060H1005.1M1005.1 1058.7H974.8V1059.7H982M1005.1 1060.7H982.6V1061.3H1005.1M982.6 1061H979.6V1062H1005.1M979.6 1061.5H977.7V1062.7H1005.1M974.8 1059.2H968.8V1062.1H977.7M974.9 1057.4H961.8V1060.6H968.8M954.4 1043.4H953.5V1059H961.8M951.6 1006.2H946.3V1051.2H953.5M949.5 943.4H943.8V1028.7H946.3M944 830.1H938V986.1H943.8M938 713.6H923.3V908.1H938" fill="none" stroke="#000" stroke-width="1"/>
<path d="M1013.5 674.5V593.3H1240.5V621.5M1077.5 639.1V621.5H1403V639.1M1031.1 674.5V639.1H1124.6V646.5M1064.8 654V646.5H1184.3V652.4M1049.1 674.5V654H1080.4V660.2M1067.3 674.5V660.2H1093.7V662.2M1084.9 674.5V662.2H1102.7V674.5M1147.5 659.3V652.4H1221.5V655M1129.3 663.8V659.3H1165.5V659.8M1120.5 674.5V663.8H1138.4V674.5M1156.3 674.5V659.8H1174.4V674.5M1200.9 660.6V655H1241V659.8M1192.3 674.5V660.6H1209.8V674.5M1227.6 674.5V659.8H1254.6V663.8M1245.4 674.5V663.8H1263.5V674.5M1312.6 645.6V639.1H1493.2V643M1281.3 674.5V645.6H1344.9V648.5M1308.1 654.8V648.5H1381.1V651.8M1299.4 674.5V654.8H1317.5V674.5M1343.9 657.3V651.8H1418.3V655.3M1334.9 674.5V657.3H1352.7V674.5M1387 659.6V655.3H1450.6V658.3M1370.5 674.5V659.6H1414V661.8M1388.4 674.5V661.8H1397.2V661.8M1406.2 674.5V661.8H1424.1V674.5M1441.6 674.5V658.3H1459.5V674.5M1477.8 674.5V643H1508.9V647.9M1495.6 674.5V647.9H1522.4V651.8M1513.6 674.5V651.8H1531.2V674.5" fill="none" stroke="#333" stroke-width="1.2"/>
<defs><linearGradient id="zc" x1="0" y1="0" x2="0" y2="1"><stop offset="0.000" stop-color="#d22a2a"/><stop offset="0.125" stop-color="#dd5f5f"/><stop offset="0.250" stop-color="#e89494"/><stop offset="0.375" stop-color="#f4caca"/><stop offset="0.500" stop-color="#ffffff"/><stop offset="0.625" stop-color="#c4c8ff"/><stop offset="0.750" stop-color="#8a90ff"/><stop offset="0.875" stop-color="#4f58ff"/><stop offset="1.000" stop-color="#1421ff"/></linearGradient></defs><rect x="1548.5" y="674" width="15" height="231.4" fill="url(#zc)"/><text x="1576.2" y="692.4" font-size="24">4</text><text x="1576.6" y="800" font-size="24">0</text><text x="1568.5" y="906.2" font-size="24">-4</text><text transform="translate(1606.7,715.6) rotate(90)" font-size="25.5">Z-score, H3K27ac signal</text>
<text transform="translate(902.9,1035.3) rotate(-90)" font-size="29.8">Differential SEs (<tspan font-style="italic">n</tspan> = 583)</text>
<text x="1031" y="1117.2">Normal (<tspan font-style="italic">n</tspan> = 15)</text>
<text x="1312.5" y="1117.2">CRC (<tspan font-style="italic">n</tspan> = 15)</text>
<path d="M1013.5 1067.5h1M1031.4 1067.5h1M1049.2 1067.5h1M1067.1 1067.5h1M1084.9 1067.5h1M1102.8 1067.5h1M1120.6 1067.5h1M1138.5 1067.5h1M1156.4 1067.5h1M1174.2 1067.5h1M1192.1 1067.5h1M1209.9 1067.5h1M1227.8 1067.5h1M1245.6 1067.5h1M1263.5 1067.5h1M1281.3 1067.5h1M1299.2 1067.5h1M1317 1067.5h1M1334.9 1067.5h1M1352.7 1067.5h1M1370.6 1067.5h1M1388.4 1067.5h1M1406.3 1067.5h1M1424.2 1067.5h1M1442 1067.5h1M1459.9 1067.5h1M1477.7 1067.5h1M1495.6 1067.5h1M1513.4 1067.5h1M1531.3 1067.5h1" stroke="#bbb" stroke-width="1.2" stroke-dasharray="1,1"/>
<line x1="1005.6" y1="1073" x2="1267.6" y2="1073.6" stroke="#000" stroke-width="1.3"/>
<line x1="1279.2" y1="1073" x2="1540" y2="1073.6" stroke="#000" stroke-width="1.3"/>
</svg>
</body></html>
